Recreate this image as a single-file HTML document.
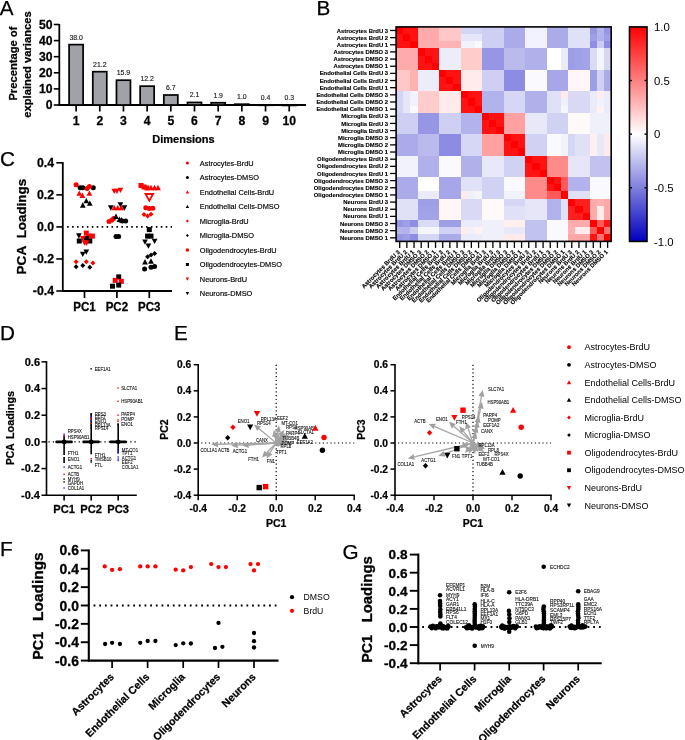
<!DOCTYPE html>
<html><head><meta charset="utf-8"><style>
html,body{margin:0;padding:0;background:#fff;width:685px;height:740px;overflow:hidden}
svg{display:block;font-family:"Liberation Sans",sans-serif;will-change:transform}
</style></head><body>
<svg width="685" height="740" viewBox="0 0 685 740">
<rect width="685" height="740" fill="#fff"/>
<text x="-0.30" y="14.70" font-size="20.7" stroke="#000" stroke-width="0.25">A</text>
<line x1="59.30" y1="24.00" x2="59.30" y2="105.80" stroke="#000" stroke-width="1.8"/>
<line x1="58.40" y1="105.00" x2="306.00" y2="105.00" stroke="#000" stroke-width="1.8"/>
<line x1="53.80" y1="105.00" x2="59.30" y2="105.00" stroke="#000" stroke-width="1.6"/>
<text x="52.60" y="109.30" font-size="12.2" font-weight="bold" text-anchor="end" stroke="#000" stroke-width="0.268">0</text>
<line x1="53.80" y1="88.90" x2="59.30" y2="88.90" stroke="#000" stroke-width="1.6"/>
<text x="52.60" y="93.20" font-size="12.2" font-weight="bold" text-anchor="end" stroke="#000" stroke-width="0.268">10</text>
<line x1="53.80" y1="72.80" x2="59.30" y2="72.80" stroke="#000" stroke-width="1.6"/>
<text x="52.60" y="77.10" font-size="12.2" font-weight="bold" text-anchor="end" stroke="#000" stroke-width="0.268">20</text>
<line x1="53.80" y1="56.70" x2="59.30" y2="56.70" stroke="#000" stroke-width="1.6"/>
<text x="52.60" y="61.00" font-size="12.2" font-weight="bold" text-anchor="end" stroke="#000" stroke-width="0.268">30</text>
<line x1="53.80" y1="40.60" x2="59.30" y2="40.60" stroke="#000" stroke-width="1.6"/>
<text x="52.60" y="44.90" font-size="12.2" font-weight="bold" text-anchor="end" stroke="#000" stroke-width="0.268">40</text>
<line x1="53.80" y1="24.50" x2="59.30" y2="24.50" stroke="#000" stroke-width="1.6"/>
<text x="52.60" y="28.80" font-size="12.2" font-weight="bold" text-anchor="end" stroke="#000" stroke-width="0.268">50</text>
<rect x="69.10" y="44.62" width="14.0" height="60.38" fill="#a1a1a8" stroke="#000" stroke-width="1.7"/>
<line x1="76.10" y1="105.00" x2="76.10" y2="111.50" stroke="#000" stroke-width="1.7"/>
<text x="76.10" y="125.00" font-size="12.2" font-weight="bold" text-anchor="middle" stroke="#000" stroke-width="0.268">1</text>
<text x="76.10" y="39.52" font-size="6.9" text-anchor="middle" fill="#222" stroke="#222" stroke-width="0.152">38.0</text>
<rect x="92.78" y="71.67" width="14.0" height="33.33" fill="#a1a1a8" stroke="#000" stroke-width="1.7"/>
<line x1="99.78" y1="105.00" x2="99.78" y2="111.50" stroke="#000" stroke-width="1.7"/>
<text x="99.78" y="125.00" font-size="12.2" font-weight="bold" text-anchor="middle" stroke="#000" stroke-width="0.268">2</text>
<text x="99.78" y="66.57" font-size="6.9" text-anchor="middle" fill="#222" stroke="#222" stroke-width="0.152">21.2</text>
<rect x="116.46" y="80.20" width="14.0" height="24.80" fill="#a1a1a8" stroke="#000" stroke-width="1.7"/>
<line x1="123.46" y1="105.00" x2="123.46" y2="111.50" stroke="#000" stroke-width="1.7"/>
<text x="123.46" y="125.00" font-size="12.2" font-weight="bold" text-anchor="middle" stroke="#000" stroke-width="0.268">3</text>
<text x="123.46" y="75.10" font-size="6.9" text-anchor="middle" fill="#222" stroke="#222" stroke-width="0.152">15.9</text>
<rect x="140.14" y="86.16" width="14.0" height="18.84" fill="#a1a1a8" stroke="#000" stroke-width="1.7"/>
<line x1="147.14" y1="105.00" x2="147.14" y2="111.50" stroke="#000" stroke-width="1.7"/>
<text x="147.14" y="125.00" font-size="12.2" font-weight="bold" text-anchor="middle" stroke="#000" stroke-width="0.268">4</text>
<text x="147.14" y="81.06" font-size="6.9" text-anchor="middle" fill="#222" stroke="#222" stroke-width="0.152">12.2</text>
<rect x="163.82" y="95.01" width="14.0" height="9.99" fill="#a1a1a8" stroke="#000" stroke-width="1.7"/>
<line x1="170.82" y1="105.00" x2="170.82" y2="111.50" stroke="#000" stroke-width="1.7"/>
<text x="170.82" y="125.00" font-size="12.2" font-weight="bold" text-anchor="middle" stroke="#000" stroke-width="0.268">5</text>
<text x="170.82" y="89.91" font-size="6.9" text-anchor="middle" fill="#222" stroke="#222" stroke-width="0.152">6.7</text>
<rect x="187.50" y="102.42" width="14.0" height="2.58" fill="#a1a1a8" stroke="#000" stroke-width="1.7"/>
<line x1="194.50" y1="105.00" x2="194.50" y2="111.50" stroke="#000" stroke-width="1.7"/>
<text x="194.50" y="125.00" font-size="12.2" font-weight="bold" text-anchor="middle" stroke="#000" stroke-width="0.268">6</text>
<text x="194.50" y="97.32" font-size="6.9" text-anchor="middle" fill="#222" stroke="#222" stroke-width="0.152">2.1</text>
<rect x="211.18" y="102.74" width="14.0" height="2.26" fill="#a1a1a8" stroke="#000" stroke-width="1.7"/>
<line x1="218.18" y1="105.00" x2="218.18" y2="111.50" stroke="#000" stroke-width="1.7"/>
<text x="218.18" y="125.00" font-size="12.2" font-weight="bold" text-anchor="middle" stroke="#000" stroke-width="0.268">7</text>
<text x="218.18" y="97.64" font-size="6.9" text-anchor="middle" fill="#222" stroke="#222" stroke-width="0.152">1.9</text>
<rect x="234.86" y="104.19" width="14.0" height="0.81" fill="#a1a1a8" stroke="#000" stroke-width="1.7"/>
<line x1="241.86" y1="105.00" x2="241.86" y2="111.50" stroke="#000" stroke-width="1.7"/>
<text x="241.86" y="125.00" font-size="12.2" font-weight="bold" text-anchor="middle" stroke="#000" stroke-width="0.268">8</text>
<text x="241.86" y="99.09" font-size="6.9" text-anchor="middle" fill="#222" stroke="#222" stroke-width="0.152">1.0</text>
<rect x="258.54" y="105.16" width="14.0" height="0.10" fill="#a1a1a8" stroke="#000" stroke-width="1.7"/>
<line x1="265.54" y1="105.00" x2="265.54" y2="111.50" stroke="#000" stroke-width="1.7"/>
<text x="265.54" y="125.00" font-size="12.2" font-weight="bold" text-anchor="middle" stroke="#000" stroke-width="0.268">9</text>
<text x="265.54" y="100.06" font-size="6.9" text-anchor="middle" fill="#222" stroke="#222" stroke-width="0.152">0.4</text>
<rect x="282.22" y="105.32" width="14.0" height="0.10" fill="#a1a1a8" stroke="#000" stroke-width="1.7"/>
<line x1="289.22" y1="105.00" x2="289.22" y2="111.50" stroke="#000" stroke-width="1.7"/>
<text x="289.22" y="125.00" font-size="12.2" font-weight="bold" text-anchor="middle" stroke="#000" stroke-width="0.268">10</text>
<text x="289.22" y="100.22" font-size="6.9" text-anchor="middle" fill="#222" stroke="#222" stroke-width="0.152">0.3</text>
<text x="183.50" y="143.10" font-size="11" font-weight="bold" text-anchor="middle" stroke="#000" stroke-width="0.242">Dimensions</text>
<text x="17.50" y="63.60" font-size="11.2" font-weight="bold" text-anchor="middle" transform="rotate(-90 17.50 63.60)" stroke="#000" stroke-width="0.246">Precentage of</text>
<text x="31.00" y="64.50" font-size="11.2" font-weight="bold" text-anchor="middle" transform="rotate(-90 31.00 64.50)" stroke="#000" stroke-width="0.246">explained variances</text>
<text x="316.50" y="15.00" font-size="20.7" stroke="#000" stroke-width="0.25">B</text>
<g shape-rendering="crispEdges">
<rect x="396.10" y="26.90" width="7.22" height="7.20" fill="rgb(255,0,0)"/>
<rect x="403.27" y="26.90" width="7.22" height="7.20" fill="rgb(255,18,18)"/>
<rect x="410.44" y="26.90" width="7.22" height="7.20" fill="rgb(255,18,18)"/>
<rect x="417.61" y="26.90" width="7.22" height="7.20" fill="rgb(255,171,171)"/>
<rect x="424.78" y="26.90" width="7.22" height="7.20" fill="rgb(255,171,171)"/>
<rect x="431.95" y="26.90" width="7.22" height="7.20" fill="rgb(255,171,171)"/>
<rect x="439.12" y="26.90" width="7.22" height="7.20" fill="rgb(255,199,199)"/>
<rect x="446.29" y="26.90" width="7.22" height="7.20" fill="rgb(255,199,199)"/>
<rect x="453.46" y="26.90" width="7.22" height="7.20" fill="rgb(255,199,199)"/>
<rect x="460.63" y="26.90" width="7.22" height="7.20" fill="rgb(212,212,244)"/>
<rect x="467.80" y="26.90" width="7.22" height="7.20" fill="rgb(212,212,244)"/>
<rect x="474.97" y="26.90" width="7.22" height="7.20" fill="rgb(212,212,244)"/>
<rect x="482.14" y="26.90" width="7.22" height="7.20" fill="rgb(207,207,243)"/>
<rect x="489.31" y="26.90" width="7.22" height="7.20" fill="rgb(207,207,243)"/>
<rect x="496.48" y="26.90" width="7.22" height="7.20" fill="rgb(207,207,243)"/>
<rect x="503.65" y="26.90" width="7.22" height="7.20" fill="rgb(171,171,234)"/>
<rect x="510.82" y="26.90" width="7.22" height="7.20" fill="rgb(171,171,234)"/>
<rect x="517.99" y="26.90" width="7.22" height="7.20" fill="rgb(171,171,234)"/>
<rect x="525.16" y="26.90" width="7.22" height="7.20" fill="rgb(242,242,252)"/>
<rect x="532.33" y="26.90" width="7.22" height="7.20" fill="rgb(242,242,252)"/>
<rect x="539.50" y="26.90" width="7.22" height="7.20" fill="rgb(242,242,252)"/>
<rect x="546.67" y="26.90" width="7.22" height="7.20" fill="rgb(171,171,234)"/>
<rect x="553.84" y="26.90" width="7.22" height="7.20" fill="rgb(171,171,234)"/>
<rect x="561.01" y="26.90" width="7.22" height="7.20" fill="rgb(171,171,234)"/>
<rect x="568.18" y="26.90" width="7.22" height="7.20" fill="rgb(224,224,247)"/>
<rect x="575.35" y="26.90" width="7.22" height="7.20" fill="rgb(224,224,247)"/>
<rect x="582.52" y="26.90" width="7.22" height="7.20" fill="rgb(224,224,247)"/>
<rect x="589.69" y="26.90" width="7.22" height="7.20" fill="rgb(150,150,228)"/>
<rect x="596.86" y="26.90" width="7.22" height="7.20" fill="rgb(181,181,236)"/>
<rect x="604.03" y="26.90" width="7.22" height="7.20" fill="rgb(150,150,228)"/>
<rect x="396.10" y="34.05" width="7.22" height="7.20" fill="rgb(255,18,18)"/>
<rect x="403.27" y="34.05" width="7.22" height="7.20" fill="rgb(255,0,0)"/>
<rect x="410.44" y="34.05" width="7.22" height="7.20" fill="rgb(255,18,18)"/>
<rect x="417.61" y="34.05" width="7.22" height="7.20" fill="rgb(255,171,171)"/>
<rect x="424.78" y="34.05" width="7.22" height="7.20" fill="rgb(255,171,171)"/>
<rect x="431.95" y="34.05" width="7.22" height="7.20" fill="rgb(255,171,171)"/>
<rect x="439.12" y="34.05" width="7.22" height="7.20" fill="rgb(255,199,199)"/>
<rect x="446.29" y="34.05" width="7.22" height="7.20" fill="rgb(255,199,199)"/>
<rect x="453.46" y="34.05" width="7.22" height="7.20" fill="rgb(255,199,199)"/>
<rect x="460.63" y="34.05" width="7.22" height="7.20" fill="rgb(230,230,248)"/>
<rect x="467.80" y="34.05" width="7.22" height="7.20" fill="rgb(230,230,248)"/>
<rect x="474.97" y="34.05" width="7.22" height="7.20" fill="rgb(230,230,248)"/>
<rect x="482.14" y="34.05" width="7.22" height="7.20" fill="rgb(207,207,243)"/>
<rect x="489.31" y="34.05" width="7.22" height="7.20" fill="rgb(207,207,243)"/>
<rect x="496.48" y="34.05" width="7.22" height="7.20" fill="rgb(207,207,243)"/>
<rect x="503.65" y="34.05" width="7.22" height="7.20" fill="rgb(171,171,234)"/>
<rect x="510.82" y="34.05" width="7.22" height="7.20" fill="rgb(171,171,234)"/>
<rect x="517.99" y="34.05" width="7.22" height="7.20" fill="rgb(171,171,234)"/>
<rect x="525.16" y="34.05" width="7.22" height="7.20" fill="rgb(242,242,252)"/>
<rect x="532.33" y="34.05" width="7.22" height="7.20" fill="rgb(242,242,252)"/>
<rect x="539.50" y="34.05" width="7.22" height="7.20" fill="rgb(242,242,252)"/>
<rect x="546.67" y="34.05" width="7.22" height="7.20" fill="rgb(171,171,234)"/>
<rect x="553.84" y="34.05" width="7.22" height="7.20" fill="rgb(171,171,234)"/>
<rect x="561.01" y="34.05" width="7.22" height="7.20" fill="rgb(171,171,234)"/>
<rect x="568.18" y="34.05" width="7.22" height="7.20" fill="rgb(224,224,247)"/>
<rect x="575.35" y="34.05" width="7.22" height="7.20" fill="rgb(224,224,247)"/>
<rect x="582.52" y="34.05" width="7.22" height="7.20" fill="rgb(224,224,247)"/>
<rect x="589.69" y="34.05" width="7.22" height="7.20" fill="rgb(158,158,230)"/>
<rect x="596.86" y="34.05" width="7.22" height="7.20" fill="rgb(178,178,236)"/>
<rect x="604.03" y="34.05" width="7.22" height="7.20" fill="rgb(158,158,230)"/>
<rect x="396.10" y="41.20" width="7.22" height="7.20" fill="rgb(255,18,18)"/>
<rect x="403.27" y="41.20" width="7.22" height="7.20" fill="rgb(255,18,18)"/>
<rect x="410.44" y="41.20" width="7.22" height="7.20" fill="rgb(255,0,0)"/>
<rect x="417.61" y="41.20" width="7.22" height="7.20" fill="rgb(255,171,171)"/>
<rect x="424.78" y="41.20" width="7.22" height="7.20" fill="rgb(255,171,171)"/>
<rect x="431.95" y="41.20" width="7.22" height="7.20" fill="rgb(255,171,171)"/>
<rect x="439.12" y="41.20" width="7.22" height="7.20" fill="rgb(255,178,178)"/>
<rect x="446.29" y="41.20" width="7.22" height="7.20" fill="rgb(255,178,178)"/>
<rect x="453.46" y="41.20" width="7.22" height="7.20" fill="rgb(255,178,178)"/>
<rect x="460.63" y="41.20" width="7.22" height="7.20" fill="rgb(242,242,252)"/>
<rect x="467.80" y="41.20" width="7.22" height="7.20" fill="rgb(242,242,252)"/>
<rect x="474.97" y="41.20" width="7.22" height="7.20" fill="rgb(250,250,254)"/>
<rect x="482.14" y="41.20" width="7.22" height="7.20" fill="rgb(207,207,243)"/>
<rect x="489.31" y="41.20" width="7.22" height="7.20" fill="rgb(207,207,243)"/>
<rect x="496.48" y="41.20" width="7.22" height="7.20" fill="rgb(207,207,243)"/>
<rect x="503.65" y="41.20" width="7.22" height="7.20" fill="rgb(171,171,234)"/>
<rect x="510.82" y="41.20" width="7.22" height="7.20" fill="rgb(171,171,234)"/>
<rect x="517.99" y="41.20" width="7.22" height="7.20" fill="rgb(171,171,234)"/>
<rect x="525.16" y="41.20" width="7.22" height="7.20" fill="rgb(242,242,252)"/>
<rect x="532.33" y="41.20" width="7.22" height="7.20" fill="rgb(242,242,252)"/>
<rect x="539.50" y="41.20" width="7.22" height="7.20" fill="rgb(242,242,252)"/>
<rect x="546.67" y="41.20" width="7.22" height="7.20" fill="rgb(171,171,234)"/>
<rect x="553.84" y="41.20" width="7.22" height="7.20" fill="rgb(171,171,234)"/>
<rect x="561.01" y="41.20" width="7.22" height="7.20" fill="rgb(171,171,234)"/>
<rect x="568.18" y="41.20" width="7.22" height="7.20" fill="rgb(224,224,247)"/>
<rect x="575.35" y="41.20" width="7.22" height="7.20" fill="rgb(224,224,247)"/>
<rect x="582.52" y="41.20" width="7.22" height="7.20" fill="rgb(224,224,247)"/>
<rect x="589.69" y="41.20" width="7.22" height="7.20" fill="rgb(143,143,226)"/>
<rect x="596.86" y="41.20" width="7.22" height="7.20" fill="rgb(204,204,242)"/>
<rect x="604.03" y="41.20" width="7.22" height="7.20" fill="rgb(140,140,226)"/>
<rect x="396.10" y="48.35" width="7.22" height="7.20" fill="rgb(255,171,171)"/>
<rect x="403.27" y="48.35" width="7.22" height="7.20" fill="rgb(255,171,171)"/>
<rect x="410.44" y="48.35" width="7.22" height="7.20" fill="rgb(255,171,171)"/>
<rect x="417.61" y="48.35" width="7.22" height="7.20" fill="rgb(255,0,0)"/>
<rect x="424.78" y="48.35" width="7.22" height="7.20" fill="rgb(255,18,18)"/>
<rect x="431.95" y="48.35" width="7.22" height="7.20" fill="rgb(255,18,18)"/>
<rect x="439.12" y="48.35" width="7.22" height="7.20" fill="rgb(237,237,250)"/>
<rect x="446.29" y="48.35" width="7.22" height="7.20" fill="rgb(237,237,250)"/>
<rect x="453.46" y="48.35" width="7.22" height="7.20" fill="rgb(237,237,250)"/>
<rect x="460.63" y="48.35" width="7.22" height="7.20" fill="rgb(255,204,204)"/>
<rect x="467.80" y="48.35" width="7.22" height="7.20" fill="rgb(255,204,204)"/>
<rect x="474.97" y="48.35" width="7.22" height="7.20" fill="rgb(255,204,204)"/>
<rect x="482.14" y="48.35" width="7.22" height="7.20" fill="rgb(150,150,228)"/>
<rect x="489.31" y="48.35" width="7.22" height="7.20" fill="rgb(150,150,228)"/>
<rect x="496.48" y="48.35" width="7.22" height="7.20" fill="rgb(150,150,228)"/>
<rect x="503.65" y="48.35" width="7.22" height="7.20" fill="rgb(186,186,237)"/>
<rect x="510.82" y="48.35" width="7.22" height="7.20" fill="rgb(186,186,237)"/>
<rect x="517.99" y="48.35" width="7.22" height="7.20" fill="rgb(186,186,237)"/>
<rect x="525.16" y="48.35" width="7.22" height="7.20" fill="rgb(176,176,235)"/>
<rect x="532.33" y="48.35" width="7.22" height="7.20" fill="rgb(176,176,235)"/>
<rect x="539.50" y="48.35" width="7.22" height="7.20" fill="rgb(176,176,235)"/>
<rect x="546.67" y="48.35" width="7.22" height="7.20" fill="rgb(255,255,255)"/>
<rect x="553.84" y="48.35" width="7.22" height="7.20" fill="rgb(255,255,255)"/>
<rect x="561.01" y="48.35" width="7.22" height="7.20" fill="rgb(235,235,250)"/>
<rect x="568.18" y="48.35" width="7.22" height="7.20" fill="rgb(158,158,230)"/>
<rect x="575.35" y="48.35" width="7.22" height="7.20" fill="rgb(161,161,231)"/>
<rect x="582.52" y="48.35" width="7.22" height="7.20" fill="rgb(163,163,232)"/>
<rect x="589.69" y="48.35" width="7.22" height="7.20" fill="rgb(219,219,246)"/>
<rect x="596.86" y="48.35" width="7.22" height="7.20" fill="rgb(245,245,252)"/>
<rect x="604.03" y="48.35" width="7.22" height="7.20" fill="rgb(214,214,245)"/>
<rect x="396.10" y="55.50" width="7.22" height="7.20" fill="rgb(255,171,171)"/>
<rect x="403.27" y="55.50" width="7.22" height="7.20" fill="rgb(255,171,171)"/>
<rect x="410.44" y="55.50" width="7.22" height="7.20" fill="rgb(255,171,171)"/>
<rect x="417.61" y="55.50" width="7.22" height="7.20" fill="rgb(255,18,18)"/>
<rect x="424.78" y="55.50" width="7.22" height="7.20" fill="rgb(255,0,0)"/>
<rect x="431.95" y="55.50" width="7.22" height="7.20" fill="rgb(255,18,18)"/>
<rect x="439.12" y="55.50" width="7.22" height="7.20" fill="rgb(237,237,250)"/>
<rect x="446.29" y="55.50" width="7.22" height="7.20" fill="rgb(237,237,250)"/>
<rect x="453.46" y="55.50" width="7.22" height="7.20" fill="rgb(237,237,250)"/>
<rect x="460.63" y="55.50" width="7.22" height="7.20" fill="rgb(255,204,204)"/>
<rect x="467.80" y="55.50" width="7.22" height="7.20" fill="rgb(255,204,204)"/>
<rect x="474.97" y="55.50" width="7.22" height="7.20" fill="rgb(255,204,204)"/>
<rect x="482.14" y="55.50" width="7.22" height="7.20" fill="rgb(150,150,228)"/>
<rect x="489.31" y="55.50" width="7.22" height="7.20" fill="rgb(150,150,228)"/>
<rect x="496.48" y="55.50" width="7.22" height="7.20" fill="rgb(150,150,228)"/>
<rect x="503.65" y="55.50" width="7.22" height="7.20" fill="rgb(186,186,237)"/>
<rect x="510.82" y="55.50" width="7.22" height="7.20" fill="rgb(186,186,237)"/>
<rect x="517.99" y="55.50" width="7.22" height="7.20" fill="rgb(186,186,237)"/>
<rect x="525.16" y="55.50" width="7.22" height="7.20" fill="rgb(176,176,235)"/>
<rect x="532.33" y="55.50" width="7.22" height="7.20" fill="rgb(176,176,235)"/>
<rect x="539.50" y="55.50" width="7.22" height="7.20" fill="rgb(176,176,235)"/>
<rect x="546.67" y="55.50" width="7.22" height="7.20" fill="rgb(255,255,255)"/>
<rect x="553.84" y="55.50" width="7.22" height="7.20" fill="rgb(255,255,255)"/>
<rect x="561.01" y="55.50" width="7.22" height="7.20" fill="rgb(235,235,250)"/>
<rect x="568.18" y="55.50" width="7.22" height="7.20" fill="rgb(158,158,230)"/>
<rect x="575.35" y="55.50" width="7.22" height="7.20" fill="rgb(161,161,231)"/>
<rect x="582.52" y="55.50" width="7.22" height="7.20" fill="rgb(163,163,232)"/>
<rect x="589.69" y="55.50" width="7.22" height="7.20" fill="rgb(219,219,246)"/>
<rect x="596.86" y="55.50" width="7.22" height="7.20" fill="rgb(245,245,252)"/>
<rect x="604.03" y="55.50" width="7.22" height="7.20" fill="rgb(214,214,245)"/>
<rect x="396.10" y="62.65" width="7.22" height="7.20" fill="rgb(255,171,171)"/>
<rect x="403.27" y="62.65" width="7.22" height="7.20" fill="rgb(255,171,171)"/>
<rect x="410.44" y="62.65" width="7.22" height="7.20" fill="rgb(255,171,171)"/>
<rect x="417.61" y="62.65" width="7.22" height="7.20" fill="rgb(255,18,18)"/>
<rect x="424.78" y="62.65" width="7.22" height="7.20" fill="rgb(255,18,18)"/>
<rect x="431.95" y="62.65" width="7.22" height="7.20" fill="rgb(255,0,0)"/>
<rect x="439.12" y="62.65" width="7.22" height="7.20" fill="rgb(237,237,250)"/>
<rect x="446.29" y="62.65" width="7.22" height="7.20" fill="rgb(237,237,250)"/>
<rect x="453.46" y="62.65" width="7.22" height="7.20" fill="rgb(237,237,250)"/>
<rect x="460.63" y="62.65" width="7.22" height="7.20" fill="rgb(255,204,204)"/>
<rect x="467.80" y="62.65" width="7.22" height="7.20" fill="rgb(255,204,204)"/>
<rect x="474.97" y="62.65" width="7.22" height="7.20" fill="rgb(255,204,204)"/>
<rect x="482.14" y="62.65" width="7.22" height="7.20" fill="rgb(150,150,228)"/>
<rect x="489.31" y="62.65" width="7.22" height="7.20" fill="rgb(150,150,228)"/>
<rect x="496.48" y="62.65" width="7.22" height="7.20" fill="rgb(150,150,228)"/>
<rect x="503.65" y="62.65" width="7.22" height="7.20" fill="rgb(186,186,237)"/>
<rect x="510.82" y="62.65" width="7.22" height="7.20" fill="rgb(186,186,237)"/>
<rect x="517.99" y="62.65" width="7.22" height="7.20" fill="rgb(186,186,237)"/>
<rect x="525.16" y="62.65" width="7.22" height="7.20" fill="rgb(176,176,235)"/>
<rect x="532.33" y="62.65" width="7.22" height="7.20" fill="rgb(176,176,235)"/>
<rect x="539.50" y="62.65" width="7.22" height="7.20" fill="rgb(176,176,235)"/>
<rect x="546.67" y="62.65" width="7.22" height="7.20" fill="rgb(255,255,255)"/>
<rect x="553.84" y="62.65" width="7.22" height="7.20" fill="rgb(255,255,255)"/>
<rect x="561.01" y="62.65" width="7.22" height="7.20" fill="rgb(235,235,250)"/>
<rect x="568.18" y="62.65" width="7.22" height="7.20" fill="rgb(158,158,230)"/>
<rect x="575.35" y="62.65" width="7.22" height="7.20" fill="rgb(161,161,231)"/>
<rect x="582.52" y="62.65" width="7.22" height="7.20" fill="rgb(163,163,232)"/>
<rect x="589.69" y="62.65" width="7.22" height="7.20" fill="rgb(219,219,246)"/>
<rect x="596.86" y="62.65" width="7.22" height="7.20" fill="rgb(245,245,252)"/>
<rect x="604.03" y="62.65" width="7.22" height="7.20" fill="rgb(214,214,245)"/>
<rect x="396.10" y="69.80" width="7.22" height="7.20" fill="rgb(255,199,199)"/>
<rect x="403.27" y="69.80" width="7.22" height="7.20" fill="rgb(255,199,199)"/>
<rect x="410.44" y="69.80" width="7.22" height="7.20" fill="rgb(255,178,178)"/>
<rect x="417.61" y="69.80" width="7.22" height="7.20" fill="rgb(237,237,250)"/>
<rect x="424.78" y="69.80" width="7.22" height="7.20" fill="rgb(237,237,250)"/>
<rect x="431.95" y="69.80" width="7.22" height="7.20" fill="rgb(237,237,250)"/>
<rect x="439.12" y="69.80" width="7.22" height="7.20" fill="rgb(255,0,0)"/>
<rect x="446.29" y="69.80" width="7.22" height="7.20" fill="rgb(255,18,18)"/>
<rect x="453.46" y="69.80" width="7.22" height="7.20" fill="rgb(255,18,18)"/>
<rect x="460.63" y="69.80" width="7.22" height="7.20" fill="rgb(255,235,235)"/>
<rect x="467.80" y="69.80" width="7.22" height="7.20" fill="rgb(255,235,235)"/>
<rect x="474.97" y="69.80" width="7.22" height="7.20" fill="rgb(255,235,235)"/>
<rect x="482.14" y="69.80" width="7.22" height="7.20" fill="rgb(207,207,243)"/>
<rect x="489.31" y="69.80" width="7.22" height="7.20" fill="rgb(207,207,243)"/>
<rect x="496.48" y="69.80" width="7.22" height="7.20" fill="rgb(207,207,243)"/>
<rect x="503.65" y="69.80" width="7.22" height="7.20" fill="rgb(140,140,226)"/>
<rect x="510.82" y="69.80" width="7.22" height="7.20" fill="rgb(140,140,226)"/>
<rect x="517.99" y="69.80" width="7.22" height="7.20" fill="rgb(140,140,226)"/>
<rect x="525.16" y="69.80" width="7.22" height="7.20" fill="rgb(250,250,254)"/>
<rect x="532.33" y="69.80" width="7.22" height="7.20" fill="rgb(250,250,254)"/>
<rect x="539.50" y="69.80" width="7.22" height="7.20" fill="rgb(250,250,254)"/>
<rect x="546.67" y="69.80" width="7.22" height="7.20" fill="rgb(166,166,232)"/>
<rect x="553.84" y="69.80" width="7.22" height="7.20" fill="rgb(166,166,232)"/>
<rect x="561.01" y="69.80" width="7.22" height="7.20" fill="rgb(166,166,232)"/>
<rect x="568.18" y="69.80" width="7.22" height="7.20" fill="rgb(255,247,247)"/>
<rect x="575.35" y="69.80" width="7.22" height="7.20" fill="rgb(255,247,247)"/>
<rect x="582.52" y="69.80" width="7.22" height="7.20" fill="rgb(255,247,247)"/>
<rect x="589.69" y="69.80" width="7.22" height="7.20" fill="rgb(158,158,230)"/>
<rect x="596.86" y="69.80" width="7.22" height="7.20" fill="rgb(209,209,243)"/>
<rect x="604.03" y="69.80" width="7.22" height="7.20" fill="rgb(171,171,234)"/>
<rect x="396.10" y="76.95" width="7.22" height="7.20" fill="rgb(255,199,199)"/>
<rect x="403.27" y="76.95" width="7.22" height="7.20" fill="rgb(255,199,199)"/>
<rect x="410.44" y="76.95" width="7.22" height="7.20" fill="rgb(255,178,178)"/>
<rect x="417.61" y="76.95" width="7.22" height="7.20" fill="rgb(237,237,250)"/>
<rect x="424.78" y="76.95" width="7.22" height="7.20" fill="rgb(237,237,250)"/>
<rect x="431.95" y="76.95" width="7.22" height="7.20" fill="rgb(237,237,250)"/>
<rect x="439.12" y="76.95" width="7.22" height="7.20" fill="rgb(255,18,18)"/>
<rect x="446.29" y="76.95" width="7.22" height="7.20" fill="rgb(255,0,0)"/>
<rect x="453.46" y="76.95" width="7.22" height="7.20" fill="rgb(255,18,18)"/>
<rect x="460.63" y="76.95" width="7.22" height="7.20" fill="rgb(255,235,235)"/>
<rect x="467.80" y="76.95" width="7.22" height="7.20" fill="rgb(255,235,235)"/>
<rect x="474.97" y="76.95" width="7.22" height="7.20" fill="rgb(255,235,235)"/>
<rect x="482.14" y="76.95" width="7.22" height="7.20" fill="rgb(207,207,243)"/>
<rect x="489.31" y="76.95" width="7.22" height="7.20" fill="rgb(207,207,243)"/>
<rect x="496.48" y="76.95" width="7.22" height="7.20" fill="rgb(207,207,243)"/>
<rect x="503.65" y="76.95" width="7.22" height="7.20" fill="rgb(140,140,226)"/>
<rect x="510.82" y="76.95" width="7.22" height="7.20" fill="rgb(140,140,226)"/>
<rect x="517.99" y="76.95" width="7.22" height="7.20" fill="rgb(140,140,226)"/>
<rect x="525.16" y="76.95" width="7.22" height="7.20" fill="rgb(250,250,254)"/>
<rect x="532.33" y="76.95" width="7.22" height="7.20" fill="rgb(250,250,254)"/>
<rect x="539.50" y="76.95" width="7.22" height="7.20" fill="rgb(250,250,254)"/>
<rect x="546.67" y="76.95" width="7.22" height="7.20" fill="rgb(166,166,232)"/>
<rect x="553.84" y="76.95" width="7.22" height="7.20" fill="rgb(166,166,232)"/>
<rect x="561.01" y="76.95" width="7.22" height="7.20" fill="rgb(166,166,232)"/>
<rect x="568.18" y="76.95" width="7.22" height="7.20" fill="rgb(255,247,247)"/>
<rect x="575.35" y="76.95" width="7.22" height="7.20" fill="rgb(255,247,247)"/>
<rect x="582.52" y="76.95" width="7.22" height="7.20" fill="rgb(255,247,247)"/>
<rect x="589.69" y="76.95" width="7.22" height="7.20" fill="rgb(158,158,230)"/>
<rect x="596.86" y="76.95" width="7.22" height="7.20" fill="rgb(209,209,243)"/>
<rect x="604.03" y="76.95" width="7.22" height="7.20" fill="rgb(171,171,234)"/>
<rect x="396.10" y="84.10" width="7.22" height="7.20" fill="rgb(255,199,199)"/>
<rect x="403.27" y="84.10" width="7.22" height="7.20" fill="rgb(255,199,199)"/>
<rect x="410.44" y="84.10" width="7.22" height="7.20" fill="rgb(255,178,178)"/>
<rect x="417.61" y="84.10" width="7.22" height="7.20" fill="rgb(237,237,250)"/>
<rect x="424.78" y="84.10" width="7.22" height="7.20" fill="rgb(237,237,250)"/>
<rect x="431.95" y="84.10" width="7.22" height="7.20" fill="rgb(237,237,250)"/>
<rect x="439.12" y="84.10" width="7.22" height="7.20" fill="rgb(255,18,18)"/>
<rect x="446.29" y="84.10" width="7.22" height="7.20" fill="rgb(255,18,18)"/>
<rect x="453.46" y="84.10" width="7.22" height="7.20" fill="rgb(255,0,0)"/>
<rect x="460.63" y="84.10" width="7.22" height="7.20" fill="rgb(255,235,235)"/>
<rect x="467.80" y="84.10" width="7.22" height="7.20" fill="rgb(255,235,235)"/>
<rect x="474.97" y="84.10" width="7.22" height="7.20" fill="rgb(255,235,235)"/>
<rect x="482.14" y="84.10" width="7.22" height="7.20" fill="rgb(207,207,243)"/>
<rect x="489.31" y="84.10" width="7.22" height="7.20" fill="rgb(207,207,243)"/>
<rect x="496.48" y="84.10" width="7.22" height="7.20" fill="rgb(207,207,243)"/>
<rect x="503.65" y="84.10" width="7.22" height="7.20" fill="rgb(140,140,226)"/>
<rect x="510.82" y="84.10" width="7.22" height="7.20" fill="rgb(140,140,226)"/>
<rect x="517.99" y="84.10" width="7.22" height="7.20" fill="rgb(140,140,226)"/>
<rect x="525.16" y="84.10" width="7.22" height="7.20" fill="rgb(250,250,254)"/>
<rect x="532.33" y="84.10" width="7.22" height="7.20" fill="rgb(250,250,254)"/>
<rect x="539.50" y="84.10" width="7.22" height="7.20" fill="rgb(250,250,254)"/>
<rect x="546.67" y="84.10" width="7.22" height="7.20" fill="rgb(166,166,232)"/>
<rect x="553.84" y="84.10" width="7.22" height="7.20" fill="rgb(166,166,232)"/>
<rect x="561.01" y="84.10" width="7.22" height="7.20" fill="rgb(166,166,232)"/>
<rect x="568.18" y="84.10" width="7.22" height="7.20" fill="rgb(255,247,247)"/>
<rect x="575.35" y="84.10" width="7.22" height="7.20" fill="rgb(255,247,247)"/>
<rect x="582.52" y="84.10" width="7.22" height="7.20" fill="rgb(255,247,247)"/>
<rect x="589.69" y="84.10" width="7.22" height="7.20" fill="rgb(158,158,230)"/>
<rect x="596.86" y="84.10" width="7.22" height="7.20" fill="rgb(209,209,243)"/>
<rect x="604.03" y="84.10" width="7.22" height="7.20" fill="rgb(171,171,234)"/>
<rect x="396.10" y="91.25" width="7.22" height="7.20" fill="rgb(212,212,244)"/>
<rect x="403.27" y="91.25" width="7.22" height="7.20" fill="rgb(230,230,248)"/>
<rect x="410.44" y="91.25" width="7.22" height="7.20" fill="rgb(242,242,252)"/>
<rect x="417.61" y="91.25" width="7.22" height="7.20" fill="rgb(255,204,204)"/>
<rect x="424.78" y="91.25" width="7.22" height="7.20" fill="rgb(255,204,204)"/>
<rect x="431.95" y="91.25" width="7.22" height="7.20" fill="rgb(255,204,204)"/>
<rect x="439.12" y="91.25" width="7.22" height="7.20" fill="rgb(255,235,235)"/>
<rect x="446.29" y="91.25" width="7.22" height="7.20" fill="rgb(255,235,235)"/>
<rect x="453.46" y="91.25" width="7.22" height="7.20" fill="rgb(255,235,235)"/>
<rect x="460.63" y="91.25" width="7.22" height="7.20" fill="rgb(255,0,0)"/>
<rect x="467.80" y="91.25" width="7.22" height="7.20" fill="rgb(255,18,18)"/>
<rect x="474.97" y="91.25" width="7.22" height="7.20" fill="rgb(255,18,18)"/>
<rect x="482.14" y="91.25" width="7.22" height="7.20" fill="rgb(178,178,236)"/>
<rect x="489.31" y="91.25" width="7.22" height="7.20" fill="rgb(178,178,236)"/>
<rect x="496.48" y="91.25" width="7.22" height="7.20" fill="rgb(178,178,236)"/>
<rect x="503.65" y="91.25" width="7.22" height="7.20" fill="rgb(214,214,245)"/>
<rect x="510.82" y="91.25" width="7.22" height="7.20" fill="rgb(214,214,245)"/>
<rect x="517.99" y="91.25" width="7.22" height="7.20" fill="rgb(214,214,245)"/>
<rect x="525.16" y="91.25" width="7.22" height="7.20" fill="rgb(176,176,235)"/>
<rect x="532.33" y="91.25" width="7.22" height="7.20" fill="rgb(176,176,235)"/>
<rect x="539.50" y="91.25" width="7.22" height="7.20" fill="rgb(176,176,235)"/>
<rect x="546.67" y="91.25" width="7.22" height="7.20" fill="rgb(224,224,247)"/>
<rect x="553.84" y="91.25" width="7.22" height="7.20" fill="rgb(224,224,247)"/>
<rect x="561.01" y="91.25" width="7.22" height="7.20" fill="rgb(255,235,235)"/>
<rect x="568.18" y="91.25" width="7.22" height="7.20" fill="rgb(217,217,245)"/>
<rect x="575.35" y="91.25" width="7.22" height="7.20" fill="rgb(217,217,245)"/>
<rect x="582.52" y="91.25" width="7.22" height="7.20" fill="rgb(217,217,245)"/>
<rect x="589.69" y="91.25" width="7.22" height="7.20" fill="rgb(235,235,250)"/>
<rect x="596.86" y="91.25" width="7.22" height="7.20" fill="rgb(255,237,237)"/>
<rect x="604.03" y="91.25" width="7.22" height="7.20" fill="rgb(235,235,250)"/>
<rect x="396.10" y="98.40" width="7.22" height="7.20" fill="rgb(212,212,244)"/>
<rect x="403.27" y="98.40" width="7.22" height="7.20" fill="rgb(230,230,248)"/>
<rect x="410.44" y="98.40" width="7.22" height="7.20" fill="rgb(242,242,252)"/>
<rect x="417.61" y="98.40" width="7.22" height="7.20" fill="rgb(255,204,204)"/>
<rect x="424.78" y="98.40" width="7.22" height="7.20" fill="rgb(255,204,204)"/>
<rect x="431.95" y="98.40" width="7.22" height="7.20" fill="rgb(255,204,204)"/>
<rect x="439.12" y="98.40" width="7.22" height="7.20" fill="rgb(255,235,235)"/>
<rect x="446.29" y="98.40" width="7.22" height="7.20" fill="rgb(255,235,235)"/>
<rect x="453.46" y="98.40" width="7.22" height="7.20" fill="rgb(255,235,235)"/>
<rect x="460.63" y="98.40" width="7.22" height="7.20" fill="rgb(255,18,18)"/>
<rect x="467.80" y="98.40" width="7.22" height="7.20" fill="rgb(255,0,0)"/>
<rect x="474.97" y="98.40" width="7.22" height="7.20" fill="rgb(255,18,18)"/>
<rect x="482.14" y="98.40" width="7.22" height="7.20" fill="rgb(178,178,236)"/>
<rect x="489.31" y="98.40" width="7.22" height="7.20" fill="rgb(178,178,236)"/>
<rect x="496.48" y="98.40" width="7.22" height="7.20" fill="rgb(178,178,236)"/>
<rect x="503.65" y="98.40" width="7.22" height="7.20" fill="rgb(214,214,245)"/>
<rect x="510.82" y="98.40" width="7.22" height="7.20" fill="rgb(214,214,245)"/>
<rect x="517.99" y="98.40" width="7.22" height="7.20" fill="rgb(214,214,245)"/>
<rect x="525.16" y="98.40" width="7.22" height="7.20" fill="rgb(176,176,235)"/>
<rect x="532.33" y="98.40" width="7.22" height="7.20" fill="rgb(176,176,235)"/>
<rect x="539.50" y="98.40" width="7.22" height="7.20" fill="rgb(176,176,235)"/>
<rect x="546.67" y="98.40" width="7.22" height="7.20" fill="rgb(224,224,247)"/>
<rect x="553.84" y="98.40" width="7.22" height="7.20" fill="rgb(224,224,247)"/>
<rect x="561.01" y="98.40" width="7.22" height="7.20" fill="rgb(240,240,251)"/>
<rect x="568.18" y="98.40" width="7.22" height="7.20" fill="rgb(217,217,245)"/>
<rect x="575.35" y="98.40" width="7.22" height="7.20" fill="rgb(217,217,245)"/>
<rect x="582.52" y="98.40" width="7.22" height="7.20" fill="rgb(217,217,245)"/>
<rect x="589.69" y="98.40" width="7.22" height="7.20" fill="rgb(235,235,250)"/>
<rect x="596.86" y="98.40" width="7.22" height="7.20" fill="rgb(242,242,252)"/>
<rect x="604.03" y="98.40" width="7.22" height="7.20" fill="rgb(235,235,250)"/>
<rect x="396.10" y="105.55" width="7.22" height="7.20" fill="rgb(212,212,244)"/>
<rect x="403.27" y="105.55" width="7.22" height="7.20" fill="rgb(230,230,248)"/>
<rect x="410.44" y="105.55" width="7.22" height="7.20" fill="rgb(250,250,254)"/>
<rect x="417.61" y="105.55" width="7.22" height="7.20" fill="rgb(255,204,204)"/>
<rect x="424.78" y="105.55" width="7.22" height="7.20" fill="rgb(255,204,204)"/>
<rect x="431.95" y="105.55" width="7.22" height="7.20" fill="rgb(255,204,204)"/>
<rect x="439.12" y="105.55" width="7.22" height="7.20" fill="rgb(255,235,235)"/>
<rect x="446.29" y="105.55" width="7.22" height="7.20" fill="rgb(255,235,235)"/>
<rect x="453.46" y="105.55" width="7.22" height="7.20" fill="rgb(255,235,235)"/>
<rect x="460.63" y="105.55" width="7.22" height="7.20" fill="rgb(255,18,18)"/>
<rect x="467.80" y="105.55" width="7.22" height="7.20" fill="rgb(255,18,18)"/>
<rect x="474.97" y="105.55" width="7.22" height="7.20" fill="rgb(255,0,0)"/>
<rect x="482.14" y="105.55" width="7.22" height="7.20" fill="rgb(178,178,236)"/>
<rect x="489.31" y="105.55" width="7.22" height="7.20" fill="rgb(178,178,236)"/>
<rect x="496.48" y="105.55" width="7.22" height="7.20" fill="rgb(178,178,236)"/>
<rect x="503.65" y="105.55" width="7.22" height="7.20" fill="rgb(214,214,245)"/>
<rect x="510.82" y="105.55" width="7.22" height="7.20" fill="rgb(214,214,245)"/>
<rect x="517.99" y="105.55" width="7.22" height="7.20" fill="rgb(214,214,245)"/>
<rect x="525.16" y="105.55" width="7.22" height="7.20" fill="rgb(176,176,235)"/>
<rect x="532.33" y="105.55" width="7.22" height="7.20" fill="rgb(176,176,235)"/>
<rect x="539.50" y="105.55" width="7.22" height="7.20" fill="rgb(176,176,235)"/>
<rect x="546.67" y="105.55" width="7.22" height="7.20" fill="rgb(224,224,247)"/>
<rect x="553.84" y="105.55" width="7.22" height="7.20" fill="rgb(224,224,247)"/>
<rect x="561.01" y="105.55" width="7.22" height="7.20" fill="rgb(245,245,252)"/>
<rect x="568.18" y="105.55" width="7.22" height="7.20" fill="rgb(217,217,245)"/>
<rect x="575.35" y="105.55" width="7.22" height="7.20" fill="rgb(217,217,245)"/>
<rect x="582.52" y="105.55" width="7.22" height="7.20" fill="rgb(217,217,245)"/>
<rect x="589.69" y="105.55" width="7.22" height="7.20" fill="rgb(235,235,250)"/>
<rect x="596.86" y="105.55" width="7.22" height="7.20" fill="rgb(255,242,242)"/>
<rect x="604.03" y="105.55" width="7.22" height="7.20" fill="rgb(235,235,250)"/>
<rect x="396.10" y="112.70" width="7.22" height="7.20" fill="rgb(207,207,243)"/>
<rect x="403.27" y="112.70" width="7.22" height="7.20" fill="rgb(207,207,243)"/>
<rect x="410.44" y="112.70" width="7.22" height="7.20" fill="rgb(207,207,243)"/>
<rect x="417.61" y="112.70" width="7.22" height="7.20" fill="rgb(150,150,228)"/>
<rect x="424.78" y="112.70" width="7.22" height="7.20" fill="rgb(150,150,228)"/>
<rect x="431.95" y="112.70" width="7.22" height="7.20" fill="rgb(150,150,228)"/>
<rect x="439.12" y="112.70" width="7.22" height="7.20" fill="rgb(207,207,243)"/>
<rect x="446.29" y="112.70" width="7.22" height="7.20" fill="rgb(207,207,243)"/>
<rect x="453.46" y="112.70" width="7.22" height="7.20" fill="rgb(207,207,243)"/>
<rect x="460.63" y="112.70" width="7.22" height="7.20" fill="rgb(178,178,236)"/>
<rect x="467.80" y="112.70" width="7.22" height="7.20" fill="rgb(178,178,236)"/>
<rect x="474.97" y="112.70" width="7.22" height="7.20" fill="rgb(178,178,236)"/>
<rect x="482.14" y="112.70" width="7.22" height="7.20" fill="rgb(255,0,0)"/>
<rect x="489.31" y="112.70" width="7.22" height="7.20" fill="rgb(255,18,18)"/>
<rect x="496.48" y="112.70" width="7.22" height="7.20" fill="rgb(255,18,18)"/>
<rect x="503.65" y="112.70" width="7.22" height="7.20" fill="rgb(255,161,161)"/>
<rect x="510.82" y="112.70" width="7.22" height="7.20" fill="rgb(255,161,161)"/>
<rect x="517.99" y="112.70" width="7.22" height="7.20" fill="rgb(255,161,161)"/>
<rect x="525.16" y="112.70" width="7.22" height="7.20" fill="rgb(232,232,249)"/>
<rect x="532.33" y="112.70" width="7.22" height="7.20" fill="rgb(232,232,249)"/>
<rect x="539.50" y="112.70" width="7.22" height="7.20" fill="rgb(232,232,249)"/>
<rect x="546.67" y="112.70" width="7.22" height="7.20" fill="rgb(209,209,243)"/>
<rect x="553.84" y="112.70" width="7.22" height="7.20" fill="rgb(209,209,243)"/>
<rect x="561.01" y="112.70" width="7.22" height="7.20" fill="rgb(209,209,243)"/>
<rect x="568.18" y="112.70" width="7.22" height="7.20" fill="rgb(255,250,250)"/>
<rect x="575.35" y="112.70" width="7.22" height="7.20" fill="rgb(255,250,250)"/>
<rect x="582.52" y="112.70" width="7.22" height="7.20" fill="rgb(255,250,250)"/>
<rect x="589.69" y="112.70" width="7.22" height="7.20" fill="rgb(240,240,251)"/>
<rect x="596.86" y="112.70" width="7.22" height="7.20" fill="rgb(240,240,251)"/>
<rect x="604.03" y="112.70" width="7.22" height="7.20" fill="rgb(240,240,251)"/>
<rect x="396.10" y="119.85" width="7.22" height="7.20" fill="rgb(207,207,243)"/>
<rect x="403.27" y="119.85" width="7.22" height="7.20" fill="rgb(207,207,243)"/>
<rect x="410.44" y="119.85" width="7.22" height="7.20" fill="rgb(207,207,243)"/>
<rect x="417.61" y="119.85" width="7.22" height="7.20" fill="rgb(150,150,228)"/>
<rect x="424.78" y="119.85" width="7.22" height="7.20" fill="rgb(150,150,228)"/>
<rect x="431.95" y="119.85" width="7.22" height="7.20" fill="rgb(150,150,228)"/>
<rect x="439.12" y="119.85" width="7.22" height="7.20" fill="rgb(207,207,243)"/>
<rect x="446.29" y="119.85" width="7.22" height="7.20" fill="rgb(207,207,243)"/>
<rect x="453.46" y="119.85" width="7.22" height="7.20" fill="rgb(207,207,243)"/>
<rect x="460.63" y="119.85" width="7.22" height="7.20" fill="rgb(178,178,236)"/>
<rect x="467.80" y="119.85" width="7.22" height="7.20" fill="rgb(178,178,236)"/>
<rect x="474.97" y="119.85" width="7.22" height="7.20" fill="rgb(178,178,236)"/>
<rect x="482.14" y="119.85" width="7.22" height="7.20" fill="rgb(255,18,18)"/>
<rect x="489.31" y="119.85" width="7.22" height="7.20" fill="rgb(255,0,0)"/>
<rect x="496.48" y="119.85" width="7.22" height="7.20" fill="rgb(255,18,18)"/>
<rect x="503.65" y="119.85" width="7.22" height="7.20" fill="rgb(255,161,161)"/>
<rect x="510.82" y="119.85" width="7.22" height="7.20" fill="rgb(255,161,161)"/>
<rect x="517.99" y="119.85" width="7.22" height="7.20" fill="rgb(255,161,161)"/>
<rect x="525.16" y="119.85" width="7.22" height="7.20" fill="rgb(232,232,249)"/>
<rect x="532.33" y="119.85" width="7.22" height="7.20" fill="rgb(232,232,249)"/>
<rect x="539.50" y="119.85" width="7.22" height="7.20" fill="rgb(232,232,249)"/>
<rect x="546.67" y="119.85" width="7.22" height="7.20" fill="rgb(209,209,243)"/>
<rect x="553.84" y="119.85" width="7.22" height="7.20" fill="rgb(209,209,243)"/>
<rect x="561.01" y="119.85" width="7.22" height="7.20" fill="rgb(209,209,243)"/>
<rect x="568.18" y="119.85" width="7.22" height="7.20" fill="rgb(255,250,250)"/>
<rect x="575.35" y="119.85" width="7.22" height="7.20" fill="rgb(255,250,250)"/>
<rect x="582.52" y="119.85" width="7.22" height="7.20" fill="rgb(255,250,250)"/>
<rect x="589.69" y="119.85" width="7.22" height="7.20" fill="rgb(240,240,251)"/>
<rect x="596.86" y="119.85" width="7.22" height="7.20" fill="rgb(240,240,251)"/>
<rect x="604.03" y="119.85" width="7.22" height="7.20" fill="rgb(240,240,251)"/>
<rect x="396.10" y="127.00" width="7.22" height="7.20" fill="rgb(207,207,243)"/>
<rect x="403.27" y="127.00" width="7.22" height="7.20" fill="rgb(207,207,243)"/>
<rect x="410.44" y="127.00" width="7.22" height="7.20" fill="rgb(207,207,243)"/>
<rect x="417.61" y="127.00" width="7.22" height="7.20" fill="rgb(150,150,228)"/>
<rect x="424.78" y="127.00" width="7.22" height="7.20" fill="rgb(150,150,228)"/>
<rect x="431.95" y="127.00" width="7.22" height="7.20" fill="rgb(150,150,228)"/>
<rect x="439.12" y="127.00" width="7.22" height="7.20" fill="rgb(207,207,243)"/>
<rect x="446.29" y="127.00" width="7.22" height="7.20" fill="rgb(207,207,243)"/>
<rect x="453.46" y="127.00" width="7.22" height="7.20" fill="rgb(207,207,243)"/>
<rect x="460.63" y="127.00" width="7.22" height="7.20" fill="rgb(178,178,236)"/>
<rect x="467.80" y="127.00" width="7.22" height="7.20" fill="rgb(178,178,236)"/>
<rect x="474.97" y="127.00" width="7.22" height="7.20" fill="rgb(178,178,236)"/>
<rect x="482.14" y="127.00" width="7.22" height="7.20" fill="rgb(255,18,18)"/>
<rect x="489.31" y="127.00" width="7.22" height="7.20" fill="rgb(255,18,18)"/>
<rect x="496.48" y="127.00" width="7.22" height="7.20" fill="rgb(255,0,0)"/>
<rect x="503.65" y="127.00" width="7.22" height="7.20" fill="rgb(255,161,161)"/>
<rect x="510.82" y="127.00" width="7.22" height="7.20" fill="rgb(255,161,161)"/>
<rect x="517.99" y="127.00" width="7.22" height="7.20" fill="rgb(255,161,161)"/>
<rect x="525.16" y="127.00" width="7.22" height="7.20" fill="rgb(232,232,249)"/>
<rect x="532.33" y="127.00" width="7.22" height="7.20" fill="rgb(232,232,249)"/>
<rect x="539.50" y="127.00" width="7.22" height="7.20" fill="rgb(232,232,249)"/>
<rect x="546.67" y="127.00" width="7.22" height="7.20" fill="rgb(209,209,243)"/>
<rect x="553.84" y="127.00" width="7.22" height="7.20" fill="rgb(209,209,243)"/>
<rect x="561.01" y="127.00" width="7.22" height="7.20" fill="rgb(209,209,243)"/>
<rect x="568.18" y="127.00" width="7.22" height="7.20" fill="rgb(255,250,250)"/>
<rect x="575.35" y="127.00" width="7.22" height="7.20" fill="rgb(255,250,250)"/>
<rect x="582.52" y="127.00" width="7.22" height="7.20" fill="rgb(255,250,250)"/>
<rect x="589.69" y="127.00" width="7.22" height="7.20" fill="rgb(240,240,251)"/>
<rect x="596.86" y="127.00" width="7.22" height="7.20" fill="rgb(240,240,251)"/>
<rect x="604.03" y="127.00" width="7.22" height="7.20" fill="rgb(240,240,251)"/>
<rect x="396.10" y="134.15" width="7.22" height="7.20" fill="rgb(171,171,234)"/>
<rect x="403.27" y="134.15" width="7.22" height="7.20" fill="rgb(171,171,234)"/>
<rect x="410.44" y="134.15" width="7.22" height="7.20" fill="rgb(171,171,234)"/>
<rect x="417.61" y="134.15" width="7.22" height="7.20" fill="rgb(186,186,237)"/>
<rect x="424.78" y="134.15" width="7.22" height="7.20" fill="rgb(186,186,237)"/>
<rect x="431.95" y="134.15" width="7.22" height="7.20" fill="rgb(186,186,237)"/>
<rect x="439.12" y="134.15" width="7.22" height="7.20" fill="rgb(140,140,226)"/>
<rect x="446.29" y="134.15" width="7.22" height="7.20" fill="rgb(140,140,226)"/>
<rect x="453.46" y="134.15" width="7.22" height="7.20" fill="rgb(140,140,226)"/>
<rect x="460.63" y="134.15" width="7.22" height="7.20" fill="rgb(214,214,245)"/>
<rect x="467.80" y="134.15" width="7.22" height="7.20" fill="rgb(214,214,245)"/>
<rect x="474.97" y="134.15" width="7.22" height="7.20" fill="rgb(214,214,245)"/>
<rect x="482.14" y="134.15" width="7.22" height="7.20" fill="rgb(255,161,161)"/>
<rect x="489.31" y="134.15" width="7.22" height="7.20" fill="rgb(255,161,161)"/>
<rect x="496.48" y="134.15" width="7.22" height="7.20" fill="rgb(255,161,161)"/>
<rect x="503.65" y="134.15" width="7.22" height="7.20" fill="rgb(255,0,0)"/>
<rect x="510.82" y="134.15" width="7.22" height="7.20" fill="rgb(255,18,18)"/>
<rect x="517.99" y="134.15" width="7.22" height="7.20" fill="rgb(255,18,18)"/>
<rect x="525.16" y="134.15" width="7.22" height="7.20" fill="rgb(209,209,243)"/>
<rect x="532.33" y="134.15" width="7.22" height="7.20" fill="rgb(209,209,243)"/>
<rect x="539.50" y="134.15" width="7.22" height="7.20" fill="rgb(209,209,243)"/>
<rect x="546.67" y="134.15" width="7.22" height="7.20" fill="rgb(250,250,254)"/>
<rect x="553.84" y="134.15" width="7.22" height="7.20" fill="rgb(250,250,254)"/>
<rect x="561.01" y="134.15" width="7.22" height="7.20" fill="rgb(242,242,252)"/>
<rect x="568.18" y="134.15" width="7.22" height="7.20" fill="rgb(214,214,245)"/>
<rect x="575.35" y="134.15" width="7.22" height="7.20" fill="rgb(224,224,247)"/>
<rect x="582.52" y="134.15" width="7.22" height="7.20" fill="rgb(224,224,247)"/>
<rect x="589.69" y="134.15" width="7.22" height="7.20" fill="rgb(255,240,240)"/>
<rect x="596.86" y="134.15" width="7.22" height="7.20" fill="rgb(232,232,249)"/>
<rect x="604.03" y="134.15" width="7.22" height="7.20" fill="rgb(255,235,235)"/>
<rect x="396.10" y="141.30" width="7.22" height="7.20" fill="rgb(171,171,234)"/>
<rect x="403.27" y="141.30" width="7.22" height="7.20" fill="rgb(171,171,234)"/>
<rect x="410.44" y="141.30" width="7.22" height="7.20" fill="rgb(171,171,234)"/>
<rect x="417.61" y="141.30" width="7.22" height="7.20" fill="rgb(186,186,237)"/>
<rect x="424.78" y="141.30" width="7.22" height="7.20" fill="rgb(186,186,237)"/>
<rect x="431.95" y="141.30" width="7.22" height="7.20" fill="rgb(186,186,237)"/>
<rect x="439.12" y="141.30" width="7.22" height="7.20" fill="rgb(140,140,226)"/>
<rect x="446.29" y="141.30" width="7.22" height="7.20" fill="rgb(140,140,226)"/>
<rect x="453.46" y="141.30" width="7.22" height="7.20" fill="rgb(140,140,226)"/>
<rect x="460.63" y="141.30" width="7.22" height="7.20" fill="rgb(214,214,245)"/>
<rect x="467.80" y="141.30" width="7.22" height="7.20" fill="rgb(214,214,245)"/>
<rect x="474.97" y="141.30" width="7.22" height="7.20" fill="rgb(214,214,245)"/>
<rect x="482.14" y="141.30" width="7.22" height="7.20" fill="rgb(255,161,161)"/>
<rect x="489.31" y="141.30" width="7.22" height="7.20" fill="rgb(255,161,161)"/>
<rect x="496.48" y="141.30" width="7.22" height="7.20" fill="rgb(255,161,161)"/>
<rect x="503.65" y="141.30" width="7.22" height="7.20" fill="rgb(255,18,18)"/>
<rect x="510.82" y="141.30" width="7.22" height="7.20" fill="rgb(255,0,0)"/>
<rect x="517.99" y="141.30" width="7.22" height="7.20" fill="rgb(255,18,18)"/>
<rect x="525.16" y="141.30" width="7.22" height="7.20" fill="rgb(209,209,243)"/>
<rect x="532.33" y="141.30" width="7.22" height="7.20" fill="rgb(209,209,243)"/>
<rect x="539.50" y="141.30" width="7.22" height="7.20" fill="rgb(209,209,243)"/>
<rect x="546.67" y="141.30" width="7.22" height="7.20" fill="rgb(250,250,254)"/>
<rect x="553.84" y="141.30" width="7.22" height="7.20" fill="rgb(250,250,254)"/>
<rect x="561.01" y="141.30" width="7.22" height="7.20" fill="rgb(242,242,252)"/>
<rect x="568.18" y="141.30" width="7.22" height="7.20" fill="rgb(214,214,245)"/>
<rect x="575.35" y="141.30" width="7.22" height="7.20" fill="rgb(224,224,247)"/>
<rect x="582.52" y="141.30" width="7.22" height="7.20" fill="rgb(224,224,247)"/>
<rect x="589.69" y="141.30" width="7.22" height="7.20" fill="rgb(255,240,240)"/>
<rect x="596.86" y="141.30" width="7.22" height="7.20" fill="rgb(232,232,249)"/>
<rect x="604.03" y="141.30" width="7.22" height="7.20" fill="rgb(255,235,235)"/>
<rect x="396.10" y="148.45" width="7.22" height="7.20" fill="rgb(171,171,234)"/>
<rect x="403.27" y="148.45" width="7.22" height="7.20" fill="rgb(171,171,234)"/>
<rect x="410.44" y="148.45" width="7.22" height="7.20" fill="rgb(171,171,234)"/>
<rect x="417.61" y="148.45" width="7.22" height="7.20" fill="rgb(186,186,237)"/>
<rect x="424.78" y="148.45" width="7.22" height="7.20" fill="rgb(186,186,237)"/>
<rect x="431.95" y="148.45" width="7.22" height="7.20" fill="rgb(186,186,237)"/>
<rect x="439.12" y="148.45" width="7.22" height="7.20" fill="rgb(140,140,226)"/>
<rect x="446.29" y="148.45" width="7.22" height="7.20" fill="rgb(140,140,226)"/>
<rect x="453.46" y="148.45" width="7.22" height="7.20" fill="rgb(140,140,226)"/>
<rect x="460.63" y="148.45" width="7.22" height="7.20" fill="rgb(214,214,245)"/>
<rect x="467.80" y="148.45" width="7.22" height="7.20" fill="rgb(214,214,245)"/>
<rect x="474.97" y="148.45" width="7.22" height="7.20" fill="rgb(214,214,245)"/>
<rect x="482.14" y="148.45" width="7.22" height="7.20" fill="rgb(255,161,161)"/>
<rect x="489.31" y="148.45" width="7.22" height="7.20" fill="rgb(255,161,161)"/>
<rect x="496.48" y="148.45" width="7.22" height="7.20" fill="rgb(255,161,161)"/>
<rect x="503.65" y="148.45" width="7.22" height="7.20" fill="rgb(255,18,18)"/>
<rect x="510.82" y="148.45" width="7.22" height="7.20" fill="rgb(255,18,18)"/>
<rect x="517.99" y="148.45" width="7.22" height="7.20" fill="rgb(255,0,0)"/>
<rect x="525.16" y="148.45" width="7.22" height="7.20" fill="rgb(209,209,243)"/>
<rect x="532.33" y="148.45" width="7.22" height="7.20" fill="rgb(209,209,243)"/>
<rect x="539.50" y="148.45" width="7.22" height="7.20" fill="rgb(209,209,243)"/>
<rect x="546.67" y="148.45" width="7.22" height="7.20" fill="rgb(250,250,254)"/>
<rect x="553.84" y="148.45" width="7.22" height="7.20" fill="rgb(250,250,254)"/>
<rect x="561.01" y="148.45" width="7.22" height="7.20" fill="rgb(242,242,252)"/>
<rect x="568.18" y="148.45" width="7.22" height="7.20" fill="rgb(214,214,245)"/>
<rect x="575.35" y="148.45" width="7.22" height="7.20" fill="rgb(224,224,247)"/>
<rect x="582.52" y="148.45" width="7.22" height="7.20" fill="rgb(224,224,247)"/>
<rect x="589.69" y="148.45" width="7.22" height="7.20" fill="rgb(255,240,240)"/>
<rect x="596.86" y="148.45" width="7.22" height="7.20" fill="rgb(232,232,249)"/>
<rect x="604.03" y="148.45" width="7.22" height="7.20" fill="rgb(255,235,235)"/>
<rect x="396.10" y="155.60" width="7.22" height="7.20" fill="rgb(242,242,252)"/>
<rect x="403.27" y="155.60" width="7.22" height="7.20" fill="rgb(242,242,252)"/>
<rect x="410.44" y="155.60" width="7.22" height="7.20" fill="rgb(242,242,252)"/>
<rect x="417.61" y="155.60" width="7.22" height="7.20" fill="rgb(176,176,235)"/>
<rect x="424.78" y="155.60" width="7.22" height="7.20" fill="rgb(176,176,235)"/>
<rect x="431.95" y="155.60" width="7.22" height="7.20" fill="rgb(176,176,235)"/>
<rect x="439.12" y="155.60" width="7.22" height="7.20" fill="rgb(250,250,254)"/>
<rect x="446.29" y="155.60" width="7.22" height="7.20" fill="rgb(250,250,254)"/>
<rect x="453.46" y="155.60" width="7.22" height="7.20" fill="rgb(250,250,254)"/>
<rect x="460.63" y="155.60" width="7.22" height="7.20" fill="rgb(176,176,235)"/>
<rect x="467.80" y="155.60" width="7.22" height="7.20" fill="rgb(176,176,235)"/>
<rect x="474.97" y="155.60" width="7.22" height="7.20" fill="rgb(176,176,235)"/>
<rect x="482.14" y="155.60" width="7.22" height="7.20" fill="rgb(232,232,249)"/>
<rect x="489.31" y="155.60" width="7.22" height="7.20" fill="rgb(232,232,249)"/>
<rect x="496.48" y="155.60" width="7.22" height="7.20" fill="rgb(232,232,249)"/>
<rect x="503.65" y="155.60" width="7.22" height="7.20" fill="rgb(209,209,243)"/>
<rect x="510.82" y="155.60" width="7.22" height="7.20" fill="rgb(209,209,243)"/>
<rect x="517.99" y="155.60" width="7.22" height="7.20" fill="rgb(209,209,243)"/>
<rect x="525.16" y="155.60" width="7.22" height="7.20" fill="rgb(255,0,0)"/>
<rect x="532.33" y="155.60" width="7.22" height="7.20" fill="rgb(255,18,18)"/>
<rect x="539.50" y="155.60" width="7.22" height="7.20" fill="rgb(255,18,18)"/>
<rect x="546.67" y="155.60" width="7.22" height="7.20" fill="rgb(255,138,138)"/>
<rect x="553.84" y="155.60" width="7.22" height="7.20" fill="rgb(255,138,138)"/>
<rect x="561.01" y="155.60" width="7.22" height="7.20" fill="rgb(255,138,138)"/>
<rect x="568.18" y="155.60" width="7.22" height="7.20" fill="rgb(230,230,248)"/>
<rect x="575.35" y="155.60" width="7.22" height="7.20" fill="rgb(230,230,248)"/>
<rect x="582.52" y="155.60" width="7.22" height="7.20" fill="rgb(230,230,248)"/>
<rect x="589.69" y="155.60" width="7.22" height="7.20" fill="rgb(194,194,239)"/>
<rect x="596.86" y="155.60" width="7.22" height="7.20" fill="rgb(194,194,239)"/>
<rect x="604.03" y="155.60" width="7.22" height="7.20" fill="rgb(194,194,239)"/>
<rect x="396.10" y="162.75" width="7.22" height="7.20" fill="rgb(242,242,252)"/>
<rect x="403.27" y="162.75" width="7.22" height="7.20" fill="rgb(242,242,252)"/>
<rect x="410.44" y="162.75" width="7.22" height="7.20" fill="rgb(242,242,252)"/>
<rect x="417.61" y="162.75" width="7.22" height="7.20" fill="rgb(176,176,235)"/>
<rect x="424.78" y="162.75" width="7.22" height="7.20" fill="rgb(176,176,235)"/>
<rect x="431.95" y="162.75" width="7.22" height="7.20" fill="rgb(176,176,235)"/>
<rect x="439.12" y="162.75" width="7.22" height="7.20" fill="rgb(250,250,254)"/>
<rect x="446.29" y="162.75" width="7.22" height="7.20" fill="rgb(250,250,254)"/>
<rect x="453.46" y="162.75" width="7.22" height="7.20" fill="rgb(250,250,254)"/>
<rect x="460.63" y="162.75" width="7.22" height="7.20" fill="rgb(176,176,235)"/>
<rect x="467.80" y="162.75" width="7.22" height="7.20" fill="rgb(176,176,235)"/>
<rect x="474.97" y="162.75" width="7.22" height="7.20" fill="rgb(176,176,235)"/>
<rect x="482.14" y="162.75" width="7.22" height="7.20" fill="rgb(232,232,249)"/>
<rect x="489.31" y="162.75" width="7.22" height="7.20" fill="rgb(232,232,249)"/>
<rect x="496.48" y="162.75" width="7.22" height="7.20" fill="rgb(232,232,249)"/>
<rect x="503.65" y="162.75" width="7.22" height="7.20" fill="rgb(209,209,243)"/>
<rect x="510.82" y="162.75" width="7.22" height="7.20" fill="rgb(209,209,243)"/>
<rect x="517.99" y="162.75" width="7.22" height="7.20" fill="rgb(209,209,243)"/>
<rect x="525.16" y="162.75" width="7.22" height="7.20" fill="rgb(255,18,18)"/>
<rect x="532.33" y="162.75" width="7.22" height="7.20" fill="rgb(255,0,0)"/>
<rect x="539.50" y="162.75" width="7.22" height="7.20" fill="rgb(255,18,18)"/>
<rect x="546.67" y="162.75" width="7.22" height="7.20" fill="rgb(255,138,138)"/>
<rect x="553.84" y="162.75" width="7.22" height="7.20" fill="rgb(255,138,138)"/>
<rect x="561.01" y="162.75" width="7.22" height="7.20" fill="rgb(255,138,138)"/>
<rect x="568.18" y="162.75" width="7.22" height="7.20" fill="rgb(230,230,248)"/>
<rect x="575.35" y="162.75" width="7.22" height="7.20" fill="rgb(230,230,248)"/>
<rect x="582.52" y="162.75" width="7.22" height="7.20" fill="rgb(230,230,248)"/>
<rect x="589.69" y="162.75" width="7.22" height="7.20" fill="rgb(194,194,239)"/>
<rect x="596.86" y="162.75" width="7.22" height="7.20" fill="rgb(194,194,239)"/>
<rect x="604.03" y="162.75" width="7.22" height="7.20" fill="rgb(194,194,239)"/>
<rect x="396.10" y="169.90" width="7.22" height="7.20" fill="rgb(242,242,252)"/>
<rect x="403.27" y="169.90" width="7.22" height="7.20" fill="rgb(242,242,252)"/>
<rect x="410.44" y="169.90" width="7.22" height="7.20" fill="rgb(242,242,252)"/>
<rect x="417.61" y="169.90" width="7.22" height="7.20" fill="rgb(176,176,235)"/>
<rect x="424.78" y="169.90" width="7.22" height="7.20" fill="rgb(176,176,235)"/>
<rect x="431.95" y="169.90" width="7.22" height="7.20" fill="rgb(176,176,235)"/>
<rect x="439.12" y="169.90" width="7.22" height="7.20" fill="rgb(250,250,254)"/>
<rect x="446.29" y="169.90" width="7.22" height="7.20" fill="rgb(250,250,254)"/>
<rect x="453.46" y="169.90" width="7.22" height="7.20" fill="rgb(250,250,254)"/>
<rect x="460.63" y="169.90" width="7.22" height="7.20" fill="rgb(176,176,235)"/>
<rect x="467.80" y="169.90" width="7.22" height="7.20" fill="rgb(176,176,235)"/>
<rect x="474.97" y="169.90" width="7.22" height="7.20" fill="rgb(176,176,235)"/>
<rect x="482.14" y="169.90" width="7.22" height="7.20" fill="rgb(232,232,249)"/>
<rect x="489.31" y="169.90" width="7.22" height="7.20" fill="rgb(232,232,249)"/>
<rect x="496.48" y="169.90" width="7.22" height="7.20" fill="rgb(232,232,249)"/>
<rect x="503.65" y="169.90" width="7.22" height="7.20" fill="rgb(209,209,243)"/>
<rect x="510.82" y="169.90" width="7.22" height="7.20" fill="rgb(209,209,243)"/>
<rect x="517.99" y="169.90" width="7.22" height="7.20" fill="rgb(209,209,243)"/>
<rect x="525.16" y="169.90" width="7.22" height="7.20" fill="rgb(255,18,18)"/>
<rect x="532.33" y="169.90" width="7.22" height="7.20" fill="rgb(255,18,18)"/>
<rect x="539.50" y="169.90" width="7.22" height="7.20" fill="rgb(255,0,0)"/>
<rect x="546.67" y="169.90" width="7.22" height="7.20" fill="rgb(255,138,138)"/>
<rect x="553.84" y="169.90" width="7.22" height="7.20" fill="rgb(255,138,138)"/>
<rect x="561.01" y="169.90" width="7.22" height="7.20" fill="rgb(255,138,138)"/>
<rect x="568.18" y="169.90" width="7.22" height="7.20" fill="rgb(230,230,248)"/>
<rect x="575.35" y="169.90" width="7.22" height="7.20" fill="rgb(230,230,248)"/>
<rect x="582.52" y="169.90" width="7.22" height="7.20" fill="rgb(230,230,248)"/>
<rect x="589.69" y="169.90" width="7.22" height="7.20" fill="rgb(194,194,239)"/>
<rect x="596.86" y="169.90" width="7.22" height="7.20" fill="rgb(194,194,239)"/>
<rect x="604.03" y="169.90" width="7.22" height="7.20" fill="rgb(194,194,239)"/>
<rect x="396.10" y="177.05" width="7.22" height="7.20" fill="rgb(171,171,234)"/>
<rect x="403.27" y="177.05" width="7.22" height="7.20" fill="rgb(171,171,234)"/>
<rect x="410.44" y="177.05" width="7.22" height="7.20" fill="rgb(171,171,234)"/>
<rect x="417.61" y="177.05" width="7.22" height="7.20" fill="rgb(255,255,255)"/>
<rect x="424.78" y="177.05" width="7.22" height="7.20" fill="rgb(255,255,255)"/>
<rect x="431.95" y="177.05" width="7.22" height="7.20" fill="rgb(255,255,255)"/>
<rect x="439.12" y="177.05" width="7.22" height="7.20" fill="rgb(166,166,232)"/>
<rect x="446.29" y="177.05" width="7.22" height="7.20" fill="rgb(166,166,232)"/>
<rect x="453.46" y="177.05" width="7.22" height="7.20" fill="rgb(166,166,232)"/>
<rect x="460.63" y="177.05" width="7.22" height="7.20" fill="rgb(224,224,247)"/>
<rect x="467.80" y="177.05" width="7.22" height="7.20" fill="rgb(224,224,247)"/>
<rect x="474.97" y="177.05" width="7.22" height="7.20" fill="rgb(224,224,247)"/>
<rect x="482.14" y="177.05" width="7.22" height="7.20" fill="rgb(209,209,243)"/>
<rect x="489.31" y="177.05" width="7.22" height="7.20" fill="rgb(209,209,243)"/>
<rect x="496.48" y="177.05" width="7.22" height="7.20" fill="rgb(209,209,243)"/>
<rect x="503.65" y="177.05" width="7.22" height="7.20" fill="rgb(250,250,254)"/>
<rect x="510.82" y="177.05" width="7.22" height="7.20" fill="rgb(250,250,254)"/>
<rect x="517.99" y="177.05" width="7.22" height="7.20" fill="rgb(250,250,254)"/>
<rect x="525.16" y="177.05" width="7.22" height="7.20" fill="rgb(255,138,138)"/>
<rect x="532.33" y="177.05" width="7.22" height="7.20" fill="rgb(255,138,138)"/>
<rect x="539.50" y="177.05" width="7.22" height="7.20" fill="rgb(255,138,138)"/>
<rect x="546.67" y="177.05" width="7.22" height="7.20" fill="rgb(255,0,0)"/>
<rect x="553.84" y="177.05" width="7.22" height="7.20" fill="rgb(255,18,18)"/>
<rect x="561.01" y="177.05" width="7.22" height="7.20" fill="rgb(255,89,89)"/>
<rect x="568.18" y="177.05" width="7.22" height="7.20" fill="rgb(178,178,236)"/>
<rect x="575.35" y="177.05" width="7.22" height="7.20" fill="rgb(178,178,236)"/>
<rect x="582.52" y="177.05" width="7.22" height="7.20" fill="rgb(178,178,236)"/>
<rect x="589.69" y="177.05" width="7.22" height="7.20" fill="rgb(250,250,254)"/>
<rect x="596.86" y="177.05" width="7.22" height="7.20" fill="rgb(250,250,254)"/>
<rect x="604.03" y="177.05" width="7.22" height="7.20" fill="rgb(250,250,254)"/>
<rect x="396.10" y="184.20" width="7.22" height="7.20" fill="rgb(171,171,234)"/>
<rect x="403.27" y="184.20" width="7.22" height="7.20" fill="rgb(171,171,234)"/>
<rect x="410.44" y="184.20" width="7.22" height="7.20" fill="rgb(171,171,234)"/>
<rect x="417.61" y="184.20" width="7.22" height="7.20" fill="rgb(255,255,255)"/>
<rect x="424.78" y="184.20" width="7.22" height="7.20" fill="rgb(255,255,255)"/>
<rect x="431.95" y="184.20" width="7.22" height="7.20" fill="rgb(255,255,255)"/>
<rect x="439.12" y="184.20" width="7.22" height="7.20" fill="rgb(166,166,232)"/>
<rect x="446.29" y="184.20" width="7.22" height="7.20" fill="rgb(166,166,232)"/>
<rect x="453.46" y="184.20" width="7.22" height="7.20" fill="rgb(166,166,232)"/>
<rect x="460.63" y="184.20" width="7.22" height="7.20" fill="rgb(224,224,247)"/>
<rect x="467.80" y="184.20" width="7.22" height="7.20" fill="rgb(224,224,247)"/>
<rect x="474.97" y="184.20" width="7.22" height="7.20" fill="rgb(224,224,247)"/>
<rect x="482.14" y="184.20" width="7.22" height="7.20" fill="rgb(209,209,243)"/>
<rect x="489.31" y="184.20" width="7.22" height="7.20" fill="rgb(209,209,243)"/>
<rect x="496.48" y="184.20" width="7.22" height="7.20" fill="rgb(209,209,243)"/>
<rect x="503.65" y="184.20" width="7.22" height="7.20" fill="rgb(250,250,254)"/>
<rect x="510.82" y="184.20" width="7.22" height="7.20" fill="rgb(250,250,254)"/>
<rect x="517.99" y="184.20" width="7.22" height="7.20" fill="rgb(250,250,254)"/>
<rect x="525.16" y="184.20" width="7.22" height="7.20" fill="rgb(255,138,138)"/>
<rect x="532.33" y="184.20" width="7.22" height="7.20" fill="rgb(255,138,138)"/>
<rect x="539.50" y="184.20" width="7.22" height="7.20" fill="rgb(255,138,138)"/>
<rect x="546.67" y="184.20" width="7.22" height="7.20" fill="rgb(255,18,18)"/>
<rect x="553.84" y="184.20" width="7.22" height="7.20" fill="rgb(255,0,0)"/>
<rect x="561.01" y="184.20" width="7.22" height="7.20" fill="rgb(255,89,89)"/>
<rect x="568.18" y="184.20" width="7.22" height="7.20" fill="rgb(178,178,236)"/>
<rect x="575.35" y="184.20" width="7.22" height="7.20" fill="rgb(178,178,236)"/>
<rect x="582.52" y="184.20" width="7.22" height="7.20" fill="rgb(178,178,236)"/>
<rect x="589.69" y="184.20" width="7.22" height="7.20" fill="rgb(250,250,254)"/>
<rect x="596.86" y="184.20" width="7.22" height="7.20" fill="rgb(250,250,254)"/>
<rect x="604.03" y="184.20" width="7.22" height="7.20" fill="rgb(250,250,254)"/>
<rect x="396.10" y="191.35" width="7.22" height="7.20" fill="rgb(171,171,234)"/>
<rect x="403.27" y="191.35" width="7.22" height="7.20" fill="rgb(171,171,234)"/>
<rect x="410.44" y="191.35" width="7.22" height="7.20" fill="rgb(171,171,234)"/>
<rect x="417.61" y="191.35" width="7.22" height="7.20" fill="rgb(235,235,250)"/>
<rect x="424.78" y="191.35" width="7.22" height="7.20" fill="rgb(235,235,250)"/>
<rect x="431.95" y="191.35" width="7.22" height="7.20" fill="rgb(235,235,250)"/>
<rect x="439.12" y="191.35" width="7.22" height="7.20" fill="rgb(166,166,232)"/>
<rect x="446.29" y="191.35" width="7.22" height="7.20" fill="rgb(166,166,232)"/>
<rect x="453.46" y="191.35" width="7.22" height="7.20" fill="rgb(166,166,232)"/>
<rect x="460.63" y="191.35" width="7.22" height="7.20" fill="rgb(255,235,235)"/>
<rect x="467.80" y="191.35" width="7.22" height="7.20" fill="rgb(240,240,251)"/>
<rect x="474.97" y="191.35" width="7.22" height="7.20" fill="rgb(245,245,252)"/>
<rect x="482.14" y="191.35" width="7.22" height="7.20" fill="rgb(209,209,243)"/>
<rect x="489.31" y="191.35" width="7.22" height="7.20" fill="rgb(209,209,243)"/>
<rect x="496.48" y="191.35" width="7.22" height="7.20" fill="rgb(209,209,243)"/>
<rect x="503.65" y="191.35" width="7.22" height="7.20" fill="rgb(242,242,252)"/>
<rect x="510.82" y="191.35" width="7.22" height="7.20" fill="rgb(242,242,252)"/>
<rect x="517.99" y="191.35" width="7.22" height="7.20" fill="rgb(242,242,252)"/>
<rect x="525.16" y="191.35" width="7.22" height="7.20" fill="rgb(255,138,138)"/>
<rect x="532.33" y="191.35" width="7.22" height="7.20" fill="rgb(255,138,138)"/>
<rect x="539.50" y="191.35" width="7.22" height="7.20" fill="rgb(255,138,138)"/>
<rect x="546.67" y="191.35" width="7.22" height="7.20" fill="rgb(255,89,89)"/>
<rect x="553.84" y="191.35" width="7.22" height="7.20" fill="rgb(255,89,89)"/>
<rect x="561.01" y="191.35" width="7.22" height="7.20" fill="rgb(255,0,0)"/>
<rect x="568.18" y="191.35" width="7.22" height="7.20" fill="rgb(224,224,247)"/>
<rect x="575.35" y="191.35" width="7.22" height="7.20" fill="rgb(224,224,247)"/>
<rect x="582.52" y="191.35" width="7.22" height="7.20" fill="rgb(224,224,247)"/>
<rect x="589.69" y="191.35" width="7.22" height="7.20" fill="rgb(250,250,254)"/>
<rect x="596.86" y="191.35" width="7.22" height="7.20" fill="rgb(250,250,254)"/>
<rect x="604.03" y="191.35" width="7.22" height="7.20" fill="rgb(250,250,254)"/>
<rect x="396.10" y="198.50" width="7.22" height="7.20" fill="rgb(224,224,247)"/>
<rect x="403.27" y="198.50" width="7.22" height="7.20" fill="rgb(224,224,247)"/>
<rect x="410.44" y="198.50" width="7.22" height="7.20" fill="rgb(224,224,247)"/>
<rect x="417.61" y="198.50" width="7.22" height="7.20" fill="rgb(158,158,230)"/>
<rect x="424.78" y="198.50" width="7.22" height="7.20" fill="rgb(158,158,230)"/>
<rect x="431.95" y="198.50" width="7.22" height="7.20" fill="rgb(158,158,230)"/>
<rect x="439.12" y="198.50" width="7.22" height="7.20" fill="rgb(255,247,247)"/>
<rect x="446.29" y="198.50" width="7.22" height="7.20" fill="rgb(255,247,247)"/>
<rect x="453.46" y="198.50" width="7.22" height="7.20" fill="rgb(255,247,247)"/>
<rect x="460.63" y="198.50" width="7.22" height="7.20" fill="rgb(217,217,245)"/>
<rect x="467.80" y="198.50" width="7.22" height="7.20" fill="rgb(217,217,245)"/>
<rect x="474.97" y="198.50" width="7.22" height="7.20" fill="rgb(217,217,245)"/>
<rect x="482.14" y="198.50" width="7.22" height="7.20" fill="rgb(255,250,250)"/>
<rect x="489.31" y="198.50" width="7.22" height="7.20" fill="rgb(255,250,250)"/>
<rect x="496.48" y="198.50" width="7.22" height="7.20" fill="rgb(255,250,250)"/>
<rect x="503.65" y="198.50" width="7.22" height="7.20" fill="rgb(214,214,245)"/>
<rect x="510.82" y="198.50" width="7.22" height="7.20" fill="rgb(214,214,245)"/>
<rect x="517.99" y="198.50" width="7.22" height="7.20" fill="rgb(214,214,245)"/>
<rect x="525.16" y="198.50" width="7.22" height="7.20" fill="rgb(230,230,248)"/>
<rect x="532.33" y="198.50" width="7.22" height="7.20" fill="rgb(230,230,248)"/>
<rect x="539.50" y="198.50" width="7.22" height="7.20" fill="rgb(230,230,248)"/>
<rect x="546.67" y="198.50" width="7.22" height="7.20" fill="rgb(178,178,236)"/>
<rect x="553.84" y="198.50" width="7.22" height="7.20" fill="rgb(178,178,236)"/>
<rect x="561.01" y="198.50" width="7.22" height="7.20" fill="rgb(224,224,247)"/>
<rect x="568.18" y="198.50" width="7.22" height="7.20" fill="rgb(255,0,0)"/>
<rect x="575.35" y="198.50" width="7.22" height="7.20" fill="rgb(255,31,31)"/>
<rect x="582.52" y="198.50" width="7.22" height="7.20" fill="rgb(255,31,31)"/>
<rect x="589.69" y="198.50" width="7.22" height="7.20" fill="rgb(255,171,171)"/>
<rect x="596.86" y="198.50" width="7.22" height="7.20" fill="rgb(255,176,176)"/>
<rect x="604.03" y="198.50" width="7.22" height="7.20" fill="rgb(255,166,166)"/>
<rect x="396.10" y="205.65" width="7.22" height="7.20" fill="rgb(224,224,247)"/>
<rect x="403.27" y="205.65" width="7.22" height="7.20" fill="rgb(224,224,247)"/>
<rect x="410.44" y="205.65" width="7.22" height="7.20" fill="rgb(224,224,247)"/>
<rect x="417.61" y="205.65" width="7.22" height="7.20" fill="rgb(161,161,231)"/>
<rect x="424.78" y="205.65" width="7.22" height="7.20" fill="rgb(161,161,231)"/>
<rect x="431.95" y="205.65" width="7.22" height="7.20" fill="rgb(161,161,231)"/>
<rect x="439.12" y="205.65" width="7.22" height="7.20" fill="rgb(255,247,247)"/>
<rect x="446.29" y="205.65" width="7.22" height="7.20" fill="rgb(255,247,247)"/>
<rect x="453.46" y="205.65" width="7.22" height="7.20" fill="rgb(255,247,247)"/>
<rect x="460.63" y="205.65" width="7.22" height="7.20" fill="rgb(217,217,245)"/>
<rect x="467.80" y="205.65" width="7.22" height="7.20" fill="rgb(217,217,245)"/>
<rect x="474.97" y="205.65" width="7.22" height="7.20" fill="rgb(217,217,245)"/>
<rect x="482.14" y="205.65" width="7.22" height="7.20" fill="rgb(255,250,250)"/>
<rect x="489.31" y="205.65" width="7.22" height="7.20" fill="rgb(255,250,250)"/>
<rect x="496.48" y="205.65" width="7.22" height="7.20" fill="rgb(255,250,250)"/>
<rect x="503.65" y="205.65" width="7.22" height="7.20" fill="rgb(224,224,247)"/>
<rect x="510.82" y="205.65" width="7.22" height="7.20" fill="rgb(224,224,247)"/>
<rect x="517.99" y="205.65" width="7.22" height="7.20" fill="rgb(224,224,247)"/>
<rect x="525.16" y="205.65" width="7.22" height="7.20" fill="rgb(230,230,248)"/>
<rect x="532.33" y="205.65" width="7.22" height="7.20" fill="rgb(230,230,248)"/>
<rect x="539.50" y="205.65" width="7.22" height="7.20" fill="rgb(230,230,248)"/>
<rect x="546.67" y="205.65" width="7.22" height="7.20" fill="rgb(178,178,236)"/>
<rect x="553.84" y="205.65" width="7.22" height="7.20" fill="rgb(178,178,236)"/>
<rect x="561.01" y="205.65" width="7.22" height="7.20" fill="rgb(224,224,247)"/>
<rect x="568.18" y="205.65" width="7.22" height="7.20" fill="rgb(255,31,31)"/>
<rect x="575.35" y="205.65" width="7.22" height="7.20" fill="rgb(255,0,0)"/>
<rect x="582.52" y="205.65" width="7.22" height="7.20" fill="rgb(255,31,31)"/>
<rect x="589.69" y="205.65" width="7.22" height="7.20" fill="rgb(255,171,171)"/>
<rect x="596.86" y="205.65" width="7.22" height="7.20" fill="rgb(255,237,237)"/>
<rect x="604.03" y="205.65" width="7.22" height="7.20" fill="rgb(255,166,166)"/>
<rect x="396.10" y="212.80" width="7.22" height="7.20" fill="rgb(224,224,247)"/>
<rect x="403.27" y="212.80" width="7.22" height="7.20" fill="rgb(224,224,247)"/>
<rect x="410.44" y="212.80" width="7.22" height="7.20" fill="rgb(224,224,247)"/>
<rect x="417.61" y="212.80" width="7.22" height="7.20" fill="rgb(163,163,232)"/>
<rect x="424.78" y="212.80" width="7.22" height="7.20" fill="rgb(163,163,232)"/>
<rect x="431.95" y="212.80" width="7.22" height="7.20" fill="rgb(163,163,232)"/>
<rect x="439.12" y="212.80" width="7.22" height="7.20" fill="rgb(255,247,247)"/>
<rect x="446.29" y="212.80" width="7.22" height="7.20" fill="rgb(255,247,247)"/>
<rect x="453.46" y="212.80" width="7.22" height="7.20" fill="rgb(255,247,247)"/>
<rect x="460.63" y="212.80" width="7.22" height="7.20" fill="rgb(217,217,245)"/>
<rect x="467.80" y="212.80" width="7.22" height="7.20" fill="rgb(217,217,245)"/>
<rect x="474.97" y="212.80" width="7.22" height="7.20" fill="rgb(217,217,245)"/>
<rect x="482.14" y="212.80" width="7.22" height="7.20" fill="rgb(255,250,250)"/>
<rect x="489.31" y="212.80" width="7.22" height="7.20" fill="rgb(255,250,250)"/>
<rect x="496.48" y="212.80" width="7.22" height="7.20" fill="rgb(255,250,250)"/>
<rect x="503.65" y="212.80" width="7.22" height="7.20" fill="rgb(224,224,247)"/>
<rect x="510.82" y="212.80" width="7.22" height="7.20" fill="rgb(224,224,247)"/>
<rect x="517.99" y="212.80" width="7.22" height="7.20" fill="rgb(224,224,247)"/>
<rect x="525.16" y="212.80" width="7.22" height="7.20" fill="rgb(230,230,248)"/>
<rect x="532.33" y="212.80" width="7.22" height="7.20" fill="rgb(230,230,248)"/>
<rect x="539.50" y="212.80" width="7.22" height="7.20" fill="rgb(230,230,248)"/>
<rect x="546.67" y="212.80" width="7.22" height="7.20" fill="rgb(178,178,236)"/>
<rect x="553.84" y="212.80" width="7.22" height="7.20" fill="rgb(178,178,236)"/>
<rect x="561.01" y="212.80" width="7.22" height="7.20" fill="rgb(224,224,247)"/>
<rect x="568.18" y="212.80" width="7.22" height="7.20" fill="rgb(255,31,31)"/>
<rect x="575.35" y="212.80" width="7.22" height="7.20" fill="rgb(255,31,31)"/>
<rect x="582.52" y="212.80" width="7.22" height="7.20" fill="rgb(255,0,0)"/>
<rect x="589.69" y="212.80" width="7.22" height="7.20" fill="rgb(255,171,171)"/>
<rect x="596.86" y="212.80" width="7.22" height="7.20" fill="rgb(255,237,237)"/>
<rect x="604.03" y="212.80" width="7.22" height="7.20" fill="rgb(255,166,166)"/>
<rect x="396.10" y="219.95" width="7.22" height="7.20" fill="rgb(150,150,228)"/>
<rect x="403.27" y="219.95" width="7.22" height="7.20" fill="rgb(158,158,230)"/>
<rect x="410.44" y="219.95" width="7.22" height="7.20" fill="rgb(143,143,226)"/>
<rect x="417.61" y="219.95" width="7.22" height="7.20" fill="rgb(219,219,246)"/>
<rect x="424.78" y="219.95" width="7.22" height="7.20" fill="rgb(219,219,246)"/>
<rect x="431.95" y="219.95" width="7.22" height="7.20" fill="rgb(219,219,246)"/>
<rect x="439.12" y="219.95" width="7.22" height="7.20" fill="rgb(158,158,230)"/>
<rect x="446.29" y="219.95" width="7.22" height="7.20" fill="rgb(158,158,230)"/>
<rect x="453.46" y="219.95" width="7.22" height="7.20" fill="rgb(158,158,230)"/>
<rect x="460.63" y="219.95" width="7.22" height="7.20" fill="rgb(235,235,250)"/>
<rect x="467.80" y="219.95" width="7.22" height="7.20" fill="rgb(235,235,250)"/>
<rect x="474.97" y="219.95" width="7.22" height="7.20" fill="rgb(235,235,250)"/>
<rect x="482.14" y="219.95" width="7.22" height="7.20" fill="rgb(240,240,251)"/>
<rect x="489.31" y="219.95" width="7.22" height="7.20" fill="rgb(240,240,251)"/>
<rect x="496.48" y="219.95" width="7.22" height="7.20" fill="rgb(240,240,251)"/>
<rect x="503.65" y="219.95" width="7.22" height="7.20" fill="rgb(255,240,240)"/>
<rect x="510.82" y="219.95" width="7.22" height="7.20" fill="rgb(255,240,240)"/>
<rect x="517.99" y="219.95" width="7.22" height="7.20" fill="rgb(255,240,240)"/>
<rect x="525.16" y="219.95" width="7.22" height="7.20" fill="rgb(194,194,239)"/>
<rect x="532.33" y="219.95" width="7.22" height="7.20" fill="rgb(194,194,239)"/>
<rect x="539.50" y="219.95" width="7.22" height="7.20" fill="rgb(194,194,239)"/>
<rect x="546.67" y="219.95" width="7.22" height="7.20" fill="rgb(250,250,254)"/>
<rect x="553.84" y="219.95" width="7.22" height="7.20" fill="rgb(250,250,254)"/>
<rect x="561.01" y="219.95" width="7.22" height="7.20" fill="rgb(250,250,254)"/>
<rect x="568.18" y="219.95" width="7.22" height="7.20" fill="rgb(255,171,171)"/>
<rect x="575.35" y="219.95" width="7.22" height="7.20" fill="rgb(255,171,171)"/>
<rect x="582.52" y="219.95" width="7.22" height="7.20" fill="rgb(255,171,171)"/>
<rect x="589.69" y="219.95" width="7.22" height="7.20" fill="rgb(255,0,0)"/>
<rect x="596.86" y="219.95" width="7.22" height="7.20" fill="rgb(255,89,89)"/>
<rect x="604.03" y="219.95" width="7.22" height="7.20" fill="rgb(255,20,20)"/>
<rect x="396.10" y="227.10" width="7.22" height="7.20" fill="rgb(181,181,236)"/>
<rect x="403.27" y="227.10" width="7.22" height="7.20" fill="rgb(178,178,236)"/>
<rect x="410.44" y="227.10" width="7.22" height="7.20" fill="rgb(204,204,242)"/>
<rect x="417.61" y="227.10" width="7.22" height="7.20" fill="rgb(245,245,252)"/>
<rect x="424.78" y="227.10" width="7.22" height="7.20" fill="rgb(245,245,252)"/>
<rect x="431.95" y="227.10" width="7.22" height="7.20" fill="rgb(245,245,252)"/>
<rect x="439.12" y="227.10" width="7.22" height="7.20" fill="rgb(209,209,243)"/>
<rect x="446.29" y="227.10" width="7.22" height="7.20" fill="rgb(209,209,243)"/>
<rect x="453.46" y="227.10" width="7.22" height="7.20" fill="rgb(209,209,243)"/>
<rect x="460.63" y="227.10" width="7.22" height="7.20" fill="rgb(255,237,237)"/>
<rect x="467.80" y="227.10" width="7.22" height="7.20" fill="rgb(242,242,252)"/>
<rect x="474.97" y="227.10" width="7.22" height="7.20" fill="rgb(255,242,242)"/>
<rect x="482.14" y="227.10" width="7.22" height="7.20" fill="rgb(240,240,251)"/>
<rect x="489.31" y="227.10" width="7.22" height="7.20" fill="rgb(240,240,251)"/>
<rect x="496.48" y="227.10" width="7.22" height="7.20" fill="rgb(240,240,251)"/>
<rect x="503.65" y="227.10" width="7.22" height="7.20" fill="rgb(232,232,249)"/>
<rect x="510.82" y="227.10" width="7.22" height="7.20" fill="rgb(232,232,249)"/>
<rect x="517.99" y="227.10" width="7.22" height="7.20" fill="rgb(232,232,249)"/>
<rect x="525.16" y="227.10" width="7.22" height="7.20" fill="rgb(194,194,239)"/>
<rect x="532.33" y="227.10" width="7.22" height="7.20" fill="rgb(194,194,239)"/>
<rect x="539.50" y="227.10" width="7.22" height="7.20" fill="rgb(194,194,239)"/>
<rect x="546.67" y="227.10" width="7.22" height="7.20" fill="rgb(250,250,254)"/>
<rect x="553.84" y="227.10" width="7.22" height="7.20" fill="rgb(250,250,254)"/>
<rect x="561.01" y="227.10" width="7.22" height="7.20" fill="rgb(250,250,254)"/>
<rect x="568.18" y="227.10" width="7.22" height="7.20" fill="rgb(255,176,176)"/>
<rect x="575.35" y="227.10" width="7.22" height="7.20" fill="rgb(255,237,237)"/>
<rect x="582.52" y="227.10" width="7.22" height="7.20" fill="rgb(255,237,237)"/>
<rect x="589.69" y="227.10" width="7.22" height="7.20" fill="rgb(255,89,89)"/>
<rect x="596.86" y="227.10" width="7.22" height="7.20" fill="rgb(255,0,0)"/>
<rect x="604.03" y="227.10" width="7.22" height="7.20" fill="rgb(255,115,115)"/>
<rect x="396.10" y="234.25" width="7.22" height="7.20" fill="rgb(150,150,228)"/>
<rect x="403.27" y="234.25" width="7.22" height="7.20" fill="rgb(158,158,230)"/>
<rect x="410.44" y="234.25" width="7.22" height="7.20" fill="rgb(140,140,226)"/>
<rect x="417.61" y="234.25" width="7.22" height="7.20" fill="rgb(214,214,245)"/>
<rect x="424.78" y="234.25" width="7.22" height="7.20" fill="rgb(214,214,245)"/>
<rect x="431.95" y="234.25" width="7.22" height="7.20" fill="rgb(214,214,245)"/>
<rect x="439.12" y="234.25" width="7.22" height="7.20" fill="rgb(171,171,234)"/>
<rect x="446.29" y="234.25" width="7.22" height="7.20" fill="rgb(171,171,234)"/>
<rect x="453.46" y="234.25" width="7.22" height="7.20" fill="rgb(171,171,234)"/>
<rect x="460.63" y="234.25" width="7.22" height="7.20" fill="rgb(235,235,250)"/>
<rect x="467.80" y="234.25" width="7.22" height="7.20" fill="rgb(235,235,250)"/>
<rect x="474.97" y="234.25" width="7.22" height="7.20" fill="rgb(235,235,250)"/>
<rect x="482.14" y="234.25" width="7.22" height="7.20" fill="rgb(240,240,251)"/>
<rect x="489.31" y="234.25" width="7.22" height="7.20" fill="rgb(240,240,251)"/>
<rect x="496.48" y="234.25" width="7.22" height="7.20" fill="rgb(240,240,251)"/>
<rect x="503.65" y="234.25" width="7.22" height="7.20" fill="rgb(255,235,235)"/>
<rect x="510.82" y="234.25" width="7.22" height="7.20" fill="rgb(255,235,235)"/>
<rect x="517.99" y="234.25" width="7.22" height="7.20" fill="rgb(255,235,235)"/>
<rect x="525.16" y="234.25" width="7.22" height="7.20" fill="rgb(194,194,239)"/>
<rect x="532.33" y="234.25" width="7.22" height="7.20" fill="rgb(194,194,239)"/>
<rect x="539.50" y="234.25" width="7.22" height="7.20" fill="rgb(194,194,239)"/>
<rect x="546.67" y="234.25" width="7.22" height="7.20" fill="rgb(250,250,254)"/>
<rect x="553.84" y="234.25" width="7.22" height="7.20" fill="rgb(250,250,254)"/>
<rect x="561.01" y="234.25" width="7.22" height="7.20" fill="rgb(250,250,254)"/>
<rect x="568.18" y="234.25" width="7.22" height="7.20" fill="rgb(255,166,166)"/>
<rect x="575.35" y="234.25" width="7.22" height="7.20" fill="rgb(255,166,166)"/>
<rect x="582.52" y="234.25" width="7.22" height="7.20" fill="rgb(255,166,166)"/>
<rect x="589.69" y="234.25" width="7.22" height="7.20" fill="rgb(255,20,20)"/>
<rect x="596.86" y="234.25" width="7.22" height="7.20" fill="rgb(255,115,115)"/>
<rect x="604.03" y="234.25" width="7.22" height="7.20" fill="rgb(255,0,0)"/>
</g>
<rect x="396.10" y="26.90" width="215.10" height="214.50" fill="none" stroke="#000" stroke-width="1.6"/>
<line x1="390.10" y1="30.47" x2="396.10" y2="30.47" stroke="#000" stroke-width="1.3"/>
<text x="388.10" y="32.57" font-size="5.9" font-weight="bold" text-anchor="end" stroke="#000" stroke-width="0.130">Astrocytes BrdU 3</text>
<line x1="390.10" y1="37.62" x2="396.10" y2="37.62" stroke="#000" stroke-width="1.3"/>
<text x="388.10" y="39.73" font-size="5.9" font-weight="bold" text-anchor="end" stroke="#000" stroke-width="0.130">Astrocytes BrdU 2</text>
<line x1="390.10" y1="44.77" x2="396.10" y2="44.77" stroke="#000" stroke-width="1.3"/>
<text x="388.10" y="46.88" font-size="5.9" font-weight="bold" text-anchor="end" stroke="#000" stroke-width="0.130">Astrocytes BrdU 1</text>
<line x1="390.10" y1="51.92" x2="396.10" y2="51.92" stroke="#000" stroke-width="1.3"/>
<text x="388.10" y="54.02" font-size="5.9" font-weight="bold" text-anchor="end" stroke="#000" stroke-width="0.130">Astrocytes DMSO 3</text>
<line x1="390.10" y1="59.08" x2="396.10" y2="59.08" stroke="#000" stroke-width="1.3"/>
<text x="388.10" y="61.18" font-size="5.9" font-weight="bold" text-anchor="end" stroke="#000" stroke-width="0.130">Astrocytes DMSO 2</text>
<line x1="390.10" y1="66.22" x2="396.10" y2="66.22" stroke="#000" stroke-width="1.3"/>
<text x="388.10" y="68.32" font-size="5.9" font-weight="bold" text-anchor="end" stroke="#000" stroke-width="0.130">Astrocytes DMSO 1</text>
<line x1="390.10" y1="73.38" x2="396.10" y2="73.38" stroke="#000" stroke-width="1.3"/>
<text x="388.10" y="75.47" font-size="5.9" font-weight="bold" text-anchor="end" stroke="#000" stroke-width="0.130">Endothelial Cells BrdU 3</text>
<line x1="390.10" y1="80.53" x2="396.10" y2="80.53" stroke="#000" stroke-width="1.3"/>
<text x="388.10" y="82.62" font-size="5.9" font-weight="bold" text-anchor="end" stroke="#000" stroke-width="0.130">Endothelial Cells BrdU 2</text>
<line x1="390.10" y1="87.68" x2="396.10" y2="87.68" stroke="#000" stroke-width="1.3"/>
<text x="388.10" y="89.78" font-size="5.9" font-weight="bold" text-anchor="end" stroke="#000" stroke-width="0.130">Endothelial Cells BrdU 1</text>
<line x1="390.10" y1="94.82" x2="396.10" y2="94.82" stroke="#000" stroke-width="1.3"/>
<text x="388.10" y="96.92" font-size="5.9" font-weight="bold" text-anchor="end" stroke="#000" stroke-width="0.130">Endothelial Cells DMSO 3</text>
<line x1="390.10" y1="101.97" x2="396.10" y2="101.97" stroke="#000" stroke-width="1.3"/>
<text x="388.10" y="104.07" font-size="5.9" font-weight="bold" text-anchor="end" stroke="#000" stroke-width="0.130">Endothelial Cells DMSO 2</text>
<line x1="390.10" y1="109.12" x2="396.10" y2="109.12" stroke="#000" stroke-width="1.3"/>
<text x="388.10" y="111.22" font-size="5.9" font-weight="bold" text-anchor="end" stroke="#000" stroke-width="0.130">Endothelial Cells DMSO 1</text>
<line x1="390.10" y1="116.28" x2="396.10" y2="116.28" stroke="#000" stroke-width="1.3"/>
<text x="388.10" y="118.38" font-size="5.9" font-weight="bold" text-anchor="end" stroke="#000" stroke-width="0.130">Microglia BrdU 3</text>
<line x1="390.10" y1="123.43" x2="396.10" y2="123.43" stroke="#000" stroke-width="1.3"/>
<text x="388.10" y="125.53" font-size="5.9" font-weight="bold" text-anchor="end" stroke="#000" stroke-width="0.130">Microglia BrdU 3</text>
<line x1="390.10" y1="130.58" x2="396.10" y2="130.58" stroke="#000" stroke-width="1.3"/>
<text x="388.10" y="132.68" font-size="5.9" font-weight="bold" text-anchor="end" stroke="#000" stroke-width="0.130">Microglia BrdU 3</text>
<line x1="390.10" y1="137.72" x2="396.10" y2="137.72" stroke="#000" stroke-width="1.3"/>
<text x="388.10" y="139.82" font-size="5.9" font-weight="bold" text-anchor="end" stroke="#000" stroke-width="0.130">Microglia DMSO 3</text>
<line x1="390.10" y1="144.88" x2="396.10" y2="144.88" stroke="#000" stroke-width="1.3"/>
<text x="388.10" y="146.97" font-size="5.9" font-weight="bold" text-anchor="end" stroke="#000" stroke-width="0.130">Microglia DMSO 2</text>
<line x1="390.10" y1="152.03" x2="396.10" y2="152.03" stroke="#000" stroke-width="1.3"/>
<text x="388.10" y="154.12" font-size="5.9" font-weight="bold" text-anchor="end" stroke="#000" stroke-width="0.130">Microglia DMSO 1</text>
<line x1="390.10" y1="159.18" x2="396.10" y2="159.18" stroke="#000" stroke-width="1.3"/>
<text x="388.10" y="161.28" font-size="5.9" font-weight="bold" text-anchor="end" stroke="#000" stroke-width="0.130">Oligodendrocytes BrdU 3</text>
<line x1="390.10" y1="166.33" x2="396.10" y2="166.33" stroke="#000" stroke-width="1.3"/>
<text x="388.10" y="168.43" font-size="5.9" font-weight="bold" text-anchor="end" stroke="#000" stroke-width="0.130">Oligodendrocytes BrdU 2</text>
<line x1="390.10" y1="173.48" x2="396.10" y2="173.48" stroke="#000" stroke-width="1.3"/>
<text x="388.10" y="175.58" font-size="5.9" font-weight="bold" text-anchor="end" stroke="#000" stroke-width="0.130">Oligodendrocytes BrdU 1</text>
<line x1="390.10" y1="180.62" x2="396.10" y2="180.62" stroke="#000" stroke-width="1.3"/>
<text x="388.10" y="182.72" font-size="5.9" font-weight="bold" text-anchor="end" stroke="#000" stroke-width="0.130">Oligodendrocytes DMSO 3</text>
<line x1="390.10" y1="187.78" x2="396.10" y2="187.78" stroke="#000" stroke-width="1.3"/>
<text x="388.10" y="189.88" font-size="5.9" font-weight="bold" text-anchor="end" stroke="#000" stroke-width="0.130">Oligodendrocytes DMSO 2</text>
<line x1="390.10" y1="194.93" x2="396.10" y2="194.93" stroke="#000" stroke-width="1.3"/>
<text x="388.10" y="197.03" font-size="5.9" font-weight="bold" text-anchor="end" stroke="#000" stroke-width="0.130">Oligodendrocytes DMSO 1</text>
<line x1="390.10" y1="202.08" x2="396.10" y2="202.08" stroke="#000" stroke-width="1.3"/>
<text x="388.10" y="204.18" font-size="5.9" font-weight="bold" text-anchor="end" stroke="#000" stroke-width="0.130">Neurons BrdU 3</text>
<line x1="390.10" y1="209.23" x2="396.10" y2="209.23" stroke="#000" stroke-width="1.3"/>
<text x="388.10" y="211.33" font-size="5.9" font-weight="bold" text-anchor="end" stroke="#000" stroke-width="0.130">Neurons BrdU 2</text>
<line x1="390.10" y1="216.38" x2="396.10" y2="216.38" stroke="#000" stroke-width="1.3"/>
<text x="388.10" y="218.48" font-size="5.9" font-weight="bold" text-anchor="end" stroke="#000" stroke-width="0.130">Neurons BrdU 1</text>
<line x1="390.10" y1="223.53" x2="396.10" y2="223.53" stroke="#000" stroke-width="1.3"/>
<text x="388.10" y="225.62" font-size="5.9" font-weight="bold" text-anchor="end" stroke="#000" stroke-width="0.130">Neurons DMSO 3</text>
<line x1="390.10" y1="230.68" x2="396.10" y2="230.68" stroke="#000" stroke-width="1.3"/>
<text x="388.10" y="232.78" font-size="5.9" font-weight="bold" text-anchor="end" stroke="#000" stroke-width="0.130">Neurons DMSO 2</text>
<line x1="390.10" y1="237.83" x2="396.10" y2="237.83" stroke="#000" stroke-width="1.3"/>
<text x="388.10" y="239.93" font-size="5.9" font-weight="bold" text-anchor="end" stroke="#000" stroke-width="0.130">Neurons DMSO 1</text>
<line x1="399.69" y1="241.40" x2="399.69" y2="247.90" stroke="#000" stroke-width="1.3"/>
<text x="400.29" y="252.40" font-size="5.9" font-weight="bold" text-anchor="end" transform="rotate(-45 400.29 252.40)" stroke="#000" stroke-width="0.130">Astrocytes BrdU 3</text>
<line x1="406.86" y1="241.40" x2="406.86" y2="247.90" stroke="#000" stroke-width="1.3"/>
<text x="407.46" y="252.40" font-size="5.9" font-weight="bold" text-anchor="end" transform="rotate(-45 407.46 252.40)" stroke="#000" stroke-width="0.130">Astrocytes BrdU 2</text>
<line x1="414.03" y1="241.40" x2="414.03" y2="247.90" stroke="#000" stroke-width="1.3"/>
<text x="414.63" y="252.40" font-size="5.9" font-weight="bold" text-anchor="end" transform="rotate(-45 414.63 252.40)" stroke="#000" stroke-width="0.130">Astrocytes BrdU 1</text>
<line x1="421.20" y1="241.40" x2="421.20" y2="247.90" stroke="#000" stroke-width="1.3"/>
<text x="421.80" y="252.40" font-size="5.9" font-weight="bold" text-anchor="end" transform="rotate(-45 421.80 252.40)" stroke="#000" stroke-width="0.130">Astrocytes DMSO 3</text>
<line x1="428.37" y1="241.40" x2="428.37" y2="247.90" stroke="#000" stroke-width="1.3"/>
<text x="428.97" y="252.40" font-size="5.9" font-weight="bold" text-anchor="end" transform="rotate(-45 428.97 252.40)" stroke="#000" stroke-width="0.130">Astrocytes DMSO 2</text>
<line x1="435.54" y1="241.40" x2="435.54" y2="247.90" stroke="#000" stroke-width="1.3"/>
<text x="436.14" y="252.40" font-size="5.9" font-weight="bold" text-anchor="end" transform="rotate(-45 436.14 252.40)" stroke="#000" stroke-width="0.130">Astrocytes DMSO 1</text>
<line x1="442.71" y1="241.40" x2="442.71" y2="247.90" stroke="#000" stroke-width="1.3"/>
<text x="443.31" y="252.40" font-size="5.9" font-weight="bold" text-anchor="end" transform="rotate(-45 443.31 252.40)" stroke="#000" stroke-width="0.130">Endothelial Cells BrdU 3</text>
<line x1="449.88" y1="241.40" x2="449.88" y2="247.90" stroke="#000" stroke-width="1.3"/>
<text x="450.48" y="252.40" font-size="5.9" font-weight="bold" text-anchor="end" transform="rotate(-45 450.48 252.40)" stroke="#000" stroke-width="0.130">Endothelial Cells BrdU 2</text>
<line x1="457.05" y1="241.40" x2="457.05" y2="247.90" stroke="#000" stroke-width="1.3"/>
<text x="457.65" y="252.40" font-size="5.9" font-weight="bold" text-anchor="end" transform="rotate(-45 457.65 252.40)" stroke="#000" stroke-width="0.130">Endothelial Cells BrdU 1</text>
<line x1="464.22" y1="241.40" x2="464.22" y2="247.90" stroke="#000" stroke-width="1.3"/>
<text x="464.82" y="252.40" font-size="5.9" font-weight="bold" text-anchor="end" transform="rotate(-45 464.82 252.40)" stroke="#000" stroke-width="0.130">Endothelial Cells DMSO 3</text>
<line x1="471.38" y1="241.40" x2="471.38" y2="247.90" stroke="#000" stroke-width="1.3"/>
<text x="471.99" y="252.40" font-size="5.9" font-weight="bold" text-anchor="end" transform="rotate(-45 471.99 252.40)" stroke="#000" stroke-width="0.130">Endothelial Cells DMSO 2</text>
<line x1="478.56" y1="241.40" x2="478.56" y2="247.90" stroke="#000" stroke-width="1.3"/>
<text x="479.16" y="252.40" font-size="5.9" font-weight="bold" text-anchor="end" transform="rotate(-45 479.16 252.40)" stroke="#000" stroke-width="0.130">Endothelial Cells DMSO 1</text>
<line x1="485.73" y1="241.40" x2="485.73" y2="247.90" stroke="#000" stroke-width="1.3"/>
<text x="486.33" y="252.40" font-size="5.9" font-weight="bold" text-anchor="end" transform="rotate(-45 486.33 252.40)" stroke="#000" stroke-width="0.130">Microglia BrdU 3</text>
<line x1="492.90" y1="241.40" x2="492.90" y2="247.90" stroke="#000" stroke-width="1.3"/>
<text x="493.50" y="252.40" font-size="5.9" font-weight="bold" text-anchor="end" transform="rotate(-45 493.50 252.40)" stroke="#000" stroke-width="0.130">Microglia BrdU 3</text>
<line x1="500.07" y1="241.40" x2="500.07" y2="247.90" stroke="#000" stroke-width="1.3"/>
<text x="500.67" y="252.40" font-size="5.9" font-weight="bold" text-anchor="end" transform="rotate(-45 500.67 252.40)" stroke="#000" stroke-width="0.130">Microglia BrdU 3</text>
<line x1="507.24" y1="241.40" x2="507.24" y2="247.90" stroke="#000" stroke-width="1.3"/>
<text x="507.84" y="252.40" font-size="5.9" font-weight="bold" text-anchor="end" transform="rotate(-45 507.84 252.40)" stroke="#000" stroke-width="0.130">Microglia DMSO 3</text>
<line x1="514.40" y1="241.40" x2="514.40" y2="247.90" stroke="#000" stroke-width="1.3"/>
<text x="515.00" y="252.40" font-size="5.9" font-weight="bold" text-anchor="end" transform="rotate(-45 515.00 252.40)" stroke="#000" stroke-width="0.130">Microglia DMSO 2</text>
<line x1="521.58" y1="241.40" x2="521.58" y2="247.90" stroke="#000" stroke-width="1.3"/>
<text x="522.18" y="252.40" font-size="5.9" font-weight="bold" text-anchor="end" transform="rotate(-45 522.18 252.40)" stroke="#000" stroke-width="0.130">Microglia DMSO 1</text>
<line x1="528.75" y1="241.40" x2="528.75" y2="247.90" stroke="#000" stroke-width="1.3"/>
<text x="529.35" y="252.40" font-size="5.9" font-weight="bold" text-anchor="end" transform="rotate(-45 529.35 252.40)" stroke="#000" stroke-width="0.130">Oligodendrocytes BrdU 3</text>
<line x1="535.91" y1="241.40" x2="535.91" y2="247.90" stroke="#000" stroke-width="1.3"/>
<text x="536.51" y="252.40" font-size="5.9" font-weight="bold" text-anchor="end" transform="rotate(-45 536.51 252.40)" stroke="#000" stroke-width="0.130">Oligodendrocytes BrdU 2</text>
<line x1="543.09" y1="241.40" x2="543.09" y2="247.90" stroke="#000" stroke-width="1.3"/>
<text x="543.69" y="252.40" font-size="5.9" font-weight="bold" text-anchor="end" transform="rotate(-45 543.69 252.40)" stroke="#000" stroke-width="0.130">Oligodendrocytes BrdU 1</text>
<line x1="550.25" y1="241.40" x2="550.25" y2="247.90" stroke="#000" stroke-width="1.3"/>
<text x="550.86" y="252.40" font-size="5.9" font-weight="bold" text-anchor="end" transform="rotate(-45 550.86 252.40)" stroke="#000" stroke-width="0.130">Oligodendrocytes DMSO 3</text>
<line x1="557.42" y1="241.40" x2="557.42" y2="247.90" stroke="#000" stroke-width="1.3"/>
<text x="558.02" y="252.40" font-size="5.9" font-weight="bold" text-anchor="end" transform="rotate(-45 558.02 252.40)" stroke="#000" stroke-width="0.130">Oligodendrocytes DMSO 2</text>
<line x1="564.60" y1="241.40" x2="564.60" y2="247.90" stroke="#000" stroke-width="1.3"/>
<text x="565.20" y="252.40" font-size="5.9" font-weight="bold" text-anchor="end" transform="rotate(-45 565.20 252.40)" stroke="#000" stroke-width="0.130">Oligodendrocytes DMSO 1</text>
<line x1="571.76" y1="241.40" x2="571.76" y2="247.90" stroke="#000" stroke-width="1.3"/>
<text x="572.37" y="252.40" font-size="5.9" font-weight="bold" text-anchor="end" transform="rotate(-45 572.37 252.40)" stroke="#000" stroke-width="0.130">Neurons BrdU 3</text>
<line x1="578.94" y1="241.40" x2="578.94" y2="247.90" stroke="#000" stroke-width="1.3"/>
<text x="579.54" y="252.40" font-size="5.9" font-weight="bold" text-anchor="end" transform="rotate(-45 579.54 252.40)" stroke="#000" stroke-width="0.130">Neurons BrdU 2</text>
<line x1="586.11" y1="241.40" x2="586.11" y2="247.90" stroke="#000" stroke-width="1.3"/>
<text x="586.71" y="252.40" font-size="5.9" font-weight="bold" text-anchor="end" transform="rotate(-45 586.71 252.40)" stroke="#000" stroke-width="0.130">Neurons BrdU 1</text>
<line x1="593.28" y1="241.40" x2="593.28" y2="247.90" stroke="#000" stroke-width="1.3"/>
<text x="593.88" y="252.40" font-size="5.9" font-weight="bold" text-anchor="end" transform="rotate(-45 593.88 252.40)" stroke="#000" stroke-width="0.130">Neurons DMSO 3</text>
<line x1="600.45" y1="241.40" x2="600.45" y2="247.90" stroke="#000" stroke-width="1.3"/>
<text x="601.05" y="252.40" font-size="5.9" font-weight="bold" text-anchor="end" transform="rotate(-45 601.05 252.40)" stroke="#000" stroke-width="0.130">Neurons DMSO 2</text>
<line x1="607.62" y1="241.40" x2="607.62" y2="247.90" stroke="#000" stroke-width="1.3"/>
<text x="608.22" y="252.40" font-size="5.9" font-weight="bold" text-anchor="end" transform="rotate(-45 608.22 252.40)" stroke="#000" stroke-width="0.130">Neurons DMSO 1</text>
<defs><linearGradient id="cb" x1="0" y1="0" x2="0" y2="1"><stop offset="0" stop-color="#ff0000"/><stop offset="0.5" stop-color="#ffffff"/><stop offset="1" stop-color="#0000be"/></linearGradient></defs>
<rect x="629.50" y="26.90" width="17.5" height="214.50" fill="url(#cb)" stroke="#000" stroke-width="1.6"/>
<text x="654.00" y="31.00" font-size="11.4">1.0</text>
<line x1="629.50" y1="80.53" x2="632.00" y2="80.53" stroke="#000" stroke-width="1.4"/>
<line x1="644.50" y1="80.53" x2="647.00" y2="80.53" stroke="#000" stroke-width="1.4"/>
<text x="654.00" y="84.62" font-size="11.4">0.5</text>
<line x1="629.50" y1="134.15" x2="632.00" y2="134.15" stroke="#000" stroke-width="1.4"/>
<line x1="644.50" y1="134.15" x2="647.00" y2="134.15" stroke="#000" stroke-width="1.4"/>
<text x="654.00" y="138.25" font-size="11.4">0</text>
<line x1="629.50" y1="187.78" x2="632.00" y2="187.78" stroke="#000" stroke-width="1.4"/>
<line x1="644.50" y1="187.78" x2="647.00" y2="187.78" stroke="#000" stroke-width="1.4"/>
<text x="654.00" y="191.88" font-size="11.4">-0.5</text>
<text x="654.00" y="245.50" font-size="11.4">-1.0</text>
<text x="0.00" y="165.70" font-size="20.7" stroke="#000" stroke-width="0.25">C</text>
<line x1="62.80" y1="162.02" x2="62.80" y2="291.78" stroke="#000" stroke-width="1.8"/>
<line x1="61.90" y1="290.98" x2="172.00" y2="290.98" stroke="#000" stroke-width="1.8"/>
<line x1="56.30" y1="162.82" x2="62.80" y2="162.82" stroke="#000" stroke-width="1.6"/>
<text x="54.00" y="167.22" font-size="12.3" font-weight="bold" text-anchor="end" stroke="#000" stroke-width="0.271">0.4</text>
<line x1="56.30" y1="194.86" x2="62.80" y2="194.86" stroke="#000" stroke-width="1.6"/>
<text x="54.00" y="199.26" font-size="12.3" font-weight="bold" text-anchor="end" stroke="#000" stroke-width="0.271">0.2</text>
<line x1="56.30" y1="226.90" x2="62.80" y2="226.90" stroke="#000" stroke-width="1.6"/>
<text x="54.00" y="231.30" font-size="12.3" font-weight="bold" text-anchor="end" stroke="#000" stroke-width="0.271">0.0</text>
<line x1="56.30" y1="258.94" x2="62.80" y2="258.94" stroke="#000" stroke-width="1.6"/>
<text x="54.00" y="263.34" font-size="12.3" font-weight="bold" text-anchor="end" stroke="#000" stroke-width="0.271">-0.2</text>
<line x1="56.30" y1="290.98" x2="62.80" y2="290.98" stroke="#000" stroke-width="1.6"/>
<text x="54.00" y="295.38" font-size="12.3" font-weight="bold" text-anchor="end" stroke="#000" stroke-width="0.271">-0.4</text>
<line x1="84.50" y1="290.98" x2="84.50" y2="298.00" stroke="#000" stroke-width="1.7"/>
<text x="84.50" y="311.20" font-size="12.4" font-weight="bold" text-anchor="middle" textLength="22.43" lengthAdjust="spacingAndGlyphs" stroke="#000" stroke-width="0.273">PC1</text>
<line x1="116.90" y1="290.98" x2="116.90" y2="298.00" stroke="#000" stroke-width="1.7"/>
<text x="116.90" y="311.20" font-size="12.4" font-weight="bold" text-anchor="middle" textLength="22.43" lengthAdjust="spacingAndGlyphs" stroke="#000" stroke-width="0.273">PC2</text>
<line x1="149.30" y1="290.98" x2="149.30" y2="298.00" stroke="#000" stroke-width="1.7"/>
<text x="149.30" y="311.20" font-size="12.4" font-weight="bold" text-anchor="middle" textLength="22.43" lengthAdjust="spacingAndGlyphs" stroke="#000" stroke-width="0.273">PC3</text>
<line x1="67.10" y1="226.90" x2="172" y2="226.90" stroke="#000" stroke-width="1.6" stroke-dasharray="1.6 3.33"/>
<text x="25.60" y="274.40" font-size="13.1" font-weight="bold" stroke="#000" stroke-width="0.288" textLength="28.60" lengthAdjust="spacingAndGlyphs" transform="rotate(-90 25.60 274.40)">PCA</text>
<text x="25.60" y="238.30" font-size="13.1" font-weight="bold" stroke="#000" stroke-width="0.288" textLength="59.40" lengthAdjust="spacingAndGlyphs" transform="rotate(-90 25.60 238.30)">Loadings</text>
<circle cx="76.10" cy="184.70" r="2.50" fill="#f00"/>
<circle cx="80.10" cy="187.70" r="2.50" fill="#000"/>
<circle cx="82.80" cy="187.70" r="2.50" fill="#000"/>
<circle cx="93.30" cy="187.70" r="2.50" fill="#000"/>
<circle cx="87.10" cy="188.50" r="2.50" fill="#f00"/>
<circle cx="89.40" cy="186.50" r="2.50" fill="#f00"/>
<polygon points="79.30,190.53 82.17,195.84 76.42,195.84" fill="#f00"/>
<polygon points="82.40,192.62 85.28,197.94 79.53,197.94" fill="#f00"/>
<polygon points="89.40,190.53 92.28,195.84 86.53,195.84" fill="#f00"/>
<polygon points="86.30,197.93 89.17,203.24 83.42,203.24" fill="#000"/>
<polygon points="82.80,202.32 85.67,207.64 79.92,207.64" fill="#000"/>
<polygon points="89.80,200.53 92.67,205.84 86.92,205.84" fill="#000"/>
<polygon points="78.90,238.68 81.78,233.36 76.03,233.36" fill="#000"/>
<rect x="83.80" y="230.60" width="5.00" height="5.00" fill="#f00"/>
<rect x="89.90" y="233.60" width="5.00" height="5.00" fill="#f00"/>
<rect x="86.50" y="233.50" width="5.00" height="5.00" fill="#f00"/>
<rect x="76.80" y="238.50" width="5.00" height="5.00" fill="#000"/>
<rect x="83.80" y="235.90" width="5.00" height="5.00" fill="#000"/>
<rect x="87.30" y="238.50" width="5.00" height="5.00" fill="#000"/>
<polygon points="82.80,241.28 85.67,235.96 79.92,235.96" fill="#f00"/>
<polygon points="84.50,245.68 87.38,240.36 81.62,240.36" fill="#f00"/>
<polygon points="86.50,245.88 89.38,240.56 83.62,240.56" fill="#f00"/>
<polygon points="82.80,257.07 85.67,251.76 79.92,251.76" fill="#000"/>
<polygon points="86.30,254.78 89.17,249.46 83.42,249.46" fill="#000"/>
<polygon points="76.10,259.20 78.60,261.70 76.10,264.20 73.60,261.70" fill="#f00"/>
<polygon points="86.30,259.20 88.80,261.70 86.30,264.20 83.80,261.70" fill="#f00"/>
<polygon points="92.90,260.50 95.40,263.00 92.90,265.50 90.40,263.00" fill="#f00"/>
<polygon points="76.10,264.30 78.60,266.80 76.10,269.30 73.60,266.80" fill="#000"/>
<polygon points="82.80,263.00 85.30,265.50 82.80,268.00 80.30,265.50" fill="#000"/>
<polygon points="89.80,264.70 92.30,267.20 89.80,269.70 87.30,267.20" fill="#000"/>
<polygon points="114.30,194.07 117.17,188.76 111.42,188.76" fill="#f00"/>
<polygon points="116.90,194.07 119.78,188.76 114.03,188.76" fill="#f00"/>
<polygon points="120.40,193.07 123.28,187.76 117.53,187.76" fill="#f00"/>
<polygon points="110.80,210.68 113.67,205.36 107.92,205.36" fill="#000"/>
<polygon points="120.40,207.47 123.28,202.16 117.53,202.16" fill="#000"/>
<polygon points="124.40,210.68 127.28,205.36 121.53,205.36" fill="#000"/>
<polygon points="114.30,204.93 117.17,210.24 111.42,210.24" fill="#f00"/>
<polygon points="117.80,204.93 120.67,210.24 114.92,210.24" fill="#f00"/>
<polygon points="121.30,204.93 124.17,210.24 118.42,210.24" fill="#f00"/>
<circle cx="109.00" cy="221.50" r="2.50" fill="#f00"/>
<circle cx="111.70" cy="220.20" r="2.50" fill="#f00"/>
<circle cx="113.60" cy="218.50" r="2.50" fill="#f00"/>
<polygon points="116.00,213.62 118.88,218.94 113.12,218.94" fill="#000"/>
<polygon points="119.50,216.62 122.38,221.94 116.62,221.94" fill="#000"/>
<polygon points="121.50,217.12 124.38,222.44 118.62,222.44" fill="#000"/>
<circle cx="122.20" cy="221.00" r="2.50" fill="#000"/>
<circle cx="125.70" cy="221.00" r="2.50" fill="#000"/>
<circle cx="116.00" cy="236.60" r="2.50" fill="#000"/>
<circle cx="118.70" cy="236.60" r="2.50" fill="#000"/>
<rect x="116.20" y="274.40" width="5.00" height="5.00" fill="#000"/>
<rect x="112.70" y="277.90" width="5.00" height="5.00" fill="#f00"/>
<rect x="118.80" y="278.80" width="5.00" height="5.00" fill="#f00"/>
<rect x="110.00" y="283.70" width="5.00" height="5.00" fill="#000"/>
<rect x="116.20" y="282.60" width="5.00" height="5.00" fill="#000"/>
<rect x="138.50" y="183.00" width="5.00" height="5.00" fill="#f00"/>
<rect x="141.50" y="184.50" width="5.00" height="5.00" fill="#f00"/>
<rect x="144.50" y="185.50" width="5.00" height="5.00" fill="#f00"/>
<polygon points="151.00,184.82 153.88,190.14 148.12,190.14" fill="#f00"/>
<polygon points="154.60,184.82 157.47,190.14 151.72,190.14" fill="#f00"/>
<polygon points="158.00,184.82 160.88,190.14 155.12,190.14" fill="#f00"/>
<circle cx="145.80" cy="207.80" r="2.50" fill="#f00"/>
<circle cx="149.30" cy="208.50" r="2.50" fill="#f00"/>
<circle cx="152.80" cy="208.30" r="2.50" fill="#f00"/>
<polygon points="144.00,211.90 146.50,214.40 144.00,216.90 141.50,214.40" fill="#f00"/>
<polygon points="147.60,213.50 150.10,216.00 147.60,218.50 145.10,216.00" fill="#f00"/>
<polygon points="151.00,211.80 153.50,214.30 151.00,216.80 148.50,214.30" fill="#f00"/>
<rect x="146.80" y="227.10" width="5.00" height="5.00" fill="#000"/>
<rect x="145.10" y="233.60" width="5.00" height="5.00" fill="#000"/>
<rect x="148.50" y="233.60" width="5.00" height="5.00" fill="#000"/>
<polygon points="145.00,244.78 147.88,239.46 142.12,239.46" fill="#000"/>
<polygon points="148.40,248.78 151.28,243.46 145.53,243.46" fill="#000"/>
<polygon points="154.60,244.07 157.47,238.76 151.72,238.76" fill="#000"/>
<polygon points="147.60,254.30 150.10,256.80 147.60,259.30 145.10,256.80" fill="#000"/>
<polygon points="151.00,252.50 153.50,255.00 151.00,257.50 148.50,255.00" fill="#000"/>
<polygon points="154.60,251.10 157.10,253.60 154.60,256.10 152.10,253.60" fill="#000"/>
<polygon points="145.00,259.12 147.88,264.44 142.12,264.44" fill="#000"/>
<polygon points="151.00,258.32 153.88,263.64 148.12,263.64" fill="#000"/>
<circle cx="144.60" cy="269.00" r="2.50" fill="#000"/>
<circle cx="151.00" cy="267.30" r="2.50" fill="#000"/>
<circle cx="154.60" cy="266.40" r="2.50" fill="#000"/>
<polygon points="144.0,192.9 154.6,192.9 149.3,202.6" fill="#f00"/>
<polygon points="147.2,195.0 151.4,195.0 149.3,199.0" fill="#fff"/>
<circle cx="187.40" cy="163.00" r="1.50" fill="#f00"/>
<text x="199.80" y="165.70" font-size="7.4" stroke="#000" stroke-width="0.163">Astrocytes-BrdU</text>
<circle cx="187.40" cy="177.50" r="1.50" fill="#000"/>
<text x="199.80" y="180.20" font-size="7.4" stroke="#000" stroke-width="0.163">Astrocytes-DMSO</text>
<polygon points="187.40,190.28 189.12,193.47 185.68,193.47" fill="#f00"/>
<text x="199.80" y="194.70" font-size="7.4" stroke="#000" stroke-width="0.163">Endothelial Cells-BrdU</text>
<polygon points="187.40,204.78 189.12,207.97 185.68,207.97" fill="#000"/>
<text x="199.80" y="209.20" font-size="7.4" stroke="#000" stroke-width="0.163">Endothelial Cells-DMSO</text>
<polygon points="187.40,219.50 188.90,221.00 187.40,222.50 185.90,221.00" fill="#f00"/>
<text x="199.80" y="223.70" font-size="7.4" stroke="#000" stroke-width="0.163">Microglia-BrdU</text>
<polygon points="187.40,234.00 188.90,235.50 187.40,237.00 185.90,235.50" fill="#000"/>
<text x="199.80" y="238.20" font-size="7.4" stroke="#000" stroke-width="0.163">Microglia-DMSO</text>
<rect x="185.90" y="248.50" width="3.00" height="3.00" fill="#f00"/>
<text x="199.80" y="252.70" font-size="7.4" stroke="#000" stroke-width="0.163">Oligodendrocytes-BrdU</text>
<rect x="185.90" y="263.00" width="3.00" height="3.00" fill="#000"/>
<text x="199.80" y="267.20" font-size="7.4" stroke="#000" stroke-width="0.163">Oligodendrocytes-DMSO</text>
<polygon points="187.40,280.73 189.12,277.53 185.68,277.53" fill="#f00"/>
<text x="199.80" y="281.70" font-size="7.4" stroke="#000" stroke-width="0.163">Neurons-BrdU</text>
<polygon points="187.40,295.23 189.12,292.03 185.68,292.03" fill="#000"/>
<text x="199.80" y="296.20" font-size="7.4" stroke="#000" stroke-width="0.163">Neurons-DMSO</text>
<text x="0.00" y="340.40" font-size="20.7" stroke="#000" stroke-width="0.25">D</text>
<line x1="46.50" y1="361.06" x2="46.50" y2="496.06" stroke="#000" stroke-width="1.6"/>
<line x1="45.70" y1="495.26" x2="136.80" y2="495.26" stroke="#000" stroke-width="1.6"/>
<line x1="41.50" y1="361.86" x2="46.50" y2="361.86" stroke="#000" stroke-width="1.5"/>
<text x="40.00" y="365.76" font-size="11.0" font-weight="bold" text-anchor="end" stroke="#000" stroke-width="0.242">0.6</text>
<line x1="41.50" y1="388.54" x2="46.50" y2="388.54" stroke="#000" stroke-width="1.5"/>
<text x="40.00" y="392.44" font-size="11.0" font-weight="bold" text-anchor="end" stroke="#000" stroke-width="0.242">0.4</text>
<line x1="41.50" y1="415.22" x2="46.50" y2="415.22" stroke="#000" stroke-width="1.5"/>
<text x="40.00" y="419.12" font-size="11.0" font-weight="bold" text-anchor="end" stroke="#000" stroke-width="0.242">0.2</text>
<line x1="41.50" y1="441.90" x2="46.50" y2="441.90" stroke="#000" stroke-width="1.5"/>
<text x="40.00" y="445.80" font-size="11.0" font-weight="bold" text-anchor="end" stroke="#000" stroke-width="0.242">0.0</text>
<line x1="41.50" y1="468.58" x2="46.50" y2="468.58" stroke="#000" stroke-width="1.5"/>
<text x="40.00" y="472.48" font-size="11.0" font-weight="bold" text-anchor="end" stroke="#000" stroke-width="0.242">-0.2</text>
<line x1="41.50" y1="495.26" x2="46.50" y2="495.26" stroke="#000" stroke-width="1.5"/>
<text x="40.00" y="499.16" font-size="11.0" font-weight="bold" text-anchor="end" stroke="#000" stroke-width="0.242">-0.4</text>
<line x1="64.10" y1="495.26" x2="64.10" y2="500.50" stroke="#000" stroke-width="1.6"/>
<text x="64.10" y="513.30" font-size="11.6" font-weight="bold" text-anchor="middle" textLength="21.66" lengthAdjust="spacingAndGlyphs" stroke="#000" stroke-width="0.255">PC1</text>
<line x1="91.20" y1="495.26" x2="91.20" y2="500.50" stroke="#000" stroke-width="1.6"/>
<text x="91.20" y="513.30" font-size="11.6" font-weight="bold" text-anchor="middle" textLength="21.66" lengthAdjust="spacingAndGlyphs" stroke="#000" stroke-width="0.255">PC2</text>
<line x1="118.20" y1="495.26" x2="118.20" y2="500.50" stroke="#000" stroke-width="1.6"/>
<text x="118.20" y="513.30" font-size="11.6" font-weight="bold" text-anchor="middle" textLength="21.66" lengthAdjust="spacingAndGlyphs" stroke="#000" stroke-width="0.255">PC3</text>
<line x1="48.50" y1="441.90" x2="137" y2="441.90" stroke="#000" stroke-width="1.3" stroke-dasharray="1.3 3"/>
<text x="14.20" y="465.00" font-size="10.2" font-weight="bold" stroke="#000" stroke-width="0.224" textLength="21.50" lengthAdjust="spacingAndGlyphs" transform="rotate(-90 14.20 465.00)">PCA</text>
<text x="14.20" y="439.10" font-size="10.2" font-weight="bold" stroke="#000" stroke-width="0.224" textLength="48.20" lengthAdjust="spacingAndGlyphs" transform="rotate(-90 14.20 439.10)">Loadings</text>
<rect x="55.30" y="440.50" width="17.50" height="2.8" rx="1.2" fill="#000"/>
<rect x="63.30" y="435.50" width="1.6" height="19.50" fill="#000"/>
<circle cx="64.10" cy="441.90" r="2.4" fill="#000"/>
<rect x="63.3" y="457" width="1.6" height="6" fill="#000"/>
<rect x="82.30" y="440.50" width="17.60" height="2.8" rx="1.2" fill="#000"/>
<rect x="90.40" y="413.00" width="1.6" height="41.30" fill="#000"/>
<circle cx="91.20" cy="441.90" r="2.4" fill="#000"/>
<rect x="109.30" y="440.50" width="17.60" height="2.8" rx="1.2" fill="#000"/>
<rect x="117.40" y="423.50" width="1.6" height="30.10" fill="#000"/>
<circle cx="118.20" cy="441.90" r="2.4" fill="#000"/>
<rect x="63.40" y="433.50" width="1.4" height="1.4" fill="#2020ff"/>
<rect x="63.40" y="435.10" width="1.4" height="1.4" fill="#f00"/>
<rect x="63.40" y="466.30" width="1.4" height="1.4" fill="#2020ff"/>
<rect x="63.40" y="473.60" width="1.4" height="1.4" fill="#f00"/>
<rect x="63.40" y="478.40" width="1.4" height="1.4" fill="#000"/>
<rect x="63.40" y="481.30" width="1.4" height="1.4" fill="#000"/>
<rect x="63.40" y="487.30" width="1.4" height="1.4" fill="#2020ff"/>
<rect x="90.50" y="368.10" width="1.4" height="1.4" fill="#000"/>
<rect x="90.50" y="413.80" width="1.4" height="1.4" fill="#000"/>
<rect x="90.50" y="416.30" width="1.4" height="1.4" fill="#2020ff"/>
<rect x="90.50" y="417.80" width="1.4" height="1.4" fill="#f00"/>
<rect x="90.50" y="419.80" width="1.4" height="1.4" fill="#2020ff"/>
<rect x="90.50" y="422.80" width="1.4" height="1.4" fill="#f00"/>
<rect x="90.50" y="424.30" width="1.4" height="1.4" fill="#000"/>
<rect x="90.50" y="427.30" width="1.4" height="1.4" fill="#000"/>
<rect x="90.50" y="458.00" width="1.4" height="1.4" fill="#f00"/>
<rect x="90.50" y="459.80" width="1.4" height="1.4" fill="#000"/>
<rect x="90.50" y="461.30" width="1.4" height="1.4" fill="#000"/>
<rect x="117.30" y="387.30" width="1.4" height="1.4" fill="#f00"/>
<rect x="117.30" y="400.60" width="1.4" height="1.4" fill="#f00"/>
<rect x="117.30" y="414.50" width="1.4" height="1.4" fill="#f00"/>
<rect x="117.30" y="419.20" width="1.4" height="1.4" fill="#f00"/>
<rect x="117.30" y="420.80" width="1.4" height="1.4" fill="#f00"/>
<rect x="117.30" y="423.50" width="1.4" height="1.4" fill="#000"/>
<rect x="117.50" y="447.80" width="1.4" height="1.4" fill="#2020ff"/>
<rect x="117.50" y="450.30" width="1.4" height="1.4" fill="#2020ff"/>
<rect x="117.50" y="451.80" width="1.4" height="1.4" fill="#2020ff"/>
<rect x="117.50" y="456.30" width="1.4" height="1.4" fill="#2020ff"/>
<rect x="117.50" y="458.30" width="1.4" height="1.4" fill="#2020ff"/>
<rect x="117.50" y="459.80" width="1.4" height="1.4" fill="#2020ff"/>
<text x="94.70" y="370.55" font-size="4.9" fill="#111" textLength="16.06" lengthAdjust="spacingAndGlyphs" stroke="#111" stroke-width="0.108">EEF1A1</text>
<text x="121.20" y="389.75" font-size="4.9" fill="#111" textLength="15.98" lengthAdjust="spacingAndGlyphs" stroke="#111" stroke-width="0.108">SLCTA1</text>
<text x="121.20" y="403.05" font-size="4.9" fill="#111" textLength="21.81" lengthAdjust="spacingAndGlyphs" stroke="#111" stroke-width="0.108">HSP90AB1</text>
<text x="121.20" y="416.25" font-size="4.9" fill="#111" textLength="13.82" lengthAdjust="spacingAndGlyphs" stroke="#111" stroke-width="0.108">PARP4</text>
<text x="121.20" y="421.25" font-size="4.9" fill="#111" textLength="12.70" lengthAdjust="spacingAndGlyphs" stroke="#111" stroke-width="0.108">POMP</text>
<text x="121.20" y="425.95" font-size="4.9" fill="#111" textLength="11.74" lengthAdjust="spacingAndGlyphs" stroke="#111" stroke-width="0.108">ENO1</text>
<text x="94.70" y="415.75" font-size="4.9" fill="#111" textLength="11.26" lengthAdjust="spacingAndGlyphs" stroke="#111" stroke-width="0.108">RPS3</text>
<text x="94.70" y="419.45" font-size="4.9" fill="#111" textLength="10.78" lengthAdjust="spacingAndGlyphs" stroke="#111" stroke-width="0.108">EEF2</text>
<text x="94.70" y="423.05" font-size="4.9" fill="#111" textLength="11.74" lengthAdjust="spacingAndGlyphs" stroke="#111" stroke-width="0.108">ENO1</text>
<text x="94.70" y="426.95" font-size="4.9" fill="#111" textLength="16.06" lengthAdjust="spacingAndGlyphs" stroke="#111" stroke-width="0.108">RPL13A</text>
<text x="94.70" y="430.35" font-size="4.9" fill="#111" textLength="13.66" lengthAdjust="spacingAndGlyphs" stroke="#111" stroke-width="0.108">RPS14</text>
<text x="67.70" y="433.45" font-size="4.9" fill="#111" textLength="14.14" lengthAdjust="spacingAndGlyphs" stroke="#111" stroke-width="0.108">RPS4X</text>
<text x="67.70" y="438.95" font-size="4.9" fill="#111" textLength="21.81" lengthAdjust="spacingAndGlyphs" stroke="#111" stroke-width="0.108">HSP90AB1</text>
<text x="67.70" y="454.55" font-size="4.9" fill="#111" textLength="10.78" lengthAdjust="spacingAndGlyphs" stroke="#111" stroke-width="0.108">FTH1</text>
<text x="67.70" y="461.15" font-size="4.9" fill="#111" textLength="11.74" lengthAdjust="spacingAndGlyphs" stroke="#111" stroke-width="0.108">ENO1</text>
<text x="67.70" y="468.75" font-size="4.9" fill="#111" textLength="14.38" lengthAdjust="spacingAndGlyphs" stroke="#111" stroke-width="0.108">ACTG1</text>
<text x="67.70" y="476.05" font-size="4.9" fill="#111" textLength="11.50" lengthAdjust="spacingAndGlyphs" stroke="#111" stroke-width="0.108">ACTB</text>
<text x="67.70" y="480.85" font-size="4.9" fill="#111" textLength="11.98" lengthAdjust="spacingAndGlyphs" stroke="#111" stroke-width="0.108">MYH9</text>
<text x="67.70" y="484.55" font-size="4.9" fill="#111" textLength="15.33" lengthAdjust="spacingAndGlyphs" stroke="#111" stroke-width="0.108">GAPDH</text>
<text x="67.70" y="489.65" font-size="4.9" fill="#111" textLength="16.54" lengthAdjust="spacingAndGlyphs" stroke="#111" stroke-width="0.108">COL1A1</text>
<text x="94.70" y="456.75" font-size="4.9" fill="#111" textLength="10.78" lengthAdjust="spacingAndGlyphs" stroke="#111" stroke-width="0.108">FTH1</text>
<text x="94.70" y="461.15" font-size="4.9" fill="#111" textLength="16.77" lengthAdjust="spacingAndGlyphs" stroke="#111" stroke-width="0.108">TMSB10</text>
<text x="94.70" y="467.05" font-size="4.9" fill="#111" textLength="7.67" lengthAdjust="spacingAndGlyphs" stroke="#111" stroke-width="0.108">FTL</text>
<text x="121.80" y="452.15" font-size="4.9" fill="#111" textLength="16.29" lengthAdjust="spacingAndGlyphs" stroke="#111" stroke-width="0.108">MT-CO1</text>
<text x="121.80" y="455.05" font-size="4.9" fill="#111" textLength="10.54" lengthAdjust="spacingAndGlyphs" stroke="#111" stroke-width="0.108">TPT1</text>
<text x="121.80" y="459.95" font-size="4.9" fill="#111" textLength="14.38" lengthAdjust="spacingAndGlyphs" stroke="#111" stroke-width="0.108">ACTG1</text>
<text x="121.80" y="464.35" font-size="4.9" fill="#111" textLength="10.78" lengthAdjust="spacingAndGlyphs" stroke="#111" stroke-width="0.108">EEF2</text>
<text x="121.80" y="468.75" font-size="4.9" fill="#111" textLength="16.54" lengthAdjust="spacingAndGlyphs" stroke="#111" stroke-width="0.108">COL1A1</text>
<text x="173.90" y="340.40" font-size="20.7" stroke="#000" stroke-width="0.25">E</text>
<line x1="198.20" y1="363.90" x2="198.20" y2="496.00" stroke="#000" stroke-width="1.6"/>
<line x1="197.40" y1="495.20" x2="355.00" y2="495.20" stroke="#000" stroke-width="1.6"/>
<line x1="193.70" y1="364.70" x2="198.20" y2="364.70" stroke="#000" stroke-width="1.5"/>
<text x="191.20" y="368.35" font-size="10.2" font-weight="bold" text-anchor="end" stroke="#000" stroke-width="0.224">0.6</text>
<line x1="193.70" y1="390.80" x2="198.20" y2="390.80" stroke="#000" stroke-width="1.5"/>
<text x="191.20" y="394.45" font-size="10.2" font-weight="bold" text-anchor="end" stroke="#000" stroke-width="0.224">0.4</text>
<line x1="193.70" y1="416.90" x2="198.20" y2="416.90" stroke="#000" stroke-width="1.5"/>
<text x="191.20" y="420.55" font-size="10.2" font-weight="bold" text-anchor="end" stroke="#000" stroke-width="0.224">0.2</text>
<line x1="193.70" y1="443.00" x2="198.20" y2="443.00" stroke="#000" stroke-width="1.5"/>
<text x="191.20" y="446.65" font-size="10.2" font-weight="bold" text-anchor="end" stroke="#000" stroke-width="0.224">0.0</text>
<line x1="193.70" y1="469.10" x2="198.20" y2="469.10" stroke="#000" stroke-width="1.5"/>
<text x="191.20" y="472.75" font-size="10.2" font-weight="bold" text-anchor="end" stroke="#000" stroke-width="0.224">-0.2</text>
<line x1="193.70" y1="495.20" x2="198.20" y2="495.20" stroke="#000" stroke-width="1.5"/>
<text x="191.20" y="498.85" font-size="10.2" font-weight="bold" text-anchor="end" stroke="#000" stroke-width="0.224">-0.4</text>
<line x1="198.20" y1="495.20" x2="198.20" y2="500.20" stroke="#000" stroke-width="1.5"/>
<text x="198.20" y="512.20" font-size="10.2" font-weight="bold" text-anchor="middle" stroke="#000" stroke-width="0.224">-0.4</text>
<line x1="237.20" y1="495.20" x2="237.20" y2="500.20" stroke="#000" stroke-width="1.5"/>
<text x="237.20" y="512.20" font-size="10.2" font-weight="bold" text-anchor="middle" stroke="#000" stroke-width="0.224">-0.2</text>
<line x1="276.20" y1="495.20" x2="276.20" y2="500.20" stroke="#000" stroke-width="1.5"/>
<text x="276.20" y="512.20" font-size="10.2" font-weight="bold" text-anchor="middle" stroke="#000" stroke-width="0.224">0.0</text>
<line x1="315.20" y1="495.20" x2="315.20" y2="500.20" stroke="#000" stroke-width="1.5"/>
<text x="315.20" y="512.20" font-size="10.2" font-weight="bold" text-anchor="middle" stroke="#000" stroke-width="0.224">0.2</text>
<line x1="354.20" y1="495.20" x2="354.20" y2="500.20" stroke="#000" stroke-width="1.5"/>
<text x="354.20" y="512.20" font-size="10.2" font-weight="bold" text-anchor="middle" stroke="#000" stroke-width="0.224">0.4</text>
<text x="276.20" y="527.00" font-size="11.0" font-weight="bold" text-anchor="middle" textLength="20.44" lengthAdjust="spacingAndGlyphs" stroke="#000" stroke-width="0.242">PC1</text>
<text x="168.20" y="429.60" font-size="11.0" font-weight="bold" text-anchor="middle" transform="rotate(-90 168.20 429.60)" textLength="20.33" lengthAdjust="spacingAndGlyphs" stroke="#000" stroke-width="0.242">PC2</text>
<line x1="201.20" y1="443.00" x2="354.20" y2="443.00" stroke="#000" stroke-width="1.2" stroke-dasharray="1.2 2.6"/>
<line x1="276.20" y1="364.70" x2="276.20" y2="495.20" stroke="#000" stroke-width="1.2" stroke-dasharray="1.2 2.6"/>
<line x1="276.20" y1="443.00" x2="218.00" y2="444.26" stroke="#a6a6a6" stroke-width="1.3"/>
<polygon points="211.40,444.40 217.93,441.26 218.06,447.26" fill="#a0a0a0"/>
<line x1="276.20" y1="443.00" x2="237.69" y2="445.13" stroke="#a6a6a6" stroke-width="1.3"/>
<polygon points="231.10,445.50 237.52,442.14 237.86,448.13" fill="#a0a0a0"/>
<line x1="276.20" y1="443.00" x2="248.68" y2="445.02" stroke="#a6a6a6" stroke-width="1.3"/>
<polygon points="242.10,445.50 248.46,442.03 248.90,448.01" fill="#a0a0a0"/>
<line x1="276.20" y1="443.00" x2="259.07" y2="428.73" stroke="#a6a6a6" stroke-width="1.3"/>
<polygon points="254.00,424.50 260.99,426.42 257.15,431.03" fill="#a0a0a0"/>
<line x1="276.20" y1="443.00" x2="275.10" y2="436.51" stroke="#a6a6a6" stroke-width="1.3"/>
<polygon points="274.00,430.00 278.06,436.01 272.14,437.01" fill="#a0a0a0"/>
<line x1="276.20" y1="443.00" x2="276.79" y2="437.56" stroke="#a6a6a6" stroke-width="1.3"/>
<polygon points="277.50,431.00 279.77,437.88 273.81,437.24" fill="#a0a0a0"/>
<line x1="276.20" y1="443.00" x2="277.96" y2="432.02" stroke="#a6a6a6" stroke-width="1.3"/>
<polygon points="279.00,425.50 280.92,432.49 274.99,431.54" fill="#a0a0a0"/>
<line x1="276.20" y1="443.00" x2="280.60" y2="435.66" stroke="#a6a6a6" stroke-width="1.3"/>
<polygon points="284.00,430.00 283.18,437.20 278.03,434.12" fill="#a0a0a0"/>
<line x1="276.20" y1="443.00" x2="281.38" y2="437.71" stroke="#a6a6a6" stroke-width="1.3"/>
<polygon points="286.00,433.00 283.52,439.81 279.24,435.61" fill="#a0a0a0"/>
<line x1="276.20" y1="443.00" x2="283.50" y2="438.15" stroke="#a6a6a6" stroke-width="1.3"/>
<polygon points="289.00,434.50 285.16,440.65 281.84,435.65" fill="#a0a0a0"/>
<line x1="276.20" y1="443.00" x2="278.40" y2="440.73" stroke="#a6a6a6" stroke-width="1.3"/>
<polygon points="283.00,436.00 280.55,442.82 276.25,438.64" fill="#a0a0a0"/>
<line x1="276.20" y1="443.00" x2="281.01" y2="440.77" stroke="#a6a6a6" stroke-width="1.3"/>
<polygon points="287.00,438.00 282.27,443.50 279.75,438.05" fill="#a0a0a0"/>
<line x1="276.20" y1="443.00" x2="284.42" y2="442.44" stroke="#a6a6a6" stroke-width="1.3"/>
<polygon points="291.00,442.00 284.62,445.44 284.21,439.45" fill="#a0a0a0"/>
<line x1="276.20" y1="443.00" x2="277.61" y2="443.36" stroke="#a6a6a6" stroke-width="1.3"/>
<polygon points="284.00,445.00 276.86,446.27 278.35,440.45" fill="#a0a0a0"/>
<line x1="276.20" y1="443.00" x2="275.22" y2="441.59" stroke="#a6a6a6" stroke-width="1.3"/>
<polygon points="279.00,447.00 272.76,443.31 277.67,439.87" fill="#a0a0a0"/>
<line x1="276.20" y1="443.00" x2="266.62" y2="452.78" stroke="#a6a6a6" stroke-width="1.3"/>
<polygon points="262.00,457.50 264.47,450.69 268.76,454.88" fill="#a0a0a0"/>
<line x1="276.20" y1="443.00" x2="270.00" y2="452.91" stroke="#a6a6a6" stroke-width="1.3"/>
<polygon points="266.50,458.50 267.46,451.31 272.54,454.50" fill="#a0a0a0"/>
<text x="200.50" y="451.70" font-size="4.9" fill="#111" textLength="16.54" lengthAdjust="spacingAndGlyphs" stroke="#111" stroke-width="0.108">COL1A1</text>
<text x="218.00" y="451.70" font-size="4.9" fill="#111" textLength="11.50" lengthAdjust="spacingAndGlyphs" stroke="#111" stroke-width="0.108">ACTB</text>
<text x="232.70" y="453.20" font-size="4.9" fill="#111" textLength="14.38" lengthAdjust="spacingAndGlyphs" stroke="#111" stroke-width="0.108">ACTG1</text>
<text x="237.70" y="422.60" font-size="4.9" fill="#111" textLength="11.74" lengthAdjust="spacingAndGlyphs" stroke="#111" stroke-width="0.108">ENO1</text>
<text x="257.00" y="425.40" font-size="4.9" fill="#111" textLength="13.66" lengthAdjust="spacingAndGlyphs" stroke="#111" stroke-width="0.108">RPS14</text>
<text x="260.70" y="421.00" font-size="4.9" fill="#111" textLength="16.06" lengthAdjust="spacingAndGlyphs" stroke="#111" stroke-width="0.108">RPL13A</text>
<text x="277.10" y="419.50" font-size="4.9" fill="#111" textLength="10.78" lengthAdjust="spacingAndGlyphs" stroke="#111" stroke-width="0.108">EEF2</text>
<text x="281.50" y="424.80" font-size="4.9" fill="#111" textLength="16.29" lengthAdjust="spacingAndGlyphs" stroke="#111" stroke-width="0.108">MT-CO1</text>
<text x="285.90" y="428.70" font-size="4.9" fill="#111" textLength="11.26" lengthAdjust="spacingAndGlyphs" stroke="#111" stroke-width="0.108">RPS3</text>
<text x="294.60" y="429.80" font-size="4.9" fill="#111" textLength="21.81" lengthAdjust="spacingAndGlyphs" stroke="#111" stroke-width="0.108">HSP90AB1</text>
<text x="297.90" y="433.50" font-size="4.9" fill="#111" textLength="16.06" lengthAdjust="spacingAndGlyphs" stroke="#111" stroke-width="0.108">SLC7A1</text>
<text x="285.90" y="435.30" font-size="4.9" fill="#111" textLength="13.82" lengthAdjust="spacingAndGlyphs" stroke="#111" stroke-width="0.108">PARP4</text>
<text x="282.60" y="439.60" font-size="4.9" fill="#111" textLength="16.77" lengthAdjust="spacingAndGlyphs" stroke="#111" stroke-width="0.108">TUBB4B</text>
<text x="281.50" y="445.10" font-size="4.9" fill="#111" textLength="12.70" lengthAdjust="spacingAndGlyphs" stroke="#111" stroke-width="0.108">POMP</text>
<text x="296.80" y="444.00" font-size="4.9" fill="#111" textLength="16.06" lengthAdjust="spacingAndGlyphs" stroke="#111" stroke-width="0.108">EEF1A2</text>
<text x="255.90" y="441.80" font-size="4.9" fill="#111" textLength="11.98" lengthAdjust="spacingAndGlyphs" stroke="#111" stroke-width="0.108">CANX</text>
<text x="280.40" y="448.40" font-size="4.9" fill="#111" textLength="10.79" lengthAdjust="spacingAndGlyphs" stroke="#111" stroke-width="0.108">RPL8</text>
<text x="276.00" y="453.90" font-size="4.9" fill="#111" textLength="10.54" lengthAdjust="spacingAndGlyphs" stroke="#111" stroke-width="0.108">TPT1</text>
<text x="248.20" y="460.90" font-size="4.9" fill="#111" textLength="10.78" lengthAdjust="spacingAndGlyphs" stroke="#111" stroke-width="0.108">FTH1</text>
<text x="266.80" y="462.60" font-size="4.9" fill="#111" textLength="8.15" lengthAdjust="spacingAndGlyphs" stroke="#111" stroke-width="0.108">FN1</text>
<polygon points="257.00,416.81 260.11,411.06 253.90,411.06" fill="#f00"/>
<polygon points="232.90,424.50 235.60,427.20 232.90,429.90 230.20,427.20" fill="#f00"/>
<polygon points="250.20,430.31 253.30,424.56 247.09,424.56" fill="#000"/>
<polygon points="227.70,435.10 230.40,437.80 227.70,440.50 225.00,437.80" fill="#000"/>
<polygon points="315.40,425.09 318.50,430.84 312.29,430.84" fill="#f00"/>
<polygon points="304.80,433.09 307.91,438.84 301.69,438.84" fill="#000"/>
<circle cx="324.00" cy="437.50" r="2.70" fill="#f00"/>
<circle cx="322.40" cy="450.30" r="2.70" fill="#000"/>
<rect x="256.50" y="484.90" width="5.40" height="5.40" fill="#000"/>
<rect x="262.90" y="483.90" width="5.40" height="5.40" fill="#f00"/>
<line x1="395.00" y1="363.90" x2="395.00" y2="496.00" stroke="#000" stroke-width="1.6"/>
<line x1="394.20" y1="495.20" x2="551.80" y2="495.20" stroke="#000" stroke-width="1.6"/>
<line x1="390.50" y1="364.70" x2="395.00" y2="364.70" stroke="#000" stroke-width="1.5"/>
<text x="388.00" y="368.35" font-size="10.2" font-weight="bold" text-anchor="end" stroke="#000" stroke-width="0.224">0.6</text>
<line x1="390.50" y1="390.80" x2="395.00" y2="390.80" stroke="#000" stroke-width="1.5"/>
<text x="388.00" y="394.45" font-size="10.2" font-weight="bold" text-anchor="end" stroke="#000" stroke-width="0.224">0.4</text>
<line x1="390.50" y1="416.90" x2="395.00" y2="416.90" stroke="#000" stroke-width="1.5"/>
<text x="388.00" y="420.55" font-size="10.2" font-weight="bold" text-anchor="end" stroke="#000" stroke-width="0.224">0.2</text>
<line x1="390.50" y1="443.00" x2="395.00" y2="443.00" stroke="#000" stroke-width="1.5"/>
<text x="388.00" y="446.65" font-size="10.2" font-weight="bold" text-anchor="end" stroke="#000" stroke-width="0.224">0.0</text>
<line x1="390.50" y1="469.10" x2="395.00" y2="469.10" stroke="#000" stroke-width="1.5"/>
<text x="388.00" y="472.75" font-size="10.2" font-weight="bold" text-anchor="end" stroke="#000" stroke-width="0.224">-0.2</text>
<line x1="390.50" y1="495.20" x2="395.00" y2="495.20" stroke="#000" stroke-width="1.5"/>
<text x="388.00" y="498.85" font-size="10.2" font-weight="bold" text-anchor="end" stroke="#000" stroke-width="0.224">-0.4</text>
<line x1="395.00" y1="495.20" x2="395.00" y2="500.20" stroke="#000" stroke-width="1.5"/>
<text x="395.00" y="512.20" font-size="10.2" font-weight="bold" text-anchor="middle" stroke="#000" stroke-width="0.224">-0.4</text>
<line x1="434.00" y1="495.20" x2="434.00" y2="500.20" stroke="#000" stroke-width="1.5"/>
<text x="434.00" y="512.20" font-size="10.2" font-weight="bold" text-anchor="middle" stroke="#000" stroke-width="0.224">-0.2</text>
<line x1="473.00" y1="495.20" x2="473.00" y2="500.20" stroke="#000" stroke-width="1.5"/>
<text x="473.00" y="512.20" font-size="10.2" font-weight="bold" text-anchor="middle" stroke="#000" stroke-width="0.224">0.0</text>
<line x1="512.00" y1="495.20" x2="512.00" y2="500.20" stroke="#000" stroke-width="1.5"/>
<text x="512.00" y="512.20" font-size="10.2" font-weight="bold" text-anchor="middle" stroke="#000" stroke-width="0.224">0.2</text>
<line x1="551.00" y1="495.20" x2="551.00" y2="500.20" stroke="#000" stroke-width="1.5"/>
<text x="551.00" y="512.20" font-size="10.2" font-weight="bold" text-anchor="middle" stroke="#000" stroke-width="0.224">0.4</text>
<text x="473.00" y="527.00" font-size="11.0" font-weight="bold" text-anchor="middle" textLength="20.44" lengthAdjust="spacingAndGlyphs" stroke="#000" stroke-width="0.242">PC1</text>
<text x="365.00" y="429.60" font-size="11.0" font-weight="bold" text-anchor="middle" transform="rotate(-90 365.00 429.60)" textLength="20.33" lengthAdjust="spacingAndGlyphs" stroke="#000" stroke-width="0.242">PC3</text>
<line x1="398.00" y1="443.00" x2="551.00" y2="443.00" stroke="#000" stroke-width="1.2" stroke-dasharray="1.2 2.6"/>
<line x1="473.00" y1="364.70" x2="473.00" y2="495.20" stroke="#000" stroke-width="1.2" stroke-dasharray="1.2 2.6"/>
<line x1="473.00" y1="443.00" x2="414.22" y2="456.88" stroke="#a6a6a6" stroke-width="1.3"/>
<polygon points="407.80,458.40 413.53,453.96 414.91,459.80" fill="#a0a0a0"/>
<line x1="473.00" y1="443.00" x2="444.47" y2="453.77" stroke="#a6a6a6" stroke-width="1.3"/>
<polygon points="438.30,456.10 443.42,450.96 445.53,456.58" fill="#a0a0a0"/>
<line x1="473.00" y1="443.00" x2="434.77" y2="426.60" stroke="#a6a6a6" stroke-width="1.3"/>
<polygon points="428.70,424.00 435.95,423.84 433.58,429.36" fill="#a0a0a0"/>
<line x1="473.00" y1="443.00" x2="453.86" y2="426.16" stroke="#a6a6a6" stroke-width="1.3"/>
<polygon points="448.90,421.80 455.84,423.91 451.87,428.41" fill="#a0a0a0"/>
<line x1="473.00" y1="443.00" x2="463.39" y2="431.30" stroke="#a6a6a6" stroke-width="1.3"/>
<polygon points="459.20,426.20 465.71,429.40 461.07,433.20" fill="#a0a0a0"/>
<line x1="473.00" y1="443.00" x2="468.09" y2="428.26" stroke="#a6a6a6" stroke-width="1.3"/>
<polygon points="466.00,422.00 470.93,427.31 465.24,429.21" fill="#a0a0a0"/>
<line x1="473.00" y1="443.00" x2="481.42" y2="396.49" stroke="#a6a6a6" stroke-width="1.3"/>
<polygon points="482.60,390.00 484.38,397.03 478.47,395.96" fill="#a0a0a0"/>
<line x1="473.00" y1="443.00" x2="480.58" y2="408.45" stroke="#a6a6a6" stroke-width="1.3"/>
<polygon points="482.00,402.00 483.52,409.09 477.65,407.80" fill="#a0a0a0"/>
<line x1="473.00" y1="443.00" x2="477.57" y2="422.44" stroke="#a6a6a6" stroke-width="1.3"/>
<polygon points="479.00,416.00 480.50,423.09 474.64,421.79" fill="#a0a0a0"/>
<line x1="473.00" y1="443.00" x2="476.54" y2="427.44" stroke="#a6a6a6" stroke-width="1.3"/>
<polygon points="478.00,421.00 479.46,428.10 473.61,426.77" fill="#a0a0a0"/>
<line x1="473.00" y1="443.00" x2="475.49" y2="432.42" stroke="#a6a6a6" stroke-width="1.3"/>
<polygon points="477.00,426.00 478.41,433.11 472.57,431.74" fill="#a0a0a0"/>
<line x1="473.00" y1="443.00" x2="474.26" y2="438.37" stroke="#a6a6a6" stroke-width="1.3"/>
<polygon points="476.00,432.00 477.16,439.16 471.37,437.58" fill="#a0a0a0"/>
<line x1="473.00" y1="443.00" x2="476.68" y2="444.10" stroke="#a6a6a6" stroke-width="1.3"/>
<polygon points="483.00,446.00 475.82,446.98 477.54,441.23" fill="#a0a0a0"/>
<line x1="473.00" y1="443.00" x2="479.10" y2="446.05" stroke="#a6a6a6" stroke-width="1.3"/>
<polygon points="485.00,449.00 477.76,448.73 480.44,443.37" fill="#a0a0a0"/>
<line x1="473.00" y1="443.00" x2="478.89" y2="447.82" stroke="#a6a6a6" stroke-width="1.3"/>
<polygon points="484.00,452.00 476.99,450.14 480.79,445.50" fill="#a0a0a0"/>
<line x1="473.00" y1="443.00" x2="474.79" y2="446.23" stroke="#a6a6a6" stroke-width="1.3"/>
<polygon points="478.00,452.00 472.17,447.69 477.42,444.77" fill="#a0a0a0"/>
<line x1="473.00" y1="443.00" x2="473.82" y2="447.51" stroke="#a6a6a6" stroke-width="1.3"/>
<polygon points="475.00,454.00 470.87,448.04 476.77,446.97" fill="#a0a0a0"/>
<line x1="473.00" y1="443.00" x2="469.12" y2="447.85" stroke="#a6a6a6" stroke-width="1.3"/>
<polygon points="465.00,453.00 466.78,445.97 471.47,449.72" fill="#a0a0a0"/>
<line x1="473.00" y1="443.00" x2="471.26" y2="447.80" stroke="#a6a6a6" stroke-width="1.3"/>
<polygon points="469.00,454.00 468.44,446.77 474.07,448.82" fill="#a0a0a0"/>
<line x1="473.00" y1="443.00" x2="472.93" y2="443.47" stroke="#a6a6a6" stroke-width="1.3"/>
<polygon points="472.00,450.00 469.96,443.04 475.90,443.89" fill="#a0a0a0"/>
<line x1="473.00" y1="443.00" x2="466.31" y2="445.06" stroke="#a6a6a6" stroke-width="1.3"/>
<polygon points="460.00,447.00 465.43,442.19 467.19,447.93" fill="#a0a0a0"/>
<text x="397.50" y="465.90" font-size="4.9" fill="#111" textLength="16.54" lengthAdjust="spacingAndGlyphs" stroke="#111" stroke-width="0.108">COL1A1</text>
<text x="421.30" y="461.80" font-size="4.9" fill="#111" textLength="14.38" lengthAdjust="spacingAndGlyphs" stroke="#111" stroke-width="0.108">ACTG1</text>
<text x="414.20" y="422.60" font-size="4.9" fill="#111" textLength="11.50" lengthAdjust="spacingAndGlyphs" stroke="#111" stroke-width="0.108">ACTB</text>
<text x="436.00" y="421.00" font-size="4.9" fill="#111" textLength="11.74" lengthAdjust="spacingAndGlyphs" stroke="#111" stroke-width="0.108">ENO1</text>
<text x="456.00" y="423.60" font-size="4.9" fill="#111" textLength="10.78" lengthAdjust="spacingAndGlyphs" stroke="#111" stroke-width="0.108">FTH1</text>
<text x="461.80" y="418.80" font-size="4.9" fill="#111" textLength="13.66" lengthAdjust="spacingAndGlyphs" stroke="#111" stroke-width="0.108">RPS14</text>
<text x="488.00" y="391.40" font-size="4.9" fill="#111" textLength="16.06" lengthAdjust="spacingAndGlyphs" stroke="#111" stroke-width="0.108">SLC7A1</text>
<text x="487.40" y="404.30" font-size="4.9" fill="#111" textLength="21.81" lengthAdjust="spacingAndGlyphs" stroke="#111" stroke-width="0.108">HSP90AB1</text>
<text x="483.30" y="416.80" font-size="4.9" fill="#111" textLength="13.82" lengthAdjust="spacingAndGlyphs" stroke="#111" stroke-width="0.108">PARP4</text>
<text x="488.00" y="421.90" font-size="4.9" fill="#111" textLength="12.70" lengthAdjust="spacingAndGlyphs" stroke="#111" stroke-width="0.108">POMP</text>
<text x="483.30" y="427.40" font-size="4.9" fill="#111" textLength="16.06" lengthAdjust="spacingAndGlyphs" stroke="#111" stroke-width="0.108">EEF1A2</text>
<text x="481.00" y="433.20" font-size="4.9" fill="#111" textLength="11.98" lengthAdjust="spacingAndGlyphs" stroke="#111" stroke-width="0.108">CANX</text>
<text x="478.50" y="446.70" font-size="4.9" fill="#111" textLength="16.06" lengthAdjust="spacingAndGlyphs" stroke="#111" stroke-width="0.108">RPL13A</text>
<text x="488.00" y="451.50" font-size="4.9" fill="#111" textLength="10.79" lengthAdjust="spacingAndGlyphs" stroke="#111" stroke-width="0.108">RPL8</text>
<text x="494.50" y="456.30" font-size="4.9" fill="#111" textLength="14.14" lengthAdjust="spacingAndGlyphs" stroke="#111" stroke-width="0.108">RPS4X</text>
<text x="478.50" y="456.30" font-size="4.9" fill="#111" textLength="10.78" lengthAdjust="spacingAndGlyphs" stroke="#111" stroke-width="0.108">EEF2</text>
<text x="483.30" y="460.50" font-size="4.9" fill="#111" textLength="16.29" lengthAdjust="spacingAndGlyphs" stroke="#111" stroke-width="0.108">MT-CO1</text>
<text x="476.20" y="465.90" font-size="4.9" fill="#111" textLength="16.77" lengthAdjust="spacingAndGlyphs" stroke="#111" stroke-width="0.108">TUBB4B</text>
<text x="452.10" y="457.90" font-size="4.9" fill="#111" textLength="8.15" lengthAdjust="spacingAndGlyphs" stroke="#111" stroke-width="0.108">FN1</text>
<text x="461.80" y="457.90" font-size="4.9" fill="#111" textLength="10.54" lengthAdjust="spacingAndGlyphs" stroke="#111" stroke-width="0.108">TPT1</text>
<rect x="460.30" y="407.50" width="5.40" height="5.40" fill="#f00"/>
<polygon points="454.40,420.71 457.50,414.96 451.29,414.96" fill="#f00"/>
<polygon points="513.10,407.09 516.21,412.84 510.00,412.84" fill="#f00"/>
<circle cx="521.20" cy="427.20" r="2.70" fill="#f00"/>
<polygon points="429.60,430.00 432.30,432.70 429.60,435.40 426.90,432.70" fill="#f00"/>
<rect x="454.20" y="446.00" width="5.40" height="5.40" fill="#000"/>
<polygon points="447.30,458.61 450.41,452.86 444.19,452.86" fill="#000"/>
<polygon points="425.50,463.00 428.20,465.70 425.50,468.40 422.80,465.70" fill="#000"/>
<polygon points="502.50,469.09 505.61,474.84 499.39,474.84" fill="#000"/>
<circle cx="520.20" cy="476.00" r="2.70" fill="#000"/>
<circle cx="569.00" cy="347.20" r="1.90" fill="#f00"/>
<text x="584.40" y="350.40" font-size="9.0">Astrocytes-BrdU</text>
<circle cx="569.00" cy="364.78" r="1.90" fill="#000"/>
<text x="584.40" y="367.98" font-size="9.0">Astrocytes-DMSO</text>
<polygon points="569.00,380.18 571.18,384.22 566.82,384.22" fill="#f00"/>
<text x="584.40" y="385.56" font-size="9.0">Endothelial Cells-BrdU</text>
<polygon points="569.00,397.75 571.18,401.80 566.82,401.80" fill="#000"/>
<text x="584.40" y="403.14" font-size="9.0">Endothelial Cells-DMSO</text>
<polygon points="569.00,415.62 570.90,417.52 569.00,419.42 567.10,417.52" fill="#f00"/>
<text x="584.40" y="420.72" font-size="9.0">Microglia-BrdU</text>
<polygon points="569.00,433.20 570.90,435.10 569.00,437.00 567.10,435.10" fill="#000"/>
<text x="584.40" y="438.30" font-size="9.0">Microglia-DMSO</text>
<rect x="567.10" y="450.78" width="3.80" height="3.80" fill="#f00"/>
<text x="584.40" y="455.88" font-size="9.0">Oligodendrocytes-BrdU</text>
<rect x="567.10" y="468.36" width="3.80" height="3.80" fill="#000"/>
<text x="584.40" y="473.46" font-size="9.0">Oligodendrocytes-DMSO</text>
<polygon points="569.00,490.02 571.18,485.98 566.82,485.98" fill="#f00"/>
<text x="584.40" y="491.04" font-size="9.0">Neurons-BrdU</text>
<polygon points="569.00,507.60 571.18,503.56 566.82,503.56" fill="#000"/>
<text x="584.40" y="508.62" font-size="9.0">Neurons-DMSO</text>
<text x="0.00" y="556.40" font-size="20.7" stroke="#000" stroke-width="0.25">F</text>
<line x1="88.80" y1="549.42" x2="88.80" y2="661.58" stroke="#000" stroke-width="2.1"/>
<line x1="87.80" y1="660.58" x2="278.50" y2="660.58" stroke="#000" stroke-width="2.1"/>
<line x1="80.80" y1="550.42" x2="88.80" y2="550.42" stroke="#000" stroke-width="1.9"/>
<text x="78.90" y="555.42" font-size="13.9" font-weight="bold" text-anchor="end" stroke="#000" stroke-width="0.306">0.6</text>
<line x1="80.80" y1="568.78" x2="88.80" y2="568.78" stroke="#000" stroke-width="1.9"/>
<text x="78.90" y="573.78" font-size="13.9" font-weight="bold" text-anchor="end" stroke="#000" stroke-width="0.306">0.4</text>
<line x1="80.80" y1="587.14" x2="88.80" y2="587.14" stroke="#000" stroke-width="1.9"/>
<text x="78.90" y="592.14" font-size="13.9" font-weight="bold" text-anchor="end" stroke="#000" stroke-width="0.306">0.2</text>
<line x1="80.80" y1="605.50" x2="88.80" y2="605.50" stroke="#000" stroke-width="1.9"/>
<text x="78.90" y="610.50" font-size="13.9" font-weight="bold" text-anchor="end" stroke="#000" stroke-width="0.306">0.0</text>
<line x1="80.80" y1="623.86" x2="88.80" y2="623.86" stroke="#000" stroke-width="1.9"/>
<text x="78.90" y="628.86" font-size="13.9" font-weight="bold" text-anchor="end" stroke="#000" stroke-width="0.306">-0.2</text>
<line x1="80.80" y1="642.22" x2="88.80" y2="642.22" stroke="#000" stroke-width="1.9"/>
<text x="78.90" y="647.22" font-size="13.9" font-weight="bold" text-anchor="end" stroke="#000" stroke-width="0.306">-0.4</text>
<line x1="80.80" y1="660.58" x2="88.80" y2="660.58" stroke="#000" stroke-width="1.9"/>
<text x="78.90" y="665.58" font-size="13.9" font-weight="bold" text-anchor="end" stroke="#000" stroke-width="0.306">-0.6</text>
<line x1="112.10" y1="660.58" x2="112.10" y2="668.00" stroke="#000" stroke-width="1.7"/>
<text x="114.60" y="677.50" font-size="10.6" font-weight="bold" text-anchor="end" transform="rotate(-45 114.60 677.50)" stroke="#000" stroke-width="0.233">Astrocytes</text>
<line x1="147.60" y1="660.58" x2="147.60" y2="668.00" stroke="#000" stroke-width="1.7"/>
<text x="150.10" y="677.50" font-size="10.6" font-weight="bold" text-anchor="end" transform="rotate(-45 150.10 677.50)" stroke="#000" stroke-width="0.233">Endothelial Cells</text>
<line x1="183.20" y1="660.58" x2="183.20" y2="668.00" stroke="#000" stroke-width="1.7"/>
<text x="185.70" y="677.50" font-size="10.6" font-weight="bold" text-anchor="end" transform="rotate(-45 185.70 677.50)" stroke="#000" stroke-width="0.233">Microglia</text>
<line x1="218.50" y1="660.58" x2="218.50" y2="668.00" stroke="#000" stroke-width="1.7"/>
<text x="221.00" y="677.50" font-size="10.6" font-weight="bold" text-anchor="end" transform="rotate(-45 221.00 677.50)" stroke="#000" stroke-width="0.233">Oligodendrocytes</text>
<line x1="254.00" y1="660.58" x2="254.00" y2="668.00" stroke="#000" stroke-width="1.7"/>
<text x="256.50" y="677.50" font-size="10.6" font-weight="bold" text-anchor="end" transform="rotate(-45 256.50 677.50)" stroke="#000" stroke-width="0.233">Neurons</text>
<line x1="93.60" y1="605.50" x2="279" y2="605.50" stroke="#000" stroke-width="1.8" stroke-dasharray="1.8 3.86"/>
<text x="42.80" y="659.70" font-size="14.2" font-weight="bold" stroke="#000" stroke-width="0.312" textLength="27.80" lengthAdjust="spacingAndGlyphs" transform="rotate(-90 42.80 659.70)">PC1</text>
<text x="42.80" y="620.90" font-size="14.2" font-weight="bold" stroke="#000" stroke-width="0.312" textLength="68.60" lengthAdjust="spacingAndGlyphs" transform="rotate(-90 42.80 620.90)">Loadings</text>
<circle cx="104.7" cy="566.4" r="2.15" fill="#f00"/>
<circle cx="112.1" cy="569.9" r="2.15" fill="#f00"/>
<circle cx="119.9" cy="569.2" r="2.15" fill="#f00"/>
<circle cx="140.2" cy="566.4" r="2.15" fill="#f00"/>
<circle cx="147.7" cy="566.4" r="2.15" fill="#f00"/>
<circle cx="155.4" cy="566.4" r="2.15" fill="#f00"/>
<circle cx="175.7" cy="569.7" r="2.15" fill="#f00"/>
<circle cx="183.2" cy="570.4" r="2.15" fill="#f00"/>
<circle cx="190.9" cy="567.1" r="2.15" fill="#f00"/>
<circle cx="211.2" cy="564.1" r="2.15" fill="#f00"/>
<circle cx="218.5" cy="567.1" r="2.15" fill="#f00"/>
<circle cx="225.9" cy="567.1" r="2.15" fill="#f00"/>
<circle cx="250.5" cy="564.1" r="2.15" fill="#f00"/>
<circle cx="258" cy="564.1" r="2.15" fill="#f00"/>
<circle cx="254" cy="570.4" r="2.15" fill="#f00"/>
<circle cx="105.1" cy="644" r="2.15" fill="#000"/>
<circle cx="112.1" cy="642.8" r="2.15" fill="#000"/>
<circle cx="119.9" cy="644" r="2.15" fill="#000"/>
<circle cx="140.2" cy="642.8" r="2.15" fill="#000"/>
<circle cx="147.7" cy="641" r="2.15" fill="#000"/>
<circle cx="155.4" cy="641" r="2.15" fill="#000"/>
<circle cx="175.7" cy="645.1" r="2.15" fill="#000"/>
<circle cx="183.2" cy="643.3" r="2.15" fill="#000"/>
<circle cx="190.9" cy="643.5" r="2.15" fill="#000"/>
<circle cx="215" cy="648" r="2.15" fill="#000"/>
<circle cx="222.4" cy="646.8" r="2.15" fill="#000"/>
<circle cx="218.5" cy="622.9" r="2.15" fill="#000"/>
<circle cx="254" cy="633" r="2.15" fill="#000"/>
<circle cx="254" cy="641.2" r="2.15" fill="#000"/>
<circle cx="254" cy="647.5" r="2.15" fill="#000"/>
<circle cx="292" cy="597.2" r="2.1" fill="#000"/><circle cx="292" cy="610.8" r="2.1" fill="#f00"/>
<text x="303.60" y="600.40" font-size="8.7">DMSO</text>
<text x="303.60" y="614.00" font-size="8.7">BrdU</text>
<text x="342.50" y="559.00" font-size="20.7" stroke="#000" stroke-width="0.25">G</text>
<line x1="418.30" y1="553.60" x2="418.30" y2="664.20" stroke="#000" stroke-width="2.1"/>
<line x1="417.30" y1="663.20" x2="601.70" y2="663.20" stroke="#000" stroke-width="2.1"/>
<line x1="409.80" y1="554.60" x2="418.30" y2="554.60" stroke="#000" stroke-width="1.9"/>
<text x="407.50" y="559.45" font-size="13.6" font-weight="bold" text-anchor="end" stroke="#000" stroke-width="0.299">0.8</text>
<line x1="409.80" y1="572.70" x2="418.30" y2="572.70" stroke="#000" stroke-width="1.9"/>
<text x="407.50" y="577.55" font-size="13.6" font-weight="bold" text-anchor="end" stroke="#000" stroke-width="0.299">0.6</text>
<line x1="409.80" y1="590.80" x2="418.30" y2="590.80" stroke="#000" stroke-width="1.9"/>
<text x="407.50" y="595.65" font-size="13.6" font-weight="bold" text-anchor="end" stroke="#000" stroke-width="0.299">0.4</text>
<line x1="409.80" y1="608.90" x2="418.30" y2="608.90" stroke="#000" stroke-width="1.9"/>
<text x="407.50" y="613.75" font-size="13.6" font-weight="bold" text-anchor="end" stroke="#000" stroke-width="0.299">0.2</text>
<line x1="409.80" y1="627.00" x2="418.30" y2="627.00" stroke="#000" stroke-width="1.9"/>
<text x="407.50" y="631.85" font-size="13.6" font-weight="bold" text-anchor="end" stroke="#000" stroke-width="0.299">0.0</text>
<line x1="409.80" y1="645.10" x2="418.30" y2="645.10" stroke="#000" stroke-width="1.9"/>
<text x="407.50" y="649.95" font-size="13.6" font-weight="bold" text-anchor="end" stroke="#000" stroke-width="0.299">-0.2</text>
<line x1="409.80" y1="663.20" x2="418.30" y2="663.20" stroke="#000" stroke-width="1.9"/>
<text x="407.50" y="668.05" font-size="13.6" font-weight="bold" text-anchor="end" stroke="#000" stroke-width="0.299">-0.4</text>
<line x1="440.10" y1="663.20" x2="440.10" y2="670.50" stroke="#000" stroke-width="1.7"/>
<text x="442.60" y="679.50" font-size="10.6" font-weight="bold" text-anchor="end" transform="rotate(-45 442.60 679.50)" stroke="#000" stroke-width="0.233">Astrocytes</text>
<line x1="474.60" y1="663.20" x2="474.60" y2="670.50" stroke="#000" stroke-width="1.7"/>
<text x="477.10" y="679.50" font-size="10.6" font-weight="bold" text-anchor="end" transform="rotate(-45 477.10 679.50)" stroke="#000" stroke-width="0.233">Endothelial Cells</text>
<line x1="509.20" y1="663.20" x2="509.20" y2="670.50" stroke="#000" stroke-width="1.7"/>
<text x="511.70" y="679.50" font-size="10.6" font-weight="bold" text-anchor="end" transform="rotate(-45 511.70 679.50)" stroke="#000" stroke-width="0.233">Microglia</text>
<line x1="543.60" y1="663.20" x2="543.60" y2="670.50" stroke="#000" stroke-width="1.7"/>
<text x="546.10" y="679.50" font-size="10.6" font-weight="bold" text-anchor="end" transform="rotate(-45 546.10 679.50)" stroke="#000" stroke-width="0.233">Oligodendrocytes</text>
<line x1="578.20" y1="663.20" x2="578.20" y2="670.50" stroke="#000" stroke-width="1.7"/>
<text x="580.70" y="679.50" font-size="10.6" font-weight="bold" text-anchor="end" transform="rotate(-45 580.70 679.50)" stroke="#000" stroke-width="0.233">Neurons</text>
<line x1="422.20" y1="627.00" x2="601" y2="627.00" stroke="#000" stroke-width="1.8" stroke-dasharray="1.8 3.9"/>
<text x="372.20" y="662.80" font-size="14.0" font-weight="bold" stroke="#000" stroke-width="0.308" textLength="27.70" lengthAdjust="spacingAndGlyphs" transform="rotate(-90 372.20 662.80)">PC1</text>
<text x="372.20" y="622.30" font-size="14.0" font-weight="bold" stroke="#000" stroke-width="0.308" textLength="66.10" lengthAdjust="spacingAndGlyphs" transform="rotate(-90 372.20 622.30)">Loadings</text>
<circle cx="430.50" cy="626.63" r="2.3" fill="#000"/>
<circle cx="431.70" cy="627.06" r="2.3" fill="#000"/>
<circle cx="432.90" cy="626.82" r="2.3" fill="#000"/>
<circle cx="434.10" cy="627.15" r="2.3" fill="#000"/>
<circle cx="435.30" cy="627.18" r="2.3" fill="#000"/>
<circle cx="436.50" cy="626.39" r="2.3" fill="#000"/>
<circle cx="437.70" cy="626.32" r="2.3" fill="#000"/>
<circle cx="438.90" cy="627.47" r="2.3" fill="#000"/>
<circle cx="440.10" cy="626.66" r="2.3" fill="#000"/>
<circle cx="441.30" cy="626.63" r="2.3" fill="#000"/>
<circle cx="442.50" cy="627.69" r="2.3" fill="#000"/>
<circle cx="443.70" cy="626.96" r="2.3" fill="#000"/>
<circle cx="444.90" cy="627.47" r="2.3" fill="#000"/>
<circle cx="446.10" cy="626.97" r="2.3" fill="#000"/>
<circle cx="447.30" cy="627.19" r="2.3" fill="#000"/>
<circle cx="448.50" cy="626.51" r="2.3" fill="#000"/>
<circle cx="442.37" cy="628.39" r="2.2" fill="#000"/>
<circle cx="443.02" cy="626.07" r="2.2" fill="#000"/>
<circle cx="448.05" cy="625.96" r="2.2" fill="#000"/>
<circle cx="431.75" cy="628.18" r="2.2" fill="#000"/>
<circle cx="443.85" cy="628.37" r="2.2" fill="#000"/>
<circle cx="447.41" cy="628.38" r="2.2" fill="#000"/>
<circle cx="441.35" cy="625.50" r="2.2" fill="#000"/>
<circle cx="432.92" cy="625.80" r="2.2" fill="#000"/>
<circle cx="435.74" cy="628.42" r="2.2" fill="#000"/>
<circle cx="446.25" cy="628.21" r="2.2" fill="#000"/>
<circle cx="440.03" cy="595.30" r="2.3" fill="#000"/>
<circle cx="440.01" cy="601.00" r="2.3" fill="#000"/>
<circle cx="440.15" cy="603.50" r="2.3" fill="#000"/>
<circle cx="440.15" cy="606.00" r="2.3" fill="#000"/>
<circle cx="440.34" cy="609.50" r="2.3" fill="#000"/>
<circle cx="440.21" cy="612.00" r="2.3" fill="#000"/>
<circle cx="440.36" cy="614.50" r="2.3" fill="#000"/>
<circle cx="440.31" cy="616.50" r="2.3" fill="#000"/>
<circle cx="440.39" cy="623.50" r="2.3" fill="#000"/>
<circle cx="466.10" cy="627.24" r="2.3" fill="#000"/>
<circle cx="467.30" cy="626.53" r="2.3" fill="#000"/>
<circle cx="468.50" cy="627.50" r="2.3" fill="#000"/>
<circle cx="469.70" cy="627.65" r="2.3" fill="#000"/>
<circle cx="470.90" cy="627.57" r="2.3" fill="#000"/>
<circle cx="472.10" cy="627.10" r="2.3" fill="#000"/>
<circle cx="473.30" cy="627.30" r="2.3" fill="#000"/>
<circle cx="474.50" cy="626.60" r="2.3" fill="#000"/>
<circle cx="475.70" cy="627.46" r="2.3" fill="#000"/>
<circle cx="476.90" cy="627.10" r="2.3" fill="#000"/>
<circle cx="478.10" cy="626.70" r="2.3" fill="#000"/>
<circle cx="479.30" cy="626.39" r="2.3" fill="#000"/>
<circle cx="480.50" cy="627.50" r="2.3" fill="#000"/>
<circle cx="481.70" cy="627.69" r="2.3" fill="#000"/>
<circle cx="482.90" cy="626.42" r="2.3" fill="#000"/>
<circle cx="479.45" cy="628.52" r="2.2" fill="#000"/>
<circle cx="467.12" cy="628.42" r="2.2" fill="#000"/>
<circle cx="480.59" cy="625.72" r="2.2" fill="#000"/>
<circle cx="478.83" cy="628.37" r="2.2" fill="#000"/>
<circle cx="472.03" cy="628.20" r="2.2" fill="#000"/>
<circle cx="482.58" cy="627.81" r="2.2" fill="#000"/>
<circle cx="468.51" cy="625.44" r="2.2" fill="#000"/>
<circle cx="482.15" cy="628.29" r="2.2" fill="#000"/>
<circle cx="469.27" cy="625.42" r="2.2" fill="#000"/>
<circle cx="472.17" cy="628.57" r="2.2" fill="#000"/>
<circle cx="474.94" cy="625.00" r="2.3" fill="#000"/>
<circle cx="474.63" cy="622.70" r="2.3" fill="#000"/>
<circle cx="474.68" cy="620.40" r="2.3" fill="#000"/>
<circle cx="474.71" cy="618.10" r="2.3" fill="#000"/>
<circle cx="474.79" cy="615.80" r="2.3" fill="#000"/>
<circle cx="474.76" cy="613.50" r="2.3" fill="#000"/>
<circle cx="474.74" cy="611.20" r="2.3" fill="#000"/>
<circle cx="474.77" cy="608.90" r="2.3" fill="#000"/>
<circle cx="474.96" cy="606.60" r="2.3" fill="#000"/>
<circle cx="474.70" cy="604.30" r="2.3" fill="#000"/>
<circle cx="474.70" cy="645.70" r="2.3" fill="#000"/>
<circle cx="501.20" cy="626.90" r="2.3" fill="#000"/>
<circle cx="502.40" cy="627.31" r="2.3" fill="#000"/>
<circle cx="503.60" cy="626.63" r="2.3" fill="#000"/>
<circle cx="504.80" cy="626.72" r="2.3" fill="#000"/>
<circle cx="506.00" cy="627.67" r="2.3" fill="#000"/>
<circle cx="507.20" cy="627.03" r="2.3" fill="#000"/>
<circle cx="508.40" cy="627.07" r="2.3" fill="#000"/>
<circle cx="509.60" cy="626.32" r="2.3" fill="#000"/>
<circle cx="510.80" cy="626.88" r="2.3" fill="#000"/>
<circle cx="512.00" cy="627.11" r="2.3" fill="#000"/>
<circle cx="513.20" cy="626.33" r="2.3" fill="#000"/>
<circle cx="514.40" cy="627.16" r="2.3" fill="#000"/>
<circle cx="515.60" cy="627.19" r="2.3" fill="#000"/>
<circle cx="516.80" cy="626.38" r="2.3" fill="#000"/>
<circle cx="511.00" cy="628.08" r="2.2" fill="#000"/>
<circle cx="515.20" cy="628.39" r="2.2" fill="#000"/>
<circle cx="502.22" cy="625.44" r="2.2" fill="#000"/>
<circle cx="502.21" cy="628.00" r="2.2" fill="#000"/>
<circle cx="508.52" cy="627.94" r="2.2" fill="#000"/>
<circle cx="504.59" cy="628.48" r="2.2" fill="#000"/>
<circle cx="505.73" cy="627.88" r="2.2" fill="#000"/>
<circle cx="513.69" cy="625.95" r="2.2" fill="#000"/>
<circle cx="505.13" cy="627.99" r="2.2" fill="#000"/>
<circle cx="504.62" cy="628.32" r="2.2" fill="#000"/>
<circle cx="508.96" cy="610.90" r="2.3" fill="#000"/>
<circle cx="509.26" cy="614.60" r="2.3" fill="#000"/>
<circle cx="509.47" cy="618.30" r="2.3" fill="#000"/>
<circle cx="509.30" cy="622.00" r="2.3" fill="#000"/>
<circle cx="509.20" cy="592.30" r="2.3" fill="#000"/>
<circle cx="509.20" cy="631.80" r="2.3" fill="#000"/>
<circle cx="535.90" cy="626.61" r="2.3" fill="#000"/>
<circle cx="537.10" cy="627.43" r="2.3" fill="#000"/>
<circle cx="538.30" cy="627.64" r="2.3" fill="#000"/>
<circle cx="539.50" cy="626.41" r="2.3" fill="#000"/>
<circle cx="540.70" cy="627.34" r="2.3" fill="#000"/>
<circle cx="541.90" cy="626.61" r="2.3" fill="#000"/>
<circle cx="543.10" cy="627.10" r="2.3" fill="#000"/>
<circle cx="544.30" cy="626.68" r="2.3" fill="#000"/>
<circle cx="545.50" cy="627.40" r="2.3" fill="#000"/>
<circle cx="546.70" cy="626.35" r="2.3" fill="#000"/>
<circle cx="547.90" cy="627.64" r="2.3" fill="#000"/>
<circle cx="549.10" cy="626.74" r="2.3" fill="#000"/>
<circle cx="550.30" cy="627.47" r="2.3" fill="#000"/>
<circle cx="551.50" cy="627.10" r="2.3" fill="#000"/>
<circle cx="549.90" cy="628.45" r="2.2" fill="#000"/>
<circle cx="546.49" cy="628.27" r="2.2" fill="#000"/>
<circle cx="543.09" cy="628.17" r="2.2" fill="#000"/>
<circle cx="546.37" cy="628.14" r="2.2" fill="#000"/>
<circle cx="542.91" cy="627.92" r="2.2" fill="#000"/>
<circle cx="536.67" cy="628.25" r="2.2" fill="#000"/>
<circle cx="551.78" cy="626.17" r="2.2" fill="#000"/>
<circle cx="543.63" cy="628.24" r="2.2" fill="#000"/>
<circle cx="550.30" cy="625.51" r="2.2" fill="#000"/>
<circle cx="551.55" cy="625.55" r="2.2" fill="#000"/>
<circle cx="543.43" cy="625.00" r="2.3" fill="#000"/>
<circle cx="543.94" cy="622.70" r="2.3" fill="#000"/>
<circle cx="543.82" cy="620.40" r="2.3" fill="#000"/>
<circle cx="543.95" cy="618.10" r="2.3" fill="#000"/>
<circle cx="543.94" cy="615.80" r="2.3" fill="#000"/>
<circle cx="543.94" cy="613.50" r="2.3" fill="#000"/>
<circle cx="543.75" cy="611.20" r="2.3" fill="#000"/>
<circle cx="543.41" cy="608.90" r="2.3" fill="#000"/>
<circle cx="543.85" cy="606.60" r="2.3" fill="#000"/>
<circle cx="543.70" cy="566.70" r="2.3" fill="#000"/>
<circle cx="569.70" cy="626.54" r="2.3" fill="#000"/>
<circle cx="570.90" cy="626.72" r="2.3" fill="#000"/>
<circle cx="572.10" cy="627.23" r="2.3" fill="#000"/>
<circle cx="573.30" cy="627.03" r="2.3" fill="#000"/>
<circle cx="574.50" cy="626.88" r="2.3" fill="#000"/>
<circle cx="575.70" cy="627.61" r="2.3" fill="#000"/>
<circle cx="576.90" cy="627.16" r="2.3" fill="#000"/>
<circle cx="578.10" cy="626.78" r="2.3" fill="#000"/>
<circle cx="579.30" cy="626.65" r="2.3" fill="#000"/>
<circle cx="580.50" cy="627.51" r="2.3" fill="#000"/>
<circle cx="581.70" cy="626.97" r="2.3" fill="#000"/>
<circle cx="582.90" cy="627.40" r="2.3" fill="#000"/>
<circle cx="584.10" cy="626.79" r="2.3" fill="#000"/>
<circle cx="585.30" cy="626.58" r="2.3" fill="#000"/>
<circle cx="578.63" cy="626.06" r="2.2" fill="#000"/>
<circle cx="582.59" cy="625.54" r="2.2" fill="#000"/>
<circle cx="570.52" cy="627.84" r="2.2" fill="#000"/>
<circle cx="574.58" cy="628.29" r="2.2" fill="#000"/>
<circle cx="578.40" cy="625.82" r="2.2" fill="#000"/>
<circle cx="582.36" cy="625.51" r="2.2" fill="#000"/>
<circle cx="582.34" cy="626.10" r="2.2" fill="#000"/>
<circle cx="571.45" cy="625.52" r="2.2" fill="#000"/>
<circle cx="571.73" cy="628.05" r="2.2" fill="#000"/>
<circle cx="575.24" cy="628.11" r="2.2" fill="#000"/>
<circle cx="578.13" cy="625.00" r="2.3" fill="#000"/>
<circle cx="578.08" cy="622.70" r="2.3" fill="#000"/>
<circle cx="578.06" cy="620.40" r="2.3" fill="#000"/>
<circle cx="578.49" cy="618.10" r="2.3" fill="#000"/>
<circle cx="578.16" cy="615.80" r="2.3" fill="#000"/>
<circle cx="577.98" cy="613.50" r="2.3" fill="#000"/>
<circle cx="577.90" cy="611.20" r="2.3" fill="#000"/>
<circle cx="578.33" cy="608.90" r="2.3" fill="#000"/>
<circle cx="578.38" cy="606.60" r="2.3" fill="#000"/>
<circle cx="578.24" cy="604.30" r="2.3" fill="#000"/>
<circle cx="578.20" cy="591.30" r="2.3" fill="#000"/>
<text x="446.10" y="586.55" font-size="5.7" fill="#111" textLength="19.16" lengthAdjust="spacingAndGlyphs" stroke="#111" stroke-width="0.125">EFEMP1</text>
<text x="446.10" y="591.45" font-size="5.7" fill="#111" textLength="18.63" lengthAdjust="spacingAndGlyphs" stroke="#111" stroke-width="0.125">ACVRL1</text>
<text x="446.10" y="597.05" font-size="5.7" fill="#111" textLength="13.30" lengthAdjust="spacingAndGlyphs" stroke="#111" stroke-width="0.125">MYH9</text>
<text x="446.10" y="600.85" font-size="5.7" fill="#111" textLength="12.51" lengthAdjust="spacingAndGlyphs" stroke="#111" stroke-width="0.125">ACY1</text>
<text x="446.10" y="605.55" font-size="5.7" fill="#111" textLength="13.04" lengthAdjust="spacingAndGlyphs" stroke="#111" stroke-width="0.125">GAR1</text>
<text x="446.10" y="610.65" font-size="5.7" fill="#111" textLength="20.23" lengthAdjust="spacingAndGlyphs" stroke="#111" stroke-width="0.125">EPB41L1</text>
<text x="446.10" y="614.15" font-size="5.7" fill="#111" textLength="12.51" lengthAdjust="spacingAndGlyphs" stroke="#111" stroke-width="0.125">RPS6</text>
<text x="446.10" y="619.25" font-size="5.7" fill="#111" textLength="10.82" lengthAdjust="spacingAndGlyphs" stroke="#111" stroke-width="0.125">FLT4</text>
<text x="446.10" y="624.15" font-size="5.7" fill="#111" textLength="21.82" lengthAdjust="spacingAndGlyphs" stroke="#111" stroke-width="0.125">COLEC12</text>
<text x="480.40" y="587.65" font-size="5.7" fill="#111" textLength="9.84" lengthAdjust="spacingAndGlyphs" stroke="#111" stroke-width="0.125">B2M</text>
<text x="480.40" y="592.35" font-size="5.7" fill="#111" textLength="14.10" lengthAdjust="spacingAndGlyphs" stroke="#111" stroke-width="0.125">HLA-B</text>
<text x="480.40" y="597.25" font-size="5.7" fill="#111" textLength="8.25" lengthAdjust="spacingAndGlyphs" stroke="#111" stroke-width="0.125">IFI6</text>
<text x="480.40" y="602.55" font-size="5.7" fill="#111" textLength="14.37" lengthAdjust="spacingAndGlyphs" stroke="#111" stroke-width="0.125">HLA-C</text>
<text x="480.40" y="607.05" font-size="5.7" fill="#111" textLength="14.10" lengthAdjust="spacingAndGlyphs" stroke="#111" stroke-width="0.125">HLA-A</text>
<text x="480.40" y="611.55" font-size="5.7" fill="#111" textLength="17.83" lengthAdjust="spacingAndGlyphs" stroke="#111" stroke-width="0.125">RPL13A</text>
<text x="480.40" y="615.65" font-size="5.7" fill="#111" textLength="17.83" lengthAdjust="spacingAndGlyphs" stroke="#111" stroke-width="0.125">EEF1A1</text>
<text x="480.40" y="620.35" font-size="5.7" fill="#111" textLength="9.84" lengthAdjust="spacingAndGlyphs" stroke="#111" stroke-width="0.125">MX1</text>
<text x="480.40" y="624.45" font-size="5.7" fill="#111" textLength="11.71" lengthAdjust="spacingAndGlyphs" stroke="#111" stroke-width="0.125">H1F0</text>
<text x="480.70" y="647.75" font-size="5.7" fill="#111" textLength="13.30" lengthAdjust="spacingAndGlyphs" stroke="#111" stroke-width="0.125">MYH9</text>
<text x="515.20" y="594.35" font-size="5.7" fill="#111" textLength="11.44" lengthAdjust="spacingAndGlyphs" stroke="#111" stroke-width="0.125">E2F6</text>
<text x="515.20" y="600.95" font-size="5.7" fill="#111" textLength="23.68" lengthAdjust="spacingAndGlyphs" stroke="#111" stroke-width="0.125">HLA-DRB1</text>
<text x="515.20" y="605.55" font-size="5.7" fill="#111" textLength="17.83" lengthAdjust="spacingAndGlyphs" stroke="#111" stroke-width="0.125">TTC39A</text>
<text x="515.20" y="610.65" font-size="5.7" fill="#111" textLength="18.62" lengthAdjust="spacingAndGlyphs" stroke="#111" stroke-width="0.125">NT5DC3</text>
<text x="515.20" y="615.05" font-size="5.7" fill="#111" textLength="13.04" lengthAdjust="spacingAndGlyphs" stroke="#111" stroke-width="0.125">G6PD</text>
<text x="515.20" y="619.65" font-size="5.7" fill="#111" textLength="15.35" lengthAdjust="spacingAndGlyphs" stroke="#111" stroke-width="0.125">PANX1</text>
<text x="515.20" y="624.05" font-size="5.7" fill="#111" textLength="12.24" lengthAdjust="spacingAndGlyphs" stroke="#111" stroke-width="0.125">GLB1</text>
<text x="550.00" y="568.75" font-size="5.7" fill="#111" textLength="19.69" lengthAdjust="spacingAndGlyphs" stroke="#111" stroke-width="0.125">ECHDC2</text>
<text x="550.00" y="602.55" font-size="5.7" fill="#111" textLength="15.17" lengthAdjust="spacingAndGlyphs" stroke="#111" stroke-width="0.125">RPP40</text>
<text x="550.00" y="607.35" font-size="5.7" fill="#111" textLength="24.48" lengthAdjust="spacingAndGlyphs" stroke="#111" stroke-width="0.125">RPS3RP1L</text>
<text x="550.00" y="611.95" font-size="5.7" fill="#111" textLength="19.69" lengthAdjust="spacingAndGlyphs" stroke="#111" stroke-width="0.125">SCAMP4</text>
<text x="550.00" y="616.55" font-size="5.7" fill="#111" textLength="12.51" lengthAdjust="spacingAndGlyphs" stroke="#111" stroke-width="0.125">EML3</text>
<text x="550.00" y="620.55" font-size="5.7" fill="#111" textLength="21.03" lengthAdjust="spacingAndGlyphs" stroke="#111" stroke-width="0.125">RPS15P7</text>
<text x="550.00" y="624.05" font-size="5.7" fill="#111" textLength="13.03" lengthAdjust="spacingAndGlyphs" stroke="#111" stroke-width="0.125">TWF2</text>
<text x="583.70" y="593.35" font-size="5.7" fill="#111" textLength="15.97" lengthAdjust="spacingAndGlyphs" stroke="#111" stroke-width="0.125">EBAG9</text>
<text x="583.70" y="600.95" font-size="5.7" fill="#111" textLength="10.11" lengthAdjust="spacingAndGlyphs" stroke="#111" stroke-width="0.125">GAA</text>
<text x="583.70" y="605.75" font-size="5.7" fill="#111" textLength="13.30" lengthAdjust="spacingAndGlyphs" stroke="#111" stroke-width="0.125">EMC2</text>
<text x="583.70" y="610.55" font-size="5.7" fill="#111" textLength="18.36" lengthAdjust="spacingAndGlyphs" stroke="#111" stroke-width="0.125">RPS16A</text>
<text x="583.70" y="615.05" font-size="5.7" fill="#111" textLength="12.77" lengthAdjust="spacingAndGlyphs" stroke="#111" stroke-width="0.125">ECH1</text>
<text x="583.70" y="620.05" font-size="5.7" fill="#111" textLength="11.44" lengthAdjust="spacingAndGlyphs" stroke="#111" stroke-width="0.125">TTF2</text>
<text x="583.70" y="624.05" font-size="5.7" fill="#111" textLength="15.17" lengthAdjust="spacingAndGlyphs" stroke="#111" stroke-width="0.125">RPL7A</text>
</svg></body></html>
